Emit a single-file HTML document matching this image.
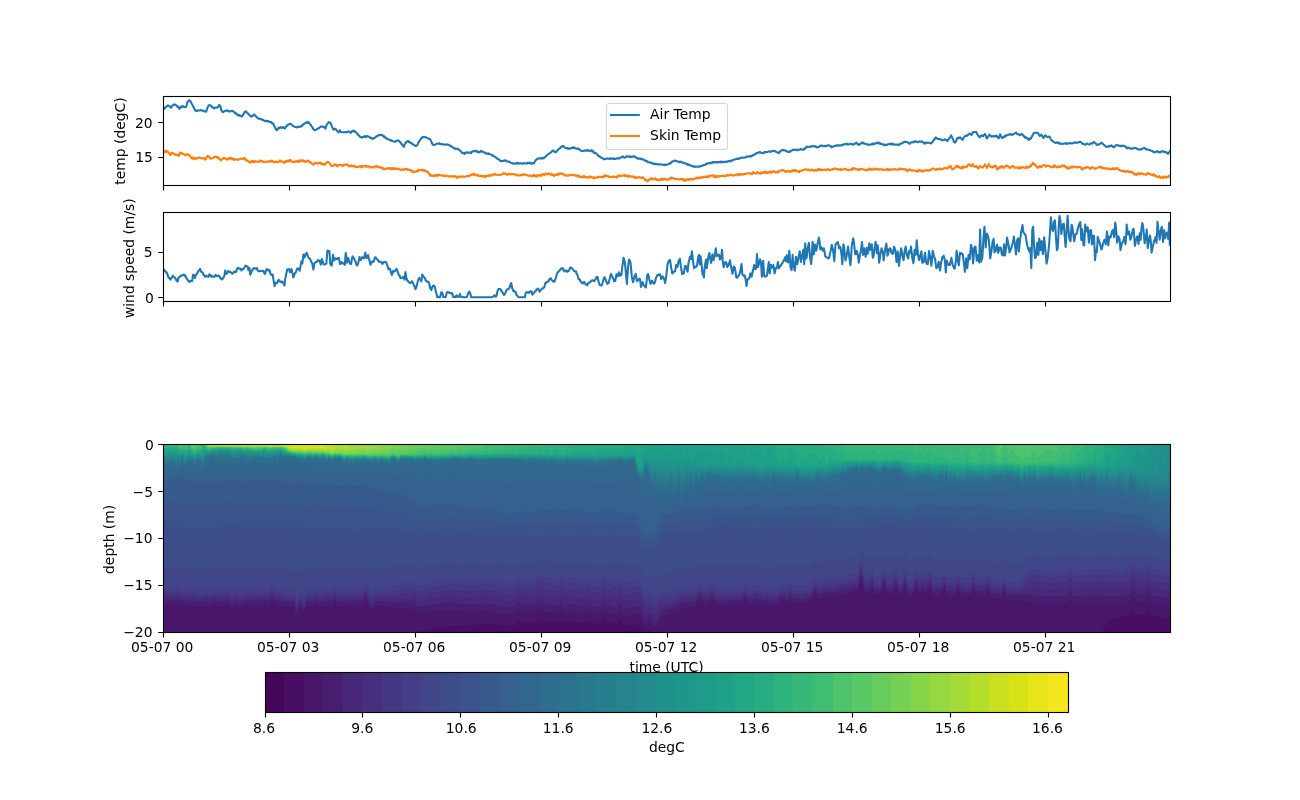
<!DOCTYPE html>
<html><head><meta charset="utf-8"><title>figure</title>
<style>html,body{margin:0;padding:0;background:#fff}svg{display:block}text{font-family:"DejaVu Sans","Liberation Sans",sans-serif;font-size:13.89px;fill:#000}</style></head><body>
<svg width="1300" height="800" viewBox="0 0 1300 800">
<rect width="1300" height="800" fill="#fff"/>
<clipPath id="c1"><rect x="163.5" y="96.5" width="1007.0" height="89.0"/></clipPath>
<g clip-path="url(#c1)" fill="none" stroke-width="2.08" stroke-linejoin="round" stroke-linecap="square">
<path d="M163.7 109.2 164.4 108.7 165.1 107.8 165.5 107 165.8 107.3 166.5 106.6 167.2 105.8 167.9 105.4 168.6 105.7 169.3 106.2 169.8 106.5 170.7 107.6 171 107.7 171.4 107.3 172.1 105.9 172.8 105.5 173.5 104.9 174.1 104.4 174.9 104.6 175.6 105 176.3 105.4 176.5 105.4 177 106.2 177.7 106.9 178.4 106.6 179.1 108 179.4 108.9 179.8 108.2 180.5 107.5 180.8 107 181.2 107.3 181.9 106.2 182.6 106 183.3 106.9 184 106.9 184.5 107.1 185.4 107 186 106.9 186.8 104.5 187.2 103.1 187.5 102.2 188.2 101.2 188.8 100.3 189.6 100.5 190.3 101.1 191 102.3 191.7 103.7 192.4 104.8 193.1 106.2 193.3 106.7 193.8 107.6 194.5 108.9 194.9 110.3 195.2 110.2 195.9 111 196.2 110.7 196.6 111.1 197.3 110.8 198 110.3 198.7 110.5 199.4 110.5 200.1 110.5 200.4 110.1 200.8 110.1 201.5 110.4 202.2 110.3 202.9 110.8 203.6 111.3 204.1 110.9 205 111.5 205.7 111.8 206.3 111.5 207.1 108.8 207.8 106.9 208.5 105.7 209 105.1 209.9 105.2 210.6 105.2 210.8 105.7 211.3 106 212 107.1 212.4 107.4 212.7 107.1 213.4 107.6 213.9 108.4 214.8 108.1 215.5 107.6 215.8 107.7 216.2 107.7 216.9 107.6 217.6 107.5 218.3 106.3 219 105.2 219.2 104.8 219.7 106 220.3 106.1 221.1 109.7 221.8 111 222.5 111.6 222.7 112.3 223.2 111.7 223.9 111.6 224.3 111 224.6 111.1 225.3 111.2 226 110.8 226.7 110.4 227.4 110.4 228.1 111.3 228.6 111 229.5 111.2 229.8 111.6 230.2 111.4 230.9 111.3 231.6 110.7 232.3 110.9 233 111.1 233.5 111.7 234.4 112 235.1 113 235.3 113.5 235.8 113.1 236.5 113.4 237.2 114.8 237.9 115.5 238.6 114.9 239.3 115.1 239.6 115.7 240 115.5 240.7 115.9 241.4 116.2 241.8 116.6 242.1 116.1 242.8 115.4 243.3 114.6 244.2 112.7 244.5 112.1 244.9 111.8 245.6 111.8 246 111.3 246.3 111.6 247 112.9 247.6 113.1 248.4 113.9 249.1 114.8 249.4 114.9 249.8 115.3 250.5 116.1 251.2 116.7 251.9 116 252.5 116.1 253.3 115 253.7 114.4 254 114.6 254.7 115 255 115.7 255.4 115.5 256.1 116.7 256.8 116.9 257.5 117.9 258.2 118.6 258.6 118.7 258.9 118.6 259.6 118.8 260.3 118.9 261 119.1 261.7 119.8 262.3 119.6 263.1 119.9 263.8 120.5 264.1 120.8 264.5 120.9 265.2 120.9 265.9 121.1 266.6 120.7 267.3 121.4 268 121.2 268.7 121.1 269.1 121.6 269.4 121.9 270.1 121.9 270.8 122.1 271.5 122.1 272.2 123.7 272.9 123.7 273.3 123.6 273.6 124.3 274.3 126.2 274.6 126.5 275 127.8 275.7 129 276.4 129.9 277 130 277.8 128.4 278.2 128.8 278.5 128.1 279.2 128.1 279.5 127.6 279.9 127.6 280.6 127.1 281.3 127.7 282 127.9 282.7 127.2 283.1 127.6 283.4 127.4 284.1 127.8 284.8 127.8 285 128.6 285.5 127.2 286.2 126.5 286.8 125.8 287.6 125 288 124.8 288.3 124.6 289 124.5 289.7 123.9 290 124 290.4 123.8 291.1 124.1 291.8 124.8 292.4 125.2 293.2 126.1 293.9 126.3 294.2 126.7 294.6 126.7 295.3 127 296 127.1 296.7 127.5 297.4 126.9 298.1 126.9 298.5 127 298.8 127 299.5 126.8 300.2 126.3 300.9 126.8 301.6 126.2 302.3 125.1 303 124.9 303.5 124.1 303.7 123.8 304.4 123.7 305.1 123.2 305.8 122.9 306.5 122.2 307.2 122.9 307.9 122.1 308.1 121.8 308.6 122.7 309.3 123.2 310 124.1 310.2 124.2 310.7 124.9 311.4 126.1 312.1 126.9 312.8 128.3 313.5 129.1 314.2 130 314.9 130.2 315.6 130 316.3 129.5 317 129 317.7 129 318.4 128.1 318.9 128.1 319.1 128.1 319.8 127.2 320.5 126.9 321.2 126.3 321.9 126.7 322.6 126.6 323.1 126.9 324 127.5 324.7 127.1 325.4 128.7 326.1 126.2 326.8 124.7 327.5 123.6 328.2 122.9 328.9 122 329.3 122.3 329.6 122.6 330.3 122.8 330.8 123.3 331.7 125.9 332.4 127.5 333.1 128.8 333.6 129.6 334.5 129.1 335.2 128.7 335.5 128.9 335.9 129.2 336.6 130.5 337.3 131.1 338 131.9 338.7 132.3 339.4 131.2 339.8 130.2 340.1 130.9 340.8 131.9 341.5 132.1 342.2 132.2 342.9 132.3 343.6 132.2 344.1 132.2 345 132.3 345.7 132.1 346.4 132.4 347.1 131.8 347.8 131.7 348.5 131.7 348.8 131.3 349.2 132 349.9 132 350.6 132.5 350.9 132.8 351.3 132.3 352 131.2 352.7 130.8 353.4 130.6 354.1 131.6 354.5 131.4 354.8 131.4 355.5 131.9 356.2 132.6 356.4 132.8 356.9 133.2 357.6 134.1 358.2 135 359 135.5 359.7 136.5 360.1 136.8 360.4 136.8 361.1 137.3 361.6 137.2 361.8 137.6 362.5 137.1 363.2 136.9 363.8 137 364.6 136.1 365.3 136.9 365.6 136.6 366 136.9 366.7 136.2 367.4 136.1 367.7 136.1 368.1 136.5 368.8 136.8 369.5 137 369.9 137.4 370.2 137.9 370.9 138 371.6 137.9 372.3 138.9 373 138.6 373.7 138.5 374.4 137.9 374.9 138 375.1 137.3 375.8 137.1 376.5 136.3 377.2 136 377.9 135.7 378.6 135.1 379.3 135 379.8 134.8 380 135.1 380.7 135.1 381.4 134.7 382.1 135.2 382.8 135.7 383.5 136.6 384.1 136.1 384.9 137.1 385.6 138.2 385.9 137.8 386.3 138 387 138.8 387.7 139.3 388.4 139.2 389.1 139.8 389.8 139.9 390.5 140.5 390.9 140.2 391.2 140.7 391.9 140.5 392.6 141.1 393.3 141.4 394 141.7 394.7 141.5 395.4 141.1 395.8 141.4 396.1 141.3 396.8 140.7 397.5 140.3 398.2 140.6 398.9 140.7 399.5 141.5 400.3 142.5 401 143.1 401.3 143.9 401.7 143.9 402.4 145.2 403.1 145.8 403.8 146.9 404.5 144.4 405 143.8 405.9 142.6 406.2 141.9 406.6 142.1 407.3 141.4 408 140.9 408.7 142 409.4 141.9 409.9 142.4 410.8 142.6 411.5 143.6 411.8 143.7 412.2 143.5 412.9 144.4 413.6 144.7 414.3 145.1 415 145.6 415.5 145.9 415.7 146 416.4 145.8 416.9 145.5 417.8 144.2 418.5 142.4 419.2 141.5 419.9 140.3 420.4 139.7 421.3 138.2 422 138 422.2 137.3 422.7 137.2 423.4 136.9 424.1 137.1 424.8 137.2 425.5 137.1 426.2 137.4 426.5 137.6 426.9 137.7 427.6 138.3 428.3 138.5 429 138.8 429.7 139.1 430.2 139.3 431.1 141.1 431.8 142.7 432.1 143.6 432.5 144 433.2 144.9 433.9 145.1 434.6 144.9 435.1 144.7 436 144.2 436.7 143.8 437 143.9 437.4 143.4 438.1 143.6 438.8 143.5 439.5 143.4 440 144.1 440.9 144.1 441.6 144 442.3 144.3 443 144.4 443.7 144.4 444.4 144.5 445.1 144.7 445.5 144.8 445.8 144.5 446.5 144.7 447.2 144.3 447.9 144.7 448.6 144.8 449.3 145.1 450 145.6 450.7 146.1 451.1 146 451.4 146.3 452.1 146.9 452.8 147.4 453.5 147.7 454.2 148.6 454.9 148.3 455.6 148.9 456 149.2 456.3 148.8 457 148.7 457.7 148.6 458.4 148.9 459.1 149.8 459.8 150.3 460.3 150.9 461.2 151.7 461.9 152.8 462.1 152.4 462.6 153 463.3 153.1 464 152.9 464.6 153.8 465.4 152.7 466.1 152.6 466.8 152.3 467.1 152.8 467.5 152.3 468.2 152.6 468.9 152.5 469.6 152.6 470.3 152.4 470.8 152.8 471 153.2 471.7 151.8 472.4 151.3 472.6 151.3 473.1 151.4 473.8 151.2 474.5 151.1 475.1 150.6 475.9 151.3 476.6 151.5 477.3 151.2 477.5 152.1 478 152.4 478.7 151.9 479.4 152.3 480.1 152.3 480.8 151.2 481.2 150.8 481.5 151.1 482.2 151.6 482.9 151.8 483.1 152.2 483.6 152.3 484.3 152.2 485 152.9 485.5 153.4 486.4 153.4 487.1 153.6 487.8 153.5 488 153.8 488.5 153.4 489.2 154 489.9 154 490.5 154.4 491.3 154.8 492 154.9 492.7 155.6 492.9 156.1 493.4 155.7 494.1 156.3 494.8 156.7 495.4 156.9 496.2 157.9 496.9 158.5 497.6 158.7 497.9 158.8 498.3 159 499 159.7 499.7 160 500.3 160.9 501.1 161.1 501.8 161.3 502.1 161 502.5 161.1 503.2 160.8 503.9 161 504.6 160.4 505.3 160.1 506 160.9 506.7 161.5 507.1 161.3 507.4 161.5 508.1 161.7 508.8 161.5 509.5 161.9 510.2 162.3 510.9 162.8 511.6 163.1 512 163.3 512.3 163.1 513 163.6 513.7 163.5 514.4 163.5 515.1 163.8 515.8 163.4 516.5 162.9 517.2 163.4 517.5 163.7 517.9 162.9 518.6 163.5 519.3 163.5 520 163.3 520.7 163.3 521.2 163.5 522.1 163.4 522.8 163.8 523.5 163.6 524.2 163 524.9 163.2 525.6 163.4 526.3 163.5 527 163 527.4 162.8 527.7 163.3 528.4 162.9 529.1 162.9 529.8 162.8 530.5 163.1 531.2 163.8 531.9 163 532.3 163.4 532.6 163 533.3 163.3 534 163.4 534.7 161.9 535.4 160.5 536.1 159.9 536.8 159.2 537.2 159.1 537.5 158.9 538.2 158.5 538.9 158.4 539.6 158.3 540.3 158.4 541 158.1 541.7 158.6 542.1 158.3 542.4 157.8 543.1 157.8 543.8 158.3 544.4 157.4 545.2 156.9 545.9 156.5 546.6 155.4 547.3 154.9 548 154.3 548.3 154.3 548.7 153.9 549.4 153.5 550.1 153 550.8 152.3 551.5 152 552.2 151 552.6 150.5 552.9 150.5 553.6 150.9 554.3 151.5 555 152.2 555.7 152.3 556.4 151.5 557.1 150.7 557.5 150.3 557.8 150.1 558.5 149.4 559.2 148.5 559.4 148.5 559.9 148.5 560.6 147.1 561.2 147.1 562 146.2 562.7 146.4 563.1 146 563.4 145.8 564.1 146.8 564.8 147.7 565.5 147.7 566.2 148.3 566.8 148.4 567.6 148 568.3 148.9 568.6 148.8 569 148.4 569.7 148.8 570.4 148.5 571.1 148.1 571.8 148.2 572.5 147.5 572.9 147.8 573.2 147.4 573.9 147.9 574.6 147.6 575.3 148.4 576 148.3 576.7 148.8 577.4 148.5 577.9 148.7 578.1 149.2 578.8 148.6 579.5 149.4 580.2 150.3 580.9 150.5 581.6 151 582.1 151 583 151.1 583.7 150.7 584.4 150.5 584.6 150.4 585.1 150.7 585.8 150.7 586.5 150.7 587.2 149.9 587.7 150.3 588.6 150.7 589.3 150.9 590 150.7 590.7 150.6 591.4 150.3 592.1 151.3 592.6 150.6 593.5 152.2 594.2 153 594.5 153 594.9 152.5 595.6 153.1 596.3 153.4 597 154.4 597.5 154.8 597.7 155.1 598.4 155.7 599.1 156.5 599.8 156.5 600.5 157.4 601.2 157.4 601.9 157.8 602.6 158.3 603.3 158.6 603.6 159.3 604 159.3 604.7 159.3 605.4 158.9 606.1 158.9 606.7 158.6 607.5 158.4 608.2 158.8 608.9 158.8 609.6 158.4 610.3 158.9 611 158.3 611.7 158.7 612.4 158.6 613.1 158.6 613.5 158.4 613.8 158.9 614.5 158.9 615.2 159 615.9 158.7 616.6 158.4 617.1 158.6 618 158.2 618.7 158.4 619.4 158.4 620.1 158 620.8 157.4 621.5 157.1 622.2 156.9 622.7 156.3 623.6 157.2 624.3 157.7 624.5 157.7 625 157.5 625.7 157.1 626.4 156.4 627 156 627.8 156.6 628.5 156.5 629.2 157 629.5 156.4 629.9 156.2 630.6 157 631.3 157.1 631.9 156.8 632.7 156.5 633.4 156.7 633.8 156.2 634.1 156.7 634.8 156.6 635.5 157.4 636.2 157.3 636.9 158 637.6 158.6 638.3 158.3 639 158.8 639.3 158.5 639.7 158.5 640.4 158.5 641.1 159.2 641.8 159 642.4 159.5 643.2 159.2 643.9 159.8 644.6 160.2 644.9 160.7 645.3 161 646 160.7 646.7 161 647.4 161.2 647.9 162.2 648.8 162.2 649.5 162.4 650.2 162.8 650.9 162.4 651.6 162.8 652.3 163.6 653 163.5 653.7 163.6 654.1 163.4 654.4 163.8 655.1 164.3 655.8 163.7 656.5 164.1 657.2 164.1 657.8 164.4 658.6 164.4 659.3 164.4 660 164.3 660.7 164.5 661.4 164.4 662.1 164.6 662.8 164.7 663.5 164.9 664.2 164.7 664.5 164.8 664.9 165.1 665.6 164.6 666.3 164.5 667 164.7 667.6 164.4 668.4 164.1 669.1 163.8 669.8 163.2 670.1 163.5 670.5 163.4 671.2 162.7 671.9 161.6 672.5 161.6 673.3 161 674 160.9 674.7 160.7 675.4 160.5 676.1 161.3 676.8 161.1 677.5 161.5 678.2 161.7 678.9 162.1 679.3 162.2 679.6 161.6 680.3 162.1 681 161.6 681.7 162.2 682.4 162.6 683.1 162.8 683.8 163.2 684.5 163 685.2 163.4 685.5 163.4 685.9 163.8 686.6 164.1 687.3 163.9 688 165.1 688.5 164.4 689.4 164.7 690.1 165.3 690.8 165.6 691.5 165.9 692.2 165.8 692.9 166.5 693.6 166.3 694.1 166.8 695 166.9 695.7 166.4 696.4 166.6 697.1 166.5 697.8 166.7 698.5 166.6 699.2 166.6 699.6 166.3 699.9 166.5 700.6 166.5 701.3 165.7 702 165.7 702.7 165.7 703.4 165.2 704.1 164.8 704.8 165 705.5 164.5 705.8 164.2 706.2 163.7 706.9 164.2 707.6 163.6 708.3 163.2 708.9 163.1 709.7 162.9 710.4 163.5 711.1 162.9 711.8 162.8 712.5 162.1 713.2 162.7 713.9 162.1 714.6 161.9 715 162.3 715.3 162 716 162.4 716.7 162.6 717.4 161.9 718.1 162.4 718.8 161.9 719.5 162.2 720.2 162.3 720.9 161.6 721.1 162.4 721.6 161.9 722.3 161.7 723 162 723.7 162.3 724.2 161.8 725.1 162 725.8 161.5 726.5 162 727.2 161.6 727.9 161.3 728.6 161.5 729.3 160.8 730 160.9 730.4 161.4 730.7 160.8 731.4 160.9 732.1 160.4 732.8 160 733.5 159.9 734.2 159.8 734.9 159.4 735.6 159.1 736.3 159 736.5 158.7 737 159 737.7 158.9 738.4 158.9 739.1 158.1 739.6 158.7 740.5 158.2 741.2 157.6 741.9 157.8 742.6 157.7 743.3 157.6 744 157.6 744.7 157.5 745.4 157.5 745.8 157.2 746.1 156.6 746.8 156.7 747.5 156.8 748.2 156.3 748.9 156.4 749.6 156.4 750 156.3 750.3 156.7 751 155.8 751.7 156.1 752.4 155.6 753.1 155.1 753.8 155 754.5 154.3 754.9 154.4 755.2 153.7 755.9 153.7 756.6 153.1 757.3 152.9 758 152.7 758.7 152.3 759.4 152.6 759.9 152 760.1 152.1 760.8 152.8 761.5 153 762.2 153.1 762.9 152.9 763.6 153.2 764.3 152.1 764.8 152.1 765 152 765.7 152.3 766.4 152.1 767.1 152.1 767.8 151.9 768.5 151.6 769.2 151.3 769.9 151.2 770.6 151.9 770.9 151.6 771.3 151.4 772 151.1 772.7 151.1 773.4 151 774 151 774.8 150.8 775.5 151.7 776.2 151.8 776.5 152.1 776.9 152.3 777.6 152.7 778.3 152.7 778.9 153.1 779.7 151.5 780.4 151.2 780.8 151.5 781.1 150.6 781.8 150.3 782.5 150.1 783.2 149.8 783.9 150.5 784.6 150.3 785.1 150.3 786 150.9 786.7 151.1 787.4 151.7 788.1 151.9 788.8 151.9 789.5 151.3 790.2 151.9 790.6 151.1 790.9 150.9 791.6 150.7 792.3 150.2 793 149.7 793.7 149.8 794.4 149.9 795.1 149.8 795.5 149.8 795.8 149.5 796.5 149.5 797.2 150.3 797.9 149.8 798.6 149.8 799.3 149.7 800 149.7 800.5 148.9 800.7 149.2 801.4 149.4 802.1 149.7 802.8 149.4 803.5 149.7 804.2 148.5 804.8 148.9 805.6 148.1 806.3 147.3 806.6 146.5 807 147.1 807.7 146.7 808.4 146.7 809.1 146.9 809.8 146.7 810.5 146.8 811.2 146.7 811.5 145.9 811.9 146.2 812.6 146.5 813.3 146.3 814 146.3 814.7 146 815.4 146.9 816.1 146.6 816.5 147.2 816.8 147.4 817.5 147.5 818.2 147 818.9 147 819.6 146.2 820.3 145.7 820.8 145.8 821 145.6 821.7 145.7 822.4 145.6 823.1 146.2 823.8 146.3 824.5 145.8 825.2 145.8 825.7 146.3 826.6 145.8 827.3 145.6 828 145.3 828.7 145.4 829.4 145.5 830 145.9 830.8 146.1 831.5 147.3 831.9 146.9 832.2 146.9 832.9 146.9 833.6 146.4 834.3 146 835 146 835.7 145.9 836.4 145.2 836.8 145.5 837.1 145.5 837.8 145.4 838.5 145.7 839.2 145.4 839.9 145.4 840.6 145.3 841.3 145.4 841.7 145.1 842 145.4 842.7 144.6 843.4 144.9 844.1 144.1 844.8 144.1 845.5 144.1 846.2 144.3 846.6 143.9 846.9 143.7 847.6 144.5 848.3 144.5 849 144.2 849.7 144.2 850.4 143.7 850.9 143.7 851.8 143.9 852.5 144.6 852.8 144.8 853.2 144.5 853.9 144.1 854.6 143.5 855.3 143.6 856 143 856.5 142.8 856.7 142.9 857.4 143.8 858.1 144.4 858.3 144.9 858.8 144.9 859.5 144.3 860.1 144.2 860.9 143.5 861.6 143.3 862.2 142.4 863 142.5 863.7 143.4 864.4 143.6 865.1 143.6 865.8 144.2 866.5 144.3 866.9 144.4 867.2 144.3 867.9 144.5 868.6 144.6 869.3 145 870 144.5 870.7 144.5 871.4 144.4 872.1 143.7 872.8 143.6 873.1 144.5 873.5 143.5 874.2 144 874.9 143.5 875.5 143.5 876.3 143 877 143 877.7 143.2 878.4 142.4 878.6 142.9 879.1 143 879.8 143.7 880.5 143.3 881.1 144 881.9 144.2 882.6 144.2 883.3 144.2 884 145.2 884.7 144.6 885.4 144.8 886.1 145.1 886.6 145.2 887.5 144.4 888.2 144.3 888.9 143.9 889.6 144 890.3 144.4 891 143.5 891.7 144.3 892.4 143.5 892.8 144.3 893.1 144.1 893.8 144.9 894.5 144.6 895.2 144.4 895.9 144.6 896.6 144.5 897.3 144.7 898 144.6 898.7 144.8 898.9 145.1 899.4 144.7 900.1 143.9 900.8 143.5 901.4 143.5 902.2 143.5 902.9 142.7 903.6 142.2 903.9 142.3 904.3 141.7 905 141.6 905.7 142.1 906.4 142 907.1 142 907.5 142.3 907.8 142.4 908.5 143 909.2 143.7 909.9 143.6 910.6 142.9 911.1 142.2 912 142.2 912.7 142.2 913.4 142.4 913.6 141.6 914.1 141.8 914.8 141.5 915.5 141.6 916.1 141.3 916.9 142 917.6 142.2 917.9 142.1 918.3 141.9 919 141.8 919.7 141.4 920.4 141.6 921.1 141.7 921.8 141.3 922.2 141.9 922.5 141.7 923.2 142.3 923.9 143.5 924.1 143.6 924.6 143 925.3 143.5 926 142.6 926.5 142.4 927.4 142.9 928.1 142.8 928.8 142.7 929 142.7 929.5 143 930.2 143.1 930.9 143.4 931.5 143.2 932.3 142 933 141.3 933.3 140.4 933.7 140.3 934.4 139.5 935.1 138.1 935.8 137.4 936.5 138.3 937.2 138.4 937.6 139 937.9 139 938.6 139 939.3 139.1 940 139.1 940.7 139.3 941.4 140 942.1 140.2 942.5 140.2 942.8 140.4 943.5 139.8 944.2 139.9 944.9 139.4 945.6 139.7 946.3 140 947 140.4 947.5 141.2 947.7 139.9 948.4 139.4 949.1 138.8 949.3 138.3 949.8 137.4 950.5 137 951.1 135.4 951.9 136.8 952.6 138.6 953.3 140 954 141.9 954.7 142.6 955.4 142.4 956.1 141 956.8 139.2 957.3 138.2 958.2 137.6 958.9 138.1 959.1 137.7 959.6 137.9 960.3 137.4 961 138.3 961.7 139.2 962.4 139.8 962.6 139.9 963.1 138.8 963.8 137.4 964.1 137.1 964.5 136.7 965.2 136.2 965.9 135.6 966.6 136 967.3 135.1 967.8 135.3 968 134.9 968.7 134.5 969.4 133.9 969.6 133.5 970.1 133.7 970.8 133.7 971.5 135 972.2 133.6 972.9 132.5 973.3 132 973.6 131.9 974.3 132.1 975 132.1 975.7 131.9 976.4 132.2 977.1 133.7 977.6 134.6 978.5 135.9 979.2 136.8 979.5 137.4 979.9 137.1 980.6 136 981.3 135.7 982 135.3 982.7 135.9 983.1 136.3 983.4 135.6 984.1 134.8 984.8 134.3 985 133.9 985.5 134.9 986.2 137.2 986.9 138.6 987.6 137.3 988.3 136.4 989 135.3 989.3 135 989.7 134.7 990.4 135.8 991.1 136 991.8 136.8 992.5 136.1 993.2 136.3 993.9 136.4 994.2 136.5 994.6 135.9 995.3 136.5 996 136 996.7 135.6 997.4 136.9 998.1 137.6 998.5 138.4 998.8 138.1 999.5 136 1000 134.3 1000.9 135.8 1001.6 137.2 1002.2 138.2 1003 137.4 1003.7 136.9 1004.4 136.7 1004.7 136.9 1005.1 135.5 1005.8 135.9 1006.5 135.4 1007.1 135.3 1007.9 135.1 1008.6 134.7 1009.3 134.3 1009.6 134.1 1010 134 1010.7 134.9 1011.4 134.6 1012.1 134.6 1012.7 134.8 1013.5 133.9 1014.2 133.7 1014.9 133.4 1015.6 132.8 1016.3 132.6 1017 134.1 1017.6 134.3 1018.4 134.2 1019.1 134.7 1019.8 135 1020.1 135.3 1020.5 134.7 1021.2 134.1 1021.9 133.8 1022.6 135.1 1023.3 135.3 1023.8 136.2 1024 136.2 1024.7 137.4 1025.4 136.7 1026.1 137.9 1026.8 137.8 1027.5 138.4 1028.2 139 1028.7 140.2 1029.6 138.7 1030.3 138.1 1031 138.6 1031.7 136.9 1032.4 135.6 1033.1 134.3 1033.6 133.3 1034.5 133 1035.2 132.9 1035.9 132.8 1036.1 132.8 1036.6 132.7 1037.3 132.8 1037.9 133 1038.7 134.4 1039.4 135.2 1039.8 135.8 1040.1 135.6 1040.8 135.3 1041.4 134.5 1042.2 136.1 1042.9 136.8 1043.5 137.9 1044.3 136.8 1045 135.5 1045.3 135.5 1045.7 135.4 1046.4 136.6 1047.1 136.8 1047.8 137 1048.5 136.8 1049.2 136.5 1049.9 137.1 1050.6 138.7 1051.3 140 1052 140.7 1052.7 141.1 1053.4 141.8 1053.9 142.2 1054.8 142.7 1055.5 142.9 1056.2 142.5 1056.9 142.3 1057.6 142.9 1058.3 143.2 1059 142.5 1059.7 143.4 1060.1 144 1060.4 143.7 1061.1 143.7 1061.8 143.8 1062.5 144.1 1063.2 143.7 1063.9 143.5 1064.6 143.6 1065.3 143.3 1066 143.6 1066.7 143.2 1067.1 143.9 1067.4 143.8 1068.1 143.5 1068.8 143.3 1069.5 143.5 1070.2 143 1070.9 143.2 1071.6 143.3 1072 143.6 1072.3 143.3 1073 143.3 1073.7 142.9 1074.4 142.4 1075.1 142.3 1075.8 143 1076.5 142.7 1076.9 142.7 1077.2 142.6 1077.9 142.4 1078.6 142.4 1079.3 142.2 1080 141.7 1080.7 142.2 1081.4 142.6 1082.1 143.1 1082.5 144 1082.8 143.6 1083.5 143.7 1084.2 144.3 1084.9 144.7 1085.6 144.6 1086.3 143.9 1087 143.8 1087.4 143.5 1087.7 143.8 1088.4 144.2 1089.1 144.5 1089.8 144.3 1090.5 143.4 1091.2 143.4 1091.9 143.3 1092.3 143.6 1092.6 143.1 1093.3 142.7 1094 141.9 1094.7 142.6 1095.4 143.4 1096.1 143.9 1096.6 144.9 1097.5 144.8 1098.2 144.4 1098.9 144.6 1099.1 144.7 1099.6 144 1100.3 143.5 1101 143 1101.5 142.6 1102.4 143.6 1103.1 144.1 1103.8 144.9 1104 145 1104.5 145.2 1105.2 145.9 1105.9 146.8 1106.5 146.8 1107.3 146.6 1108 146.9 1108.7 146.5 1108.9 146 1109.4 146.2 1110.1 145.7 1110.8 146.1 1111.4 145.4 1112.2 146.1 1112.9 146.9 1113.6 146.8 1113.8 147.5 1114.3 146.6 1115 146.3 1115.7 145.6 1116.3 145.1 1117.1 145.3 1117.8 145.4 1118.5 145.2 1118.8 145.8 1119.2 145.8 1119.9 146 1120.6 146.2 1121.2 145.6 1122 146.1 1122.7 146 1123.4 145.5 1123.7 145.8 1124.1 146.2 1124.8 146.2 1125.5 146.5 1126.2 147.3 1126.9 148.3 1127.6 147.8 1128.3 147.6 1128.6 147.9 1129 147.9 1129.7 148.3 1130.4 148.6 1131.1 148.2 1131.8 148.8 1132.5 148.8 1133.2 148.2 1133.9 148 1134.2 148.3 1134.6 147.8 1135.3 148 1136 148.1 1136.6 148.6 1137.4 149 1138.1 149.2 1138.8 149.6 1139.1 149.8 1139.5 149.7 1140.2 149.2 1140.9 149.3 1141.5 149.5 1142.3 148.6 1143 148.4 1143.7 148.1 1144 148 1144.4 147.9 1145.1 148.2 1145.8 149.5 1146.5 149.5 1147.2 149.2 1147.9 149.6 1148.6 149.9 1148.9 149.8 1149.3 150.1 1150 150.1 1150.7 150.5 1151.4 150.8 1152.1 151.1 1152.8 151.1 1153.5 152.1 1153.8 152.4 1154.2 152.3 1154.9 151.8 1155.6 152 1156.3 151.8 1157 151.3 1157.7 151.3 1158.4 152.1 1158.8 151.8 1159.1 152.3 1159.8 152.4 1160.5 151.7 1161.2 151.5 1161.9 151.6 1162.6 151.7 1163.3 151.1 1163.7 151.6 1164 151.7 1164.7 151.9 1165.4 151.9 1166.1 152.5 1166.8 152.9 1167.5 152.7 1168 153.8 1168.9 152.5 1169.2 152.4 1169.6 151.7 1170.2 150.9" stroke="#1f77b4"/>
<path d="M163.7 152.4 164.4 151.7 165.1 151.5 165.5 150.4 165.8 152.1 166.5 151.7 167.2 151 167.9 152.1 168.6 152.8 169.3 153.4 170 154.9 170.4 155 170.7 154.4 171.4 152.8 171.6 152.8 172.1 152.8 172.8 153.4 173.5 153.4 174.2 154.2 174.7 154.1 175.6 155 176.3 154.8 176.5 154.9 177 155.1 177.7 154.8 178.4 155.8 179.1 155.5 179.8 153.1 180.2 152.5 180.5 152.6 181.2 153.5 181.9 153.1 182.6 153.8 183.3 154.1 183.9 154.3 184.7 154.7 185.4 154.9 185.7 155.5 186.1 154.4 186.8 154.2 187.5 154 188.2 155.2 188.9 154.9 189.4 155.3 190.3 156.3 191 157.7 191.2 157.5 191.7 158.3 192.4 157.3 193.1 158.9 193.7 159.2 194.5 157.9 195.2 158.3 195.5 158.7 195.9 158.1 196.6 158.3 197.3 158.7 198 157.7 198.7 157.5 199.4 157.4 200.1 158.1 200.4 157.8 200.8 158 201.5 158.2 202.2 158.8 202.9 158.3 203.6 158.2 204.3 158 205 159.6 205.3 159.2 205.7 159.3 206.4 157.7 207.1 156.4 207.8 155.9 208.5 156.4 209.2 156.6 209.6 157.2 209.9 158.5 210.6 158.3 211.3 158.8 212 158.3 212.7 157.7 213.3 157.9 214.1 157.2 214.8 156.7 215.1 156.9 215.5 156.6 216.2 157.1 216.9 157.6 217.6 156.8 218.3 158.4 219 158.1 219.4 158.8 219.7 158.8 220.4 159.9 220.7 160.4 221.1 159.9 221.8 159.3 222.5 158.9 223.2 158.5 223.9 157.9 224.6 158.2 224.9 158.3 225.3 158.6 226 158.7 226.7 159.6 227.4 158.9 228.1 158.5 228.8 159.4 229.5 158 229.8 158.8 230.2 158.1 230.9 158.7 231.6 157.8 232.3 159.2 233 158.9 233.7 158.7 234.4 160 234.7 159.7 235.1 159.4 235.8 159.2 236.5 159.5 237.2 159.6 237.9 159.9 238.6 159.8 239.3 159.1 239.6 159.2 240 159.1 240.7 158.6 241.4 158.7 242.1 158.7 242.8 158.9 243.5 159 244.2 157.9 244.5 158.4 244.9 158.3 245.6 160.1 246.3 159.9 247 160.7 247.7 160.7 248.2 161.2 249.1 162.1 249.8 162.2 250.1 162.6 250.5 161.5 251.2 162 251.9 160.9 252.6 162.1 253.3 161.3 254 162 254.3 161 254.7 161.8 255.4 161.3 256.1 161.6 256.8 161.8 257.5 161.6 258.2 161.8 258.9 161.9 259.2 161.9 259.6 161.4 260.3 160.4 261 160.8 261.7 161.4 262.3 160.9 263.1 162.2 263.8 161.7 264.5 161.7 265.2 162.2 265.9 162.1 266.6 161.8 267.3 161.2 267.8 161.7 268.7 161.6 269.4 161 270.1 161.7 270.8 161.5 271.5 160.6 272.2 161.6 272.7 161.1 273.6 162.2 274.3 162.2 275 161.6 275.7 161.7 276.4 162 277.1 161.8 277.6 162.5 278.5 161.9 279.2 161.3 279.9 161.5 280.1 160.4 280.6 161.4 281.3 161.8 282 161.4 282.5 161.3 283.4 162.1 284.1 162.8 284.4 162.2 284.8 161.5 285.5 162.4 286.2 160.8 286.9 161.5 287.6 160.8 288 161.3 288.3 160.5 289 161.3 289.7 160.8 290 159.9 290.4 159.9 291.1 160.9 291.8 161.8 292.4 161.6 293.2 161.7 293.9 161.7 294.2 162.2 294.6 162 295.3 161.7 296 161 296.7 161.7 297.4 161.7 298.1 160.5 298.8 162 299.5 161.2 299.8 160.7 300.2 160.1 300.9 161.2 301.6 161.2 302.3 160.7 303 160.2 303.5 161.4 303.7 160.7 304.4 160.7 305.1 162 305.8 161.7 306.5 161.1 307.1 160.5 307.9 161.4 308.6 160.6 309.3 162 309.6 161.8 310 161.9 310.7 162.2 311.4 163.5 312.1 163.7 312.8 164.2 313.3 164.7 314.2 163.7 314.9 163.2 315.6 162.7 316.3 163.2 317 163.6 317.7 163.1 318.2 163.4 319.1 162.6 319.8 162.9 320.5 162.8 320.7 162.6 321.2 164.2 321.9 164.1 322.6 163.8 323.1 164 324 164.5 324.7 164 325 164.8 325.4 163.7 326.1 163.4 326.8 162.4 327.5 161.9 328.2 162.1 328.9 162.4 329.3 163 329.6 163.4 330.3 164.4 331 165.4 331.7 166.3 332.4 166.1 333 165.7 333.8 165.5 334.5 164.4 334.9 165 335.2 164.8 335.9 164.5 336.6 165.9 337.3 166.4 338 164.8 338.7 165.4 339.1 165.4 339.4 164.8 340.1 165 340.8 165 341.5 165.5 342.2 165.2 342.9 166 343.6 164.6 344.1 165.1 345 164.7 345.7 164.9 346.4 164.4 347.1 164.3 347.8 165 348.5 166 349 166.5 349.9 166 350.6 165.9 351.3 165.3 352 166.3 352.7 166.3 353.4 165.7 354.1 166.1 354.8 165.9 355.1 167.1 355.5 166.7 356.2 166.7 356.9 167.1 357.6 167.3 358.2 167.1 359 166.6 359.7 166.4 360.4 166 361.1 166.7 361.3 167.4 361.8 165.7 362.5 166.5 363.2 166.6 363.8 166 364.6 166.4 365.3 165.8 366 166.6 366.2 165.8 366.7 166.3 367.4 166.7 368.1 166.5 368.7 166.1 369.5 166.8 370.2 167.4 370.9 167.2 371.1 167.4 371.6 166.8 372.3 167.2 373 167.3 373.6 166.8 374.4 167.6 375.1 166.6 375.8 166.2 376.5 165.9 377.2 167 377.9 166.6 378.6 167.1 379.3 167.1 380 167.7 380.4 167.6 380.7 167.1 381.4 167.7 382.1 168.3 382.8 167.7 383.5 169.2 384.2 169.2 384.9 169.2 385.6 168.8 385.9 169 386.3 168.4 387 168.7 387.7 168.3 388.4 168.5 389 168.1 389.8 168.6 390.5 169.1 391.2 168.2 391.9 169.3 392.1 168.1 392.6 168 393.3 168.9 394 168.9 394.7 169.1 395.1 168.2 395.4 168.9 396.1 168.8 396.8 169.2 397.5 168.5 398.2 169.1 398.9 168.8 399.6 169.5 400.1 169.6 401 170.1 401.7 169.4 402.4 169.4 403.1 169.8 403.8 170.1 404.5 169.3 405 169 405.9 168.8 406.6 169.4 406.9 169.1 407.3 169.9 408 169.6 408.7 169.4 409.3 169.9 410.1 170 410.8 170.1 411.5 171.4 411.8 171.4 412.2 170.6 412.9 172.1 413.6 171.7 414.2 171.3 415 171.9 415.7 171.7 416.4 171.4 416.7 170.9 417.1 171.5 417.8 171.2 418.5 169.5 419.1 170.4 419.9 170.4 420.6 170 421.3 170.2 421.6 170 422 169.8 422.7 170.1 423.4 170.9 424.1 169.8 424.7 170.6 425.5 171.1 426.2 171.1 426.9 171.7 427.1 171.4 427.6 172 428.3 173 429 173.8 429.6 173.8 430.4 176 431.1 175 431.8 175.8 432.1 175.8 432.5 175.7 433.2 176.3 433.9 175.4 434.5 176 435.3 175.8 436 174.8 436.7 175.6 437.4 174.8 437.6 176.2 438.1 175 438.8 175 439.5 174.8 440 175.1 440.9 175.5 441.6 175.4 442.3 175.3 443 175.6 443.7 175.9 444.4 176.6 445.1 175.4 445.8 175.9 446.5 175.8 447.2 175.7 447.4 175.8 447.9 175.9 448.6 176.6 449.3 176.2 450 176.1 450.7 176.6 451.1 176.4 451.4 176.2 452.1 176.5 452.8 176 453.5 176.6 454.1 176.5 454.9 176.3 455.6 176.2 456.3 177.5 456.6 177 457 178.2 457.7 176.6 458.4 177.1 459.1 176.5 459.7 176.8 460.5 177 461.2 176.2 461.9 176.5 462.6 176.6 463.3 176.5 464 176.7 464.7 176.8 465.4 176.7 466.1 176.4 466.5 176.2 466.8 175.8 467.5 175.9 468.2 175.9 468.9 176.3 469.5 175.8 470.3 175 471 175.5 471.7 174.5 472 174.4 472.4 174.6 473.1 174.9 473.8 173.7 474.5 174.2 475.2 174.9 475.9 174.8 476.6 174.7 476.9 174.9 477.3 175.8 478 175.2 478.7 175.8 479.4 176 480.1 175.6 480.8 176.2 481.5 175.9 482.2 176 482.5 175.8 482.9 176.7 483.6 176.1 484.3 176.1 485 175.8 485.5 177.1 486.4 176.5 487.1 176 487.8 175.7 488 175.3 488.5 176 489.2 175.8 489.9 175 490.5 175.9 491.3 175.5 492 174.6 492.7 174.5 492.9 174.5 493.4 174.7 494.1 174.4 494.8 173.7 495.4 174.8 496.2 174.5 496.9 175 497.6 175.1 498.3 174.6 499 174.9 499.7 175 500.4 175 500.9 174.6 501.8 174.1 502.5 174.2 503.2 173.6 503.4 173.6 503.9 173.1 504.6 174 505.3 173.6 506 173.9 506.5 174.2 506.7 174.4 507.4 175 508.1 174.3 508.8 173.6 509.5 174.3 510.1 174 510.9 174.4 511.6 174 512.3 174.1 513 174.2 513.7 174.2 514.4 173.8 515.1 174.4 515.8 174.8 516.5 175.4 517.2 174.9 517.5 174.9 517.9 175.3 518.6 175.2 519.3 175.6 520 175.1 520.7 174.8 521.2 175.3 522.1 175.4 522.8 174.5 523.5 174.8 524.2 174 524.9 174.6 525.6 174.5 526.3 175 527 175.1 527.4 175.4 527.7 175.5 528.4 175.8 529.1 175.8 529.8 175.6 530.5 175.4 531.2 176.4 531.9 176.4 532.6 175.6 533.3 175.9 533.5 175 534 175.1 534.7 175.7 535.4 176.4 536.1 175.4 536.8 175.6 537.2 176.6 537.5 175.1 538.2 175.9 538.9 175.6 539.6 175 540.3 175.1 541 176 541.7 174.4 542.4 174.6 542.8 174.6 543.1 174.4 543.8 174 544.5 175.1 545.2 174.4 545.9 173.5 546.6 173.8 547.3 174.2 548 174.1 548.7 173.3 548.9 173.8 549.4 174.1 550.1 174.2 550.8 174.4 551.5 173.6 552 175.2 552.9 174.7 553.6 175.5 554.3 176.1 555 175 555.7 174.4 556.4 175 557.1 174.3 557.5 174 557.8 173.7 558.5 174.8 559.2 173.8 559.9 173.3 560.6 173.7 561.3 173.4 562 173.9 562.5 173.7 562.7 173.5 563.4 174.6 564.1 174.4 564.8 175.3 565.5 175.7 566.2 175.2 566.9 175.3 567.4 175.8 568.3 175.7 569 175.1 569.7 174.8 570.4 174.8 571.1 175 571.8 175.2 572.5 174.7 572.9 174.9 573.2 175.1 573.9 174.9 574.6 175.4 575.3 175.7 576 175.6 576.7 175.5 577.4 175.5 577.9 176.7 578.1 176.4 578.8 175.7 579.5 176 580.2 177.3 580.9 177.3 581.6 176.8 582.3 177.3 583 176.2 583.7 176.9 584 177.2 584.4 176.2 585.1 176.7 585.8 177.4 586.5 177.6 587.2 176.9 587.7 177.3 588.6 177.8 589.3 176.9 590 176.4 590.7 176.9 591.4 176.9 592.1 177.7 592.8 177.4 593.5 177.1 593.9 178.5 594.2 177.3 594.9 177.7 595.6 177.8 596.3 177.7 597 177.4 597.7 177.5 598.1 177.1 598.4 176.5 599.1 177 599.8 176.9 600.5 176.9 601.1 177 601.9 176.6 602.6 177.4 603.3 177.4 604 175.8 604.2 176.7 604.7 176.2 605.4 175.2 606.1 176.3 606.7 175.7 607.5 176 608.2 176 608.9 176.9 609.6 177.2 610.3 176.8 611 177 611.7 176.8 612.4 176.9 613.1 176.6 613.5 176.9 613.8 176.6 614.5 177 615.2 177.1 615.9 176.9 616.5 177.2 617.3 177.6 618 175.4 618.7 176.2 619.4 175.8 619.6 175.7 620.1 175.4 620.8 176 621.5 175.8 622.2 175.7 622.7 175.8 623.6 175.6 624.3 174.8 625 176.2 625.7 175.6 626.4 175.5 627.1 176.3 627.8 176.2 628.2 175.8 628.5 177 629.2 175.7 629.9 176.2 630.6 176.2 631.3 176.5 632 176.7 632.7 176.6 633.4 176.4 633.8 176.7 634.1 177.4 634.8 177.9 635.5 177.5 636.2 177.1 636.9 178 637.6 177.3 638.3 177.2 639 177.2 639.7 177.4 639.9 177.3 640.4 177.7 641.1 178.1 641.8 178 642.5 177 643 177.4 643.9 178.7 644.6 178.9 645.3 180.2 646 179.8 646.7 180.3 647.3 181.3 648.1 180.8 648.8 179.8 649.1 179.8 649.5 179 650.2 178.9 650.9 179.5 651.6 178.2 652.3 179.2 653 179.2 653.7 179.3 654.4 179.5 654.7 179.4 655.1 178.3 655.8 179 656.5 179.3 657.2 180.1 657.9 179.4 658.4 179.7 659.3 179.7 660 180.4 660.7 179.1 661.4 179.1 662.1 179.8 662.8 178.6 663.5 179.6 664.2 179.2 664.5 178.7 664.9 179.2 665.6 179.1 666.3 179.6 667 179.8 667.7 180 668.4 179.1 669.1 178.9 669.5 178.5 669.8 178.6 670.5 178.9 671.2 177.4 671.9 178.2 672.6 177.9 673.3 178.3 674 178.6 674.7 179 675 178.9 675.4 178.6 676.1 179 676.8 179 677.5 178.9 678.2 179.2 678.7 179.5 679.6 179.3 680.3 179.4 681 178.9 681.7 179.5 682.4 178.8 683.1 179.9 683.8 179.2 684.5 180.2 685.2 180.9 685.9 179.5 686.1 180.2 686.6 179.8 687.3 179.3 688 179.1 688.7 179.7 689.4 180 689.8 179.5 690.1 178.7 690.8 178.8 691.5 179 692.2 179.6 692.9 179 693.5 178.9 694.3 179.1 695 178.4 695.7 178.4 696.4 178.2 697.1 177.4 697.8 178.2 698.5 178.1 699.2 178.2 699.9 177.2 700.6 177.2 700.9 177.9 701.3 177.6 702 177.9 702.7 176.9 703.4 177.2 704.1 176.7 704.5 177.1 704.8 176.7 705.5 177.1 706.2 177.3 706.9 177.1 707.6 176 708.2 177.1 709 176.6 709.7 175.8 710.4 175.6 711.1 175.8 711.3 175.9 711.8 175.6 712.5 175.2 713.2 176.2 713.9 176.3 714.4 177.3 715.3 175.7 716 177.2 716.7 176.8 717.4 176.1 718.1 176.6 718.8 176.1 719.5 176.5 720.2 175.8 720.9 176.3 721.6 175.9 722.3 175.6 723 176 723.7 175.7 724.4 176.1 725.1 176.3 725.5 175.6 725.8 175.7 726.5 175.7 727.2 174.9 727.9 175.6 728.6 175.5 729.1 175.4 730 174.9 730.7 174.5 731.4 175.1 732.1 175.3 732.8 175.7 733.5 175.4 734.2 175.4 734.9 174.8 735.6 174.9 736.3 174.2 736.5 174.5 737 174.6 737.7 175.4 738.4 174.4 739.1 173.9 739.8 175 740.2 174.1 740.5 174.4 741.2 174.3 741.9 174 742.6 174.9 743.3 174.5 743.9 174 744.7 174.1 745.4 173.7 746.1 174 746.8 173.5 747.5 173.2 748.2 173.2 748.9 173.3 749.6 173.6 750 173.1 750.3 173.4 751 173.6 751.7 174.3 752.4 173.7 753.1 172 753.7 173 754.5 173 755.2 173.3 755.9 173.7 756.6 173.3 757.3 172 758 173.1 758.7 173 759.4 173.2 760.1 173.6 760.8 172.5 761.1 173.4 761.5 172.2 762.2 172.7 762.9 172.6 763.6 173.1 764.1 171.7 765 171.5 765.7 172.6 766.4 172.2 767.1 173.2 767.8 172.2 768.5 172 769.2 172.8 769.9 172.1 770.3 172.4 770.6 171.4 771.3 172.6 772 171.6 772.7 172.2 773.4 171.3 774.1 171.2 774.8 171.8 775.5 172 776.2 172.6 776.5 172.1 776.9 172.1 777.6 171.8 778.3 172.6 779 170.7 779.5 171.3 780.4 170.5 781.1 170.5 781.8 170 782 170.6 782.5 169.8 783.2 170.1 783.9 170.8 784.6 170.7 785.1 171.7 786 171.8 786.7 171.1 787.4 171.7 788.1 171.1 788.8 171.3 789.5 171.3 790.2 172 790.9 171.1 791.6 170.7 791.9 170.6 792.3 171.5 793 170.2 793.7 170.7 794.4 170.7 795.1 169.8 795.5 170.6 795.8 171.2 796.5 171 797.2 170.7 797.9 171.4 798.6 171.5 799.2 172.2 800 170.8 800.7 170.7 801.4 170.7 802.1 170.4 802.8 170.2 803.5 170 804.2 169.7 804.9 169.3 805.6 169.6 806.3 169.2 806.6 169.3 807 169.6 807.7 170.1 808.4 170.3 809.1 169.6 809.8 170.2 810.3 170.5 811.2 170.2 811.9 169.6 812.6 169.5 813.3 170.8 814 170.9 814.7 170.5 815.4 169.8 816.1 170.7 816.8 170.5 817.5 169.8 817.7 169.7 818.2 168.9 818.9 170 819.6 169 820.3 169.9 821 169.9 821.4 169.6 821.7 170.2 822.4 169.5 823.1 169.9 823.8 170 824.5 169.8 825.1 169.6 825.9 170.2 826.6 169.7 827.3 169.4 828 169.3 828.7 169.3 829.4 170.5 830.1 169.8 830.8 169.9 831.2 169.7 831.5 169.5 832.2 169 832.9 169.6 833.6 169.2 834.3 168.5 835 168.4 835.7 168.9 836.4 168.9 837.1 168.7 837.4 169.4 837.8 169.4 838.5 169.3 839.2 169.7 839.9 169.2 840.6 170.1 841.1 169.1 842 169.7 842.7 169.7 843.4 169.3 844.1 169.5 844.8 168.7 845.5 168.8 846.2 169.5 846.9 169.5 847.6 170.2 848.3 170.1 849 170.3 849.7 169.9 850.4 169.7 851.1 169.4 851.5 169.1 851.8 169 852.5 169.8 853.2 167.9 853.9 168.3 854.6 168.5 855.3 168.6 856 169.4 856.7 169.4 857.4 169.1 857.7 169.6 858.1 169.1 858.8 169.9 859.5 169.9 860.2 168.9 860.8 169.1 861.6 169.1 862.3 168.9 863 169.6 863.7 169.4 864.4 169.8 865.1 170.1 865.8 170.2 866.5 170.4 866.9 169.6 867.2 169.8 867.9 169.9 868.6 169.9 869.3 168.4 870 169.2 870.6 169.9 871.4 169 872.1 169.5 872.8 169.7 873.5 168.5 874.2 169.2 874.9 169.4 875.6 169.3 876.3 168.6 877 169.4 877.7 169 878 169.6 878.4 169.5 879.1 169.2 879.8 169.6 880.5 169.3 881.2 169.4 881.7 169.1 882.6 169.7 883.3 170.1 884 169.8 884.7 169.7 885.4 169.5 886.1 169.4 886.8 169.9 887.5 168.8 888.2 170.2 888.9 169.3 889.1 170.2 889.6 169.8 890.3 169.2 891 169.7 891.7 169.5 892.4 169.7 892.8 169.8 893.1 169.3 893.8 169.3 894.5 169.4 895.2 169.1 895.9 169.6 896.5 169.8 897.3 169.7 898 169.6 898.7 169.3 899.4 169.7 900.1 168.4 900.8 169 901.5 168.9 902.2 169.3 902.6 169.1 902.9 169.3 903.6 169.1 904.3 169.7 905 169.1 905.7 169.9 906.4 169.3 907.1 171.2 907.5 171.4 907.8 170.4 908.5 170.1 909.2 169.4 909.9 169.5 910.6 170.3 911.3 170.4 912 170 912.4 170.5 912.7 170.4 913.4 170.8 914.1 170.8 914.8 170.4 915.5 170.8 916.2 171.1 916.9 170.6 917.3 171.8 917.6 171.5 918.3 171.4 919 169.8 919.7 170.5 920.4 170.1 921.1 170.9 921.8 171.6 922.2 170.7 922.5 170.7 923.2 171.5 923.9 170.4 924.6 170.3 925.3 170.8 926 170.3 926.7 170.5 927.1 170.2 927.4 170.1 928.1 170.5 928.8 171 929.5 170 930.2 170.3 930.9 169.7 931.6 168.9 932.1 168.7 933 168.4 933.7 168.7 934.4 169.3 935.1 169.3 935.8 170 936.5 169.1 937 169.6 937.9 169.1 938.6 169.1 939.3 169.4 940 168.4 940.7 169.4 941.4 168.9 941.9 169.1 942.8 169.2 943.5 168.3 944.2 168.4 944.4 168.1 944.9 168.1 945.6 168.3 946.3 167.9 946.9 168.6 947.7 168.2 948.4 167.6 948.7 166.6 949.1 167.5 949.8 167 950.5 165.9 951.2 167.3 951.9 169.3 952.4 169.4 953.3 168.9 954 168.5 954.2 168.2 954.7 167.8 955.4 167.3 956.1 166.1 956.7 165.6 957.5 167.1 958.2 166.1 958.9 166.9 959.1 167.3 959.6 167.1 960.3 168.1 961 167.9 961.6 168.3 962.4 166.5 963.1 167.8 963.8 167.4 964.1 166.5 964.5 167.3 965.2 166.7 965.9 166.9 966.5 167.2 967.3 165.9 968 164.9 968.7 164.8 969 164 969.4 164.6 970.1 165.3 970.8 166.1 971.5 166.2 972.2 165.3 972.7 164 973.6 166.1 974.3 166 974.5 166.8 975 166.6 975.7 166.6 976.4 165.9 977.1 166.7 977.8 168 978.2 168.3 978.5 168.4 979.2 167.1 979.9 166.2 980.6 166.3 981.3 167.1 982 167.1 982.5 167.7 983.4 166.7 984.1 165.8 984.8 165.2 985 164.3 985.5 165.9 986.2 166.4 986.9 168 987.6 166.1 988.3 165.6 988.7 163.9 989 165.6 989.7 165.5 990.4 167.2 991.1 167.1 991.8 166.7 992.5 167.4 993 166.6 993.9 167.1 994.6 165.7 995.3 165.6 996 165.9 996.7 168.3 997.3 169.6 998.1 168.7 998.8 167.9 999.5 166.9 999.8 168 1000.2 167.4 1000.9 166.4 1001.6 167.1 1002.2 166.2 1003 167.8 1003.7 167.8 1004.4 167.5 1004.7 166.8 1005.1 166.4 1005.8 165.8 1006.5 166.3 1007.1 165.5 1007.9 166.2 1008.6 166.6 1009.3 167.3 1009.6 168 1010 168.2 1010.7 167.3 1011.4 167 1012.1 166.2 1012.7 165.9 1013.5 166.3 1014.2 167.4 1014.9 167.4 1015.6 168 1016.3 167.9 1017 167.6 1017.7 167.4 1018.4 167.8 1018.9 167.4 1019.1 168.8 1019.8 167.9 1020.5 167.4 1021.2 168.1 1021.9 166.9 1022.6 167.4 1023.3 167.3 1024 167.6 1024.7 167.5 1025 167.9 1025.4 168.2 1026.1 167 1026.8 166.5 1027.5 167.9 1028.1 167.4 1028.9 167.2 1029.6 166.3 1030.3 166.6 1030.5 166.6 1031 164.9 1031.7 165.1 1032.4 163.9 1033 162.9 1033.8 164 1034.5 164.8 1035.2 164.4 1035.5 164.7 1035.9 166.3 1036.6 166.6 1037.3 167.7 1037.9 167.8 1038.7 167 1039.4 166.4 1039.8 165.9 1040.1 166.1 1040.8 167.3 1041.5 167.2 1042.2 166 1042.9 165.5 1043.6 165.1 1044.1 165.1 1045 165.4 1045.7 166.3 1045.9 166.8 1046.4 166.2 1047.1 165.7 1047.8 165.5 1048.4 165.6 1049.2 166 1049.9 166.2 1050.6 167 1050.8 166.5 1051.3 167.4 1052 167.1 1052.7 166.8 1053.4 165.8 1053.9 167.3 1054.8 165.4 1055.5 166.4 1056.2 166.6 1056.9 167.5 1057.6 166.5 1058.3 167 1059 166.6 1059.7 166.4 1060.1 166.8 1060.4 167 1061.1 166.4 1061.8 166 1062.5 165 1063.2 166.4 1063.9 166 1064.6 165.6 1065.3 166.8 1066 167.7 1066.7 167.4 1067.1 167.1 1067.4 168.6 1068.1 168.1 1068.8 168 1069.5 168.4 1070.2 166.8 1070.9 167.3 1071.6 166.9 1072 167.7 1072.3 166.6 1073 166.7 1073.7 166.5 1074.4 166.9 1075.1 167.1 1075.8 167.1 1076.5 166.8 1076.9 167.6 1077.2 167 1077.9 166.9 1078.6 167.1 1079.3 166.7 1080 166.9 1080.7 167.3 1081.4 168.9 1081.8 168.9 1082.1 169.7 1082.8 168.6 1083.5 167.7 1084.2 168.3 1084.9 168.5 1085.6 167.6 1086.3 167.4 1087 167 1087.4 167.5 1087.7 167.1 1088.4 167.5 1089.1 167.7 1089.8 167.8 1090.5 168.8 1091.2 168.3 1091.9 167.1 1092.3 167.5 1092.6 167.6 1093.3 167.7 1094 168.2 1094.7 169.1 1095.4 168.2 1096.1 168.2 1096.8 168.1 1097.2 168 1097.5 167.8 1098.2 167.6 1098.9 167.4 1099.6 166.5 1100.3 167 1101 167 1101.7 168.1 1102.2 167 1102.4 167.6 1103.1 168.3 1103.8 168.1 1104.5 168.3 1105.2 168.3 1105.9 168.8 1106.6 168.2 1107.3 168.8 1107.7 168.8 1108 168.3 1108.7 169.1 1109.4 168.9 1110.1 169.3 1110.8 169.6 1111.5 169.3 1112.2 168.6 1112.9 169.1 1113.6 168.2 1113.8 168.6 1114.3 169.4 1115 168.5 1115.7 168.9 1116.3 168 1117.1 168.5 1117.8 168.4 1118.5 169.7 1118.8 169.4 1119.2 170 1119.9 170.3 1120.6 170.6 1121.2 170.9 1122 170.9 1122.7 171.1 1123.4 171 1123.7 170.5 1124.1 171.5 1124.8 172 1125.5 171.4 1126.2 171.7 1126.9 171.3 1127.6 170.9 1128.3 171.2 1128.6 172.1 1129 171.9 1129.7 171.7 1130.4 172.1 1131.1 171.4 1131.7 172 1132.5 172.3 1133.2 173.1 1133.9 174.1 1134.2 173.8 1134.6 174.5 1135.3 174.6 1136 173.8 1136.6 175.2 1137.4 173.6 1138.1 174 1138.8 174.2 1139.1 172.9 1139.5 174.2 1140.2 174.1 1140.9 173.4 1141.5 173.3 1142.3 173.6 1143 173.7 1143.7 174.5 1144.4 174.2 1144.6 174.4 1145.1 174.5 1145.8 174.6 1146.5 174.6 1147.2 173.3 1147.7 173 1148.6 174 1149.3 174.1 1150 173.8 1150.7 174.6 1151.4 174.8 1152.1 174.7 1152.8 175.3 1153.5 174.2 1153.8 174.7 1154.2 175.7 1154.9 175.7 1155.6 175.4 1156.3 176.4 1157 176.8 1157.7 177.2 1158.4 176.6 1158.8 176.8 1159.1 176 1159.8 176.9 1160.5 177.9 1161.2 177.5 1161.9 177.7 1162.6 176.7 1163.3 177.9 1163.7 177.1 1164 177.4 1164.7 176.5 1165.4 176.6 1166.1 177.9 1166.8 176.9 1167.5 176.7 1168.2 177 1168.6 176.9 1168.9 175.7 1169.6 175.8 1170.2 176" stroke="#ff7f0e"/>
</g>
<path d="M163.5 185.5v5M289.5 185.5v5M415.5 185.5v5M541.5 185.5v5M667.5 185.5v5M793.5 185.5v5M919.5 185.5v5M1045.5 185.5v5" stroke="#000" stroke-width="1.11" fill="none"/>
<path d="M163.5 122.5h-5.3M163.5 157.5h-5.3" stroke="#000" stroke-width="1.11" fill="none"/>
<rect x="163.5" y="96.5" width="1007.0" height="89.0" fill="none" stroke="#000" stroke-width="1.11"/>
<text x="152.60" y="127.55" text-anchor="end">20</text>
<text x="152.90" y="161.85" text-anchor="end">15</text>
<text transform="translate(125.3 141.0) rotate(-90)" text-anchor="middle">temp (degC)</text>
<rect x="606.5" y="103.5" width="121" height="46" rx="2.8" fill="#fff" fill-opacity="0.8" stroke="#ccc" stroke-opacity="0.8" stroke-width="1.11"/>
<path d="M611 115h27.8" stroke="#1f77b4" stroke-width="2.08" stroke-linecap="square"/>
<path d="M611 136h27.8" stroke="#ff7f0e" stroke-width="2.08" stroke-linecap="square"/>
<text x="650.1" y="118.9">Air Temp</text><text x="650.1" y="139.8">Skin Temp</text>
<clipPath id="c2"><rect x="163.5" y="212.5" width="1007.0" height="89.0"/></clipPath>
<g clip-path="url(#c2)" fill="none" stroke-width="2.08" stroke-linejoin="round" stroke-linecap="square">
<path d="M163.7 270.5 164.4 269.8 165.1 271.4 165.5 271.5 165.8 271.8 166.5 272.6 166.7 272.3 167.2 274 167.9 275.5 168.6 277.9 169.2 277.9 170 278.9 170.4 279.6 170.7 279.1 171.4 277.9 171.6 277.7 172.1 277.2 172.8 275.7 173.5 276.7 174.1 277.2 174.9 277.6 175.3 278.3 175.6 278.7 176.3 280.1 176.5 280.8 177 281.1 177.7 281.5 178.4 277.8 179.1 277.2 179.6 277.2 180.5 275.9 181.2 275.5 181.4 275.7 181.9 275.5 182.6 275.3 183.3 275.3 184 274.5 184.7 275.8 185.1 275.3 185.4 275.6 186.1 277.5 186.3 278.1 186.8 278.5 187.5 279.6 188.2 280.6 188.9 281.2 189.2 281.9 189.6 281.6 190.3 281.1 190.6 281.2 191 280.8 191.7 280.6 192.1 281.1 192.4 279.3 193.1 274.7 193.8 274.8 194.1 275.2 194.5 275.7 194.9 278 195.2 277.3 195.9 275 196.2 274.8 196.6 273.8 197.3 273.3 198 271.4 198.6 270.8 199.4 270 199.8 269.4 200.1 268.9 200.8 271 201.1 271.8 201.5 271.5 202.2 272.2 202.9 272.9 203.5 274.9 204.3 275.2 205 276.7 205.3 276.6 205.7 276.4 206.4 275.7 207.1 276.5 207.8 276.5 208.4 276.8 209.2 275 209.4 274.3 209.9 274.6 210.6 275.4 210.8 275.8 211.3 276.6 212 276.1 212.7 276.7 213.4 276.7 214.1 276.7 214.5 276.8 214.8 275.9 215.5 274.9 215.8 275.1 216.2 275.8 216.9 276.2 217.6 275.9 218.3 275.5 218.8 275.5 219.7 276.9 220 277.8 220.4 277.7 221.1 278.8 221.8 279.5 222.5 278.9 223.1 277.9 223.9 276.9 224.3 275.6 224.6 274.4 225.2 270.5 226 274 226.7 273.6 227.4 272.5 228.1 271.1 228.8 271.5 229.5 271.9 230.2 271.7 230.4 272 230.9 272.4 231.6 273.1 232.3 273.7 233 273.4 233.7 271.9 234.1 271.7 234.4 271.6 235.1 272.3 235.7 272.2 236.5 270.7 237.2 268.3 237.9 268.3 238.4 267.8 239.3 268.8 240 268.8 240.2 268.6 240.7 269.2 241.4 270.5 242.1 269.6 242.8 268.7 243.1 268.8 243.5 269 244.2 267.7 244.5 267.3 244.9 266.6 245.6 265.5 246.3 266 247 266.5 247.6 266.6 248.4 270.2 249.1 269 249.4 268.1 249.8 270.2 250.3 274.6 251.2 272.8 251.7 271.5 251.9 271.1 252.6 269.5 253.1 268.5 254 268.5 254.3 267.9 254.7 268.2 255.4 268.8 256.1 268.8 256.8 269.2 257 268 257.5 269.9 258.2 271.1 258.9 271.2 259.6 271.1 259.9 271.1 260.3 271 261 270.8 261.7 271.2 262.4 270.8 263.1 271 263.5 271.3 263.8 271.4 264.5 273.6 264.8 273.9 265.2 273.1 265.9 270.7 266.6 269.7 267.2 269.1 268 270.3 268.4 270.6 268.7 270.7 269.4 270.1 269.7 270.4 270.1 272.6 270.8 274.7 271.5 274.6 272.2 274.5 272.7 274.6 273.6 280.3 274.3 284.5 274.6 286.1 275 284.6 275.7 282.6 276.4 283 277 283.1 277.8 281.4 278.2 280.2 278.5 279.9 279.2 281 279.5 280.4 279.9 281.5 280.6 282 281.3 282.2 281.9 281.5 282.7 282 283.1 282.8 283.4 283.1 284.1 284.8 284.4 285.5 284.8 282.3 285.2 279 285.5 277.6 286 275.3 286.9 270.7 287.2 269.8 287.6 269.2 288.3 269.3 288.7 269 289 269 289.7 271.7 289.9 272.3 290.4 271 291.1 270 291.4 269.1 291.8 270.3 292.4 272.9 293.2 277.2 293.9 276.4 294.6 273.8 295.3 273.1 296 272 296.7 269.7 297.2 268.5 298.1 268.6 298.7 268.5 299.5 270.6 299.7 270.6 300.2 267.8 300.7 265.4 301.5 261.3 302.3 263.6 303 258 303.4 254.6 303.7 255.7 304.4 257.6 305.1 256.1 305.6 253.8 306.5 253.3 306.8 252.8 307.2 254.2 307.9 256.1 308.6 258 309.3 258 309.5 258.3 310 258.9 310.7 260.5 311 261.5 311.4 262.2 312.1 263.2 312.8 266.4 313.4 269.5 314.2 264.6 314.4 263.4 314.9 263 315.6 262.3 316.2 262.1 317 261.6 317.7 260.5 318.1 260 318.4 260.4 319.1 261.1 319.6 260.6 319.8 261.3 320.5 263.4 320.8 264.7 321.2 261.8 321.9 259 322.6 261.2 323.2 263.5 324 264.5 324.7 264.5 325.4 264 326.1 263.9 326.4 263.3 326.8 258 327.3 251.4 327.5 250.6 328.2 251.4 328.9 250.9 329.4 251.2 329.6 254.2 330.3 263.6 331 265.1 331.7 265.6 332.4 260.3 333 254.8 333.8 258.6 334.3 260.5 334.5 259.7 335.2 258.6 335.5 258.5 335.9 258.3 336.6 258.9 337.1 259.3 337.3 258.8 338 258.2 338.7 257.9 338.9 258.2 339.4 260.8 340.1 264.1 340.8 263.5 341.5 262 342.2 262.7 342.9 263.2 343.2 263.7 343.6 263.7 344.3 264.1 344.8 264.8 345.7 253 346.4 257.5 346.9 262.7 347.8 258.4 348.1 257.9 348.5 259 349.2 261.7 349.9 263.4 350.6 264.1 350.9 264.2 351.3 262.7 352 258.3 352.7 256.4 353.4 257.2 354.1 258.3 354.6 259.9 355.5 261.5 355.8 262.2 356.2 264.1 356.9 265.4 357.6 264.7 358.3 263 359 259.4 359.5 257 360.4 259.2 360.7 260.3 361.1 259.1 361.8 258 362.2 257.2 362.5 258 363.2 257.9 363.9 258.4 364.6 256.3 365.2 252.6 366 256.1 366.5 258.3 367.4 256.9 368.1 255 368.8 258.3 369.3 259.9 370.2 263.1 370.5 264.8 370.9 263.6 371.6 262.4 372 261.5 372.3 262.1 373 262 373.5 261.6 373.7 261.4 374.4 259.2 375.1 257.2 375.8 257.4 376.5 258.6 377.2 259.2 377.9 260.3 378.1 260.5 378.6 261.1 379.3 262.1 380 261.6 380.7 261.7 381.4 262.3 382.1 263.6 382.4 264 382.8 263.4 383.5 262.1 384.2 262.1 384.9 262.1 385.6 262 386.1 262.1 387 264.5 387.3 265.5 387.7 266.4 388.4 269.2 389.1 269 389.8 268.5 390.5 270.4 391 272.3 391.9 275 392.6 272.9 393.1 270.9 393.3 271.5 394 271.5 394.7 271.4 395.4 270.4 396.1 269.6 396.5 268.8 396.8 269.6 397.5 270.9 397.7 272.2 398.2 272.9 398.9 275.2 399.6 275.5 400.3 277.8 401 278.1 401.7 277.7 402 278 402.4 277.7 403.1 276.9 403.8 277.8 404.5 279.6 405.2 274.1 405.4 272.1 405.9 274.9 406.3 277.9 406.6 278.6 407.3 280.6 407.5 280.6 408 281 408.7 282.1 409.4 282.4 410 283.2 410.8 282.6 411.5 282 411.8 281.2 412.2 282.3 412.9 282.5 413.6 284.8 414.3 285.9 415 287.4 415.5 289.1 416.4 287 416.7 286.2 417.1 284.6 417.8 281.3 418.5 279.2 419.2 277.9 419.9 279.2 420.4 279.5 421.3 281.4 422 276 422.2 274.5 422.7 275.3 423.4 276.8 424.1 277.2 424.7 277.8 425.5 280 425.9 280.8 426.2 281.3 426.9 281.5 427.4 281.3 428.3 282.2 429 282.7 429.7 286 430.2 288.4 431.1 289.3 431.4 290.1 431.8 288.2 432.5 286.5 433.2 285.8 433.9 285.5 434.5 286 435.3 288.8 435.7 291.3 436 292.3 436.7 294.5 437.2 297.1 438.1 297.3 438.8 297 439.5 297.1 440 297.2 440.9 293.9 441.2 292.2 441.6 292.5 442.1 292.5 443 295.6 443.3 297.1 443.7 297 444.4 297 445.1 297.1 445.5 297.2 445.8 296.6 446.5 294 446.8 292.8 447.2 292 447.9 292.2 448.6 292.2 449.3 293 450 292.8 450.7 293.2 451.1 293.3 451.4 293.7 452.1 293.2 452.8 295.3 453.1 296.9 453.5 296.7 454.2 296.9 454.9 296.8 455.3 296.9 455.6 297.1 456.3 295.5 456.6 295.3 457 295.7 457.7 296.9 458.4 296.5 459.1 296.6 459.8 294.6 460 293.9 460.5 296.8 461.2 296.8 461.9 296.7 462.6 297.1 463.3 297.1 463.9 297.2 464.7 297.2 465.4 297.2 466.1 297.2 466.8 297.2 467.5 295.4 468.2 293.3 468.9 292.5 469.4 291.6 470.3 293.5 471 296.6 471.3 297.2 471.7 297.2 472.4 297.2 473.1 297.2 473.8 297.2 474.5 297.2 475.2 297.2 475.9 297.2 476.6 297.2 477.3 297.2 478 297.2 478.7 297.2 479.4 297.2 480.1 297.2 480.8 297.2 481.5 297.2 482.2 297.2 482.9 297.2 483.5 297.2 484.3 297.2 485 297.2 485.7 297.2 486.4 297.2 487.1 297.2 487.8 297.2 488.5 297.2 489.2 297.2 489.6 297.2 489.9 297.2 490.6 297.2 491.3 297.2 492 297.2 492.7 296.8 493.4 296.4 494.1 295.7 494.5 295.4 494.8 295.4 495.5 296.6 495.8 296.7 496.2 296 496.9 294.4 497.2 292.3 497.6 290.9 498.3 289.3 499 289 499.7 289.2 500.1 289.2 500.4 289.1 501.1 290.2 501.3 291.1 501.8 291.1 502.5 292.8 503.2 293.4 503.9 294.7 504.1 295 504.6 294.3 505.3 293.2 505.6 292.2 506 291.6 506.7 289.8 507.4 289.3 508.1 289.3 508.8 288.5 509.5 288 510.2 285.6 510.9 283.3 511.1 283 511.6 284.7 512.3 288.5 513 290 513.5 291.3 514.4 290.9 514.8 291.4 515.1 292 515.8 292.3 516 293.5 516.5 294.7 517.2 295.7 517.9 296.6 518.4 297.2 519.3 297.2 520 297.2 520.7 297.2 521.4 297.2 522.1 297.2 522.8 297.2 523.5 297.2 524.2 297.2 524.9 297.2 525.6 293.6 525.8 292.8 526.3 292.4 527 292.1 527.6 292.5 528.4 292.7 529.1 292.2 529.5 292.7 529.8 292.1 530.5 291.3 531.2 291.3 531.9 292.2 532.5 294.7 533.3 293.3 534 292.7 534.7 291.8 535 291.7 535.4 291.6 536.1 290.2 536.5 289.5 536.8 289.2 537.5 289.2 538.1 288.5 538.9 290.1 539.6 291.7 540.3 290.6 541 289.5 541.7 289 542.4 288.4 542.6 288.2 543.1 288.4 543.8 287.6 544.2 287.4 544.5 286.1 545.2 283.9 545.4 282.9 545.9 283 546.6 282.1 547.3 281.9 547.9 281.7 548.7 280.8 549.1 280 549.4 279.2 550.1 279.1 550.7 278.2 551.5 279.7 552.1 280.3 552.9 280.9 553.4 281.7 554.3 281.2 554.6 281.6 555 280 555.7 278.1 556.4 276 557 273.5 557.8 272.2 558.5 271.8 559.2 270.5 559.9 270.1 560.1 270.1 560.6 269.4 561.3 268.5 562 268 562.7 268.2 562.9 268.3 563.4 269.5 564.1 271.5 564.8 270.6 565.5 270.6 566.2 270.5 566.9 271.4 567.1 271.9 567.6 270.9 568.3 271.2 568.7 271.1 569 270.5 569.7 269 569.9 268.2 570.4 267.4 571.1 267.8 571.5 267.9 571.8 268.2 572.5 268.8 573 269.4 573.9 270.8 574.5 271.2 575.3 271.4 576 271.2 576.7 274.1 577.3 274.5 578.1 277.3 578.5 279.1 578.8 278.7 579.5 279.5 579.7 279.3 580.2 281 580.9 281.6 581.6 282.7 582.3 283.2 582.5 283 583 283.3 583.7 282 584 281.9 584.4 282.6 585.1 283.3 585.5 284.1 585.8 284.5 586.5 284.8 587.1 285.3 587.9 283.7 588.3 282.9 588.6 283.1 589.3 282.5 590 282.3 590.7 281.6 591.4 280.6 592 280.5 592.8 280.3 593.5 280.9 594.2 281.1 594.9 280 595.6 279.2 596.3 277.4 597 277.3 597.5 276.8 598.4 280.7 598.7 282 599.1 283.1 599.8 285.3 600.5 285.3 601.2 285.4 601.8 285.2 602.6 282.7 603 281.3 603.3 280.1 604 278.5 604.6 277.1 605.4 279.1 605.8 280.1 606.1 281.4 606.8 282.6 607.3 283.8 608.2 283.2 608.5 283.1 608.9 281.7 609.6 279.2 610.3 276.2 611 273.9 611.7 275.5 612.4 277 613.1 278.2 613.8 280.4 614 281.1 614.5 281 615.2 281.1 615.9 277.4 616.5 274.3 617.3 276 617.7 276.3 618 274.7 618.7 273.1 618.9 272.3 619.4 273.8 620.1 275.8 620.8 275.2 621.4 274.8 622.2 267.4 622.9 262.4 623.5 257.9 624.3 259.9 624.7 261.7 625 264 625.7 270.9 625.9 273.2 626.4 278.3 626.9 283.9 627.8 270.7 628.1 265.9 628.5 263.2 629.2 259.5 629.9 260.6 630.6 263.2 631.3 271.4 631.8 276.4 632.7 281.1 633 282.2 633.4 280.8 634.1 277.9 634.5 276.7 634.8 275.8 635.5 274.7 635.7 273.8 636.2 277 636.9 281.1 637.6 280.2 638.3 279.9 638.5 279.2 639 279.5 639.7 278.5 640.4 282 641 286.9 641.8 284.2 642.5 282.1 643.2 283.7 643.9 285.4 644.6 286.5 645.3 286.5 645.9 287.5 646.7 280.5 647.1 276.1 647.4 275.4 648 274 648.8 276.8 649.2 279 649.5 280.2 650.2 282.8 650.4 283.8 650.9 283.1 651.6 281.7 652 280.7 652.3 281 653 283 653.2 283.1 653.7 283.6 654.4 283.4 655.1 281.7 655.8 278.5 656.1 277.6 656.5 276.9 657.2 275.5 657.9 274.7 658.6 275 659.3 274.8 660 274.2 660.7 276.6 661.2 279.1 662.1 277.2 662.7 276.4 663.5 278.1 663.9 278.7 664.2 279.2 664.9 282 665.1 283.1 665.6 280 666.3 275.6 667 269.5 667.6 264 668.4 262.2 668.8 260.7 669.1 260.8 669.8 259.8 670 260.1 670.5 262.8 671 267.1 671.9 271.3 672.2 273.4 672.6 273 673.3 272.6 673.7 271.7 674 271.5 674.7 271.4 675 271.4 675.4 269.8 676.1 264.9 676.8 265.6 677.4 267 678.2 263.3 678.6 260.6 678.9 260.5 679.6 259.2 679.9 258.8 680.3 261.6 680.8 266.1 681.7 271.2 682 274 682.4 273.2 683.1 273.8 683.8 273.2 684.5 269.3 685.1 265.7 685.9 266.1 686.3 267 686.6 267.5 687.3 271 687.6 271.7 688 267.7 688.7 261.7 689.4 259.2 690 256.8 690.8 259.3 691.5 254.8 691.9 251.2 692.2 253.7 692.8 259.3 693.6 265.2 694.1 268.2 694.3 267.5 695 267.3 695.5 266.5 696.4 266.6 697 265.6 697.8 259.9 698.2 256.7 698.5 256.5 699 254.9 699.2 257.4 699.8 264.4 700.6 256.3 701.3 261.6 701.7 265.6 702 268.8 702.6 274.7 703.4 275.2 703.9 277.4 704.1 274.2 704.7 267.2 705.5 262.1 706 259.6 706.2 261.9 706.8 268.1 707.6 262.5 708 259.1 708.3 257.3 709 254.1 709.3 253 709.7 255.3 710.2 258.2 711.1 262.9 711.8 259.5 712.4 254.3 713.2 257.1 713.7 260 713.9 258.5 714.6 255.9 714.9 254.4 715.3 251.9 715.8 248.4 716 249.9 716.6 256 717.4 255.2 717.8 255.7 718.1 255.3 718.8 254.5 719.1 255 719.5 256.8 720 259.6 720.9 257.9 721.3 256.8 721.6 253.7 722 249.9 722.3 253.9 722.7 260.4 723 263 723.7 267.2 724.4 264.6 724.9 262.3 725.8 262.3 726.2 262.2 726.5 263.4 727.2 266.8 727.4 267 727.9 266.1 728.6 264.3 728.9 263.8 729.3 262.9 730 260.3 730.7 265.4 731.1 266.6 731.4 268.4 732.1 271.7 732.5 273.8 732.8 272.3 733.5 267.5 733.8 266.5 734.2 267.5 734.9 267.7 735.6 272.5 736.2 277.1 737 277.8 737.4 277.4 737.7 276.7 738.4 276.1 739 275.4 739.8 272.8 740.2 271.6 740.5 270.3 741.2 265.9 741.5 264.1 741.9 268.6 742.3 274 742.6 274.7 743.3 275.4 743.6 275.6 744 276.1 744.7 275.3 745.4 278.4 745.8 280.5 746.1 282.3 746.5 286 746.8 284.1 747.5 279.3 748.2 278.8 748.9 278.7 749.2 278.4 749.6 277.1 750.3 273.4 751 274.9 751.6 276.7 752.4 272.8 752.9 270.5 753.1 270 753.8 266.8 754.1 265.1 754.5 266.6 755.2 269.2 755.9 268.7 756.2 268.2 756.6 261.5 757 254 757.3 257.1 758 267 758.7 264.6 759 263.6 759.4 262.5 760.1 259.3 760.8 261.9 761.1 263.9 761.5 270.3 761.9 276.8 762.2 273.1 762.9 264.8 763.2 260.7 763.6 267.2 764.1 275.5 765 276.5 765.4 276.7 765.7 276.2 766.4 276.1 766.8 275.8 767.1 274.6 767.8 269.2 768.5 263.9 768.8 262.1 769.2 267.1 769.7 273.4 769.9 271.8 770.6 266.5 770.9 264.8 771.3 265.8 772 267.7 772.7 266 773.3 265 774.1 270.3 774.6 273.3 774.8 272.6 775.5 269.8 775.8 268.1 776.2 268.2 776.9 267.8 777.6 263.9 777.9 262 778.3 264.4 778.9 268.4 779.7 266.8 780.4 265.8 780.7 265.8 781.1 264.7 781.8 263.9 782.5 262.9 783.2 261.5 783.9 260.3 784.6 258.6 785 257.2 785.3 258 786 261.5 786.7 255.3 787.4 257.8 788.1 262.5 788.8 255.6 789.3 250.9 790.2 262.2 790.5 267 790.9 267.9 791.6 270.2 792.3 260.1 792.6 254.8 793 259.4 793.6 265.4 794.4 269.2 794.8 270.8 795.1 267.6 795.8 259.7 796 256.7 796.5 259.5 797.2 264.2 797.9 260.9 798.5 257.4 799.3 253.3 799.7 251.2 800 253.3 800.7 259.3 800.9 262 801.4 259.8 802.1 256.2 802.8 252.2 803.4 249.5 804.2 264.2 804.9 253.3 805.2 243.2 805.6 248.6 806.3 258.5 807 255.4 807.7 248.8 808.4 245.3 808.9 242.9 809.8 253.6 810.1 257.4 810.5 259.8 811.2 264 811.9 254.9 812.6 241.7 813.3 248.8 813.8 254.4 814.7 247.6 815 244.6 815.4 247.5 816.1 250.7 816.8 248.2 817.5 243.9 818.2 240.5 818.9 237.6 819.6 242 820.3 249.3 821 248.7 821.5 247.3 822.4 250 822.7 250.7 823.1 250.3 823.8 248.3 824.5 251.2 825.2 256.2 825.9 256.8 826.6 257.3 827.3 257.6 827.9 258.4 828.7 258.2 829.4 256.8 830.1 253 830.6 251.2 831.5 246.5 831.8 244.7 832.2 246.4 832.9 249 833.6 255 834.3 261.2 835 251.8 835.5 244.4 836.4 243.6 836.7 243.6 837.1 242.8 837.8 242.1 838.5 244.7 839.2 248.3 839.9 247.8 840.4 247.1 841.3 253 841.6 255.5 842 259.9 842.3 264.2 842.7 257.8 843.4 244.4 844.1 246.5 844.8 255 845.5 260.4 846.2 257.8 846.9 253.8 847.6 249.8 848.1 246.5 849 254.2 849.3 257.4 849.7 259.7 850.4 265.2 851.1 257.1 851.8 245 852.5 241.4 853.2 238.4 853.9 241.9 854.6 248.6 855.3 254.3 856 253.9 856.7 250.7 857.4 253.6 857.9 255.8 858.8 262.6 859.5 258.3 860 254.3 860.9 251.1 861.6 245.1 862 242 862.3 245.6 863 254.9 863.7 253 864.4 248.3 865.1 252.9 865.6 256.8 866.5 250.7 866.9 247.8 867.2 250.2 867.9 253.6 868.6 249.7 869.3 243.4 870 246.8 870.5 249.7 871.4 246.4 871.8 244.3 872.1 249.6 872.8 257.7 873.5 256.2 874.2 251.2 874.9 246.1 875.6 241.8 876.3 247.2 876.9 253.2 877.7 245.3 878.4 251.5 879.1 262.7 879.8 258.6 880.3 254.4 881.2 250.8 881.5 248.4 881.9 249.4 882.6 251.8 882.8 251.5 883.3 256.5 883.6 260.3 884 257.5 884.7 252.2 885.4 248.4 886.1 244.6 886.3 243.5 886.8 248.1 887.5 255.7 888.2 254 888.9 249.5 889.6 248.6 890.3 248.4 891 250.9 891.6 253.2 892.4 253.6 892.8 253.9 893.1 252.1 893.8 248.4 894 246.7 894.5 247.7 895.2 249.7 895.9 255.7 896.5 261.9 897.3 255.9 897.7 251.6 898 255.4 898.7 262.8 899 265.8 899.4 262.3 900.1 255.2 900.8 250.3 901.1 248.2 901.5 249.8 902.2 254.2 902.4 255.9 902.9 257.9 903.6 260.1 904.3 254.2 904.8 250.1 905.7 246.6 906.4 251.7 906.9 254.8 907.8 257.4 908.1 258.6 908.5 255.8 909.2 251.1 909.9 252.8 910.6 249.1 911 246.6 911.3 249.3 912 254.8 912.2 257.3 912.7 259.6 913.4 263.2 914.1 255.8 914.7 249.7 915.5 253.4 915.9 254.8 916.2 249.3 916.7 240.2 917.6 250.5 918 254.5 918.3 256.1 919 259.9 919.2 260.1 919.7 258.3 920.4 255.6 921.1 252.2 921.4 251.3 921.8 256.4 922.2 262.8 922.5 262.7 923.2 262.4 923.7 262.1 924.6 255.3 925 252.9 925.3 255.4 926 261.6 926.7 263.7 927.4 264.3 927.8 264.2 928.1 261 928.8 253.9 929 251.1 929.5 253.8 930.2 257 930.9 262 931.4 265.6 932.3 255.5 932.7 250.9 933 251.9 933.7 254.9 933.9 255.9 934.4 257.3 935.1 259 935.8 264.3 936.3 268 937.2 267.6 937.6 266.7 937.9 265.6 938.6 262.4 938.8 261.9 939.3 265.5 940 270.5 940.7 265.4 941.2 262.2 942.1 258.5 942.5 256.8 942.8 256.8 943.5 255.9 943.7 255.7 944.2 257.5 944.9 260.6 945.6 269.6 945.8 272.3 946.3 266.1 946.8 260.5 947 261.4 947.7 263.4 948.2 264.3 949.1 265.1 949.8 264.9 950.5 261.8 951.2 259.4 951.4 257.9 951.9 260.7 952.6 264.4 952.9 265.5 953.3 266.2 954 268.2 954.7 268.6 955.4 264.1 956 260.3 956.6 250.8 956.8 252.4 957.5 257.4 957.8 258.7 958.2 262.3 958.8 265.3 959.6 256.7 960 252.9 960.3 253 961 253.2 961.5 254 961.7 253.7 962.4 254.2 962.7 254.1 963.1 257 963.8 262.3 964.5 268.2 964.9 271.8 965.2 268.9 965.9 261.3 966.1 258.6 966.6 262.2 967.3 268.1 968 261 968.6 254.7 969.4 257.8 969.8 259.5 970.1 256.1 970.8 247.6 971 244.7 971.5 246.4 972.2 249.2 972.9 259.8 973.1 263.4 973.6 257.2 974.3 247.9 975 246.6 975.5 246.8 976.4 256.7 976.8 260.8 977.1 259.9 977.8 255.9 978 255.1 978.5 257.6 979.2 262.4 979.9 238.1 980.1 229.5 980.6 245.9 981.1 261.6 981.3 261 982 258.6 982.3 258.2 982.7 251.5 983.4 238.8 984.1 231.1 984.5 226.9 984.8 232.1 985.5 243.4 985.7 247.5 986.2 239.5 986.6 233.8 986.9 233.8 987.6 235.3 987.8 235.6 988.3 237.6 989 241.5 989.7 250.9 990.2 258.4 991.1 253.4 991.5 250.6 991.8 248.3 992.5 242.5 992.7 241.1 993.2 240.1 993.6 238.8 993.9 243.2 994.5 252.4 995.3 251.4 995.8 250.2 996 248.8 996.7 245.6 997 244.7 997.4 247.2 998.1 252.8 998.8 250.8 999.4 247.5 1000.2 247.3 1000.7 247.7 1000.9 248.2 1001.6 252.9 1001.9 254.7 1002.3 255.2 1003 255.3 1003.7 248.8 1004.1 244.3 1004.4 247.8 1005 255.5 1005.8 249.8 1006.2 247.8 1006.5 243.8 1007 237.5 1007.9 241.4 1008.3 243.6 1008.6 245.7 1009.3 250.7 1009.5 252.4 1010 251 1010.7 249.5 1011.4 247.7 1012.1 244.9 1012.3 244 1012.8 242.5 1013.5 239.4 1013.9 236.6 1014.2 239.3 1014.9 244.5 1015.1 246.2 1015.6 250.1 1016 254.4 1016.3 250.3 1017 242.4 1017.2 239.9 1017.7 238.9 1018.1 238.3 1018.4 244.1 1018.8 251.5 1019.1 249.3 1019.8 242 1020 239.8 1020.5 237.2 1021.2 231.8 1021.9 228.5 1022.5 225 1023.3 231.9 1024 233.1 1024.6 233.8 1025.4 235.3 1025.8 236.2 1026.1 238.3 1026.8 243 1027 244.2 1027.5 246.2 1028.2 249.1 1028.9 250.3 1029.5 251.7 1030.3 247.9 1031 261.6 1031.3 268.1 1031.7 253.4 1032.3 229.8 1033.1 226.8 1033.8 240.3 1034 244.3 1034.5 251.6 1035 258 1035.9 257.2 1036.6 250.4 1037.2 242.9 1038 250 1038.4 254.9 1038.7 249.6 1039.3 238.5 1040.1 245.9 1040.5 250.1 1040.8 247.6 1041.5 243.1 1041.7 241.1 1042.2 245.8 1042.9 254.2 1043.6 246.7 1044.2 237.4 1045 246.3 1045.4 251.1 1045.7 253.4 1046.4 260.9 1046.6 263.6 1047.1 261 1047.8 256.7 1048.5 250.1 1049.1 244.6 1049.9 233.3 1050.6 222.6 1050.9 217.3 1051.3 221.4 1052 228.8 1052.7 230.2 1053.1 230.9 1053.4 228 1054 222.6 1054.8 220.2 1055.5 229.2 1055.8 235 1056.2 240.1 1056.9 250.1 1057.6 248.3 1058 244.5 1058.3 238.3 1058.9 222.5 1059.5 216 1060.4 220.5 1061.1 230.1 1061.3 233.9 1061.8 230.6 1062.5 225 1063.2 224 1063.8 223.7 1064.6 234.6 1065.3 242.9 1065.6 247 1066 242.1 1066.6 231.8 1067.4 219.3 1067.6 215.9 1068.1 223.4 1068.3 227.7 1068.8 232.7 1069.3 238.5 1070.2 240.8 1070.5 241.2 1070.9 235.8 1071.6 224.7 1072.3 226.8 1073 232 1073.7 237.3 1074.2 241.3 1075.1 236.3 1075.4 234.6 1075.8 234 1076.5 234 1077.2 231.4 1077.9 228.3 1078.6 225.7 1079.1 224.4 1080 222.6 1080.3 222.1 1080.7 228.9 1081.3 240 1082.1 229.3 1082.8 236 1083.4 244.8 1084.2 245.4 1084.9 231.3 1085.2 224.5 1085.6 226.5 1086.3 231.4 1087 230.1 1087.7 227.3 1088.4 235.7 1088.9 242.7 1089.8 231.3 1090.5 230.1 1091.1 230.3 1091.9 244.5 1092.6 241.2 1093.2 236 1094 235.7 1094.7 251.4 1095 260.1 1095.4 256.6 1096 250.1 1096.8 252.3 1097.5 241.9 1097.7 236.7 1098.2 238.7 1098.9 240.3 1099.6 242.4 1100.2 244.9 1101 247.6 1101.4 249.5 1101.7 249.2 1102.4 246.2 1103 243.8 1103.8 241.7 1104.5 239.7 1105.2 241.4 1105.8 244.2 1106.6 235.9 1107 231.5 1107.3 234 1108 242.4 1108.3 245.3 1108.7 241.7 1109.4 236.5 1110.1 236.6 1110.7 237.3 1111.5 233.6 1112 231.5 1112.2 230.8 1112.9 230.9 1113.2 229.7 1113.6 233.6 1114 237.2 1114.3 235.2 1115 225.6 1115.2 222.6 1115.7 225.2 1116.1 228.9 1116.4 232.7 1117.1 242.8 1117.8 239.4 1118.3 236.3 1119.2 238.1 1119.5 238.5 1119.9 242.7 1120.5 250.1 1121.3 246 1121.8 243.7 1122 243.3 1122.7 241.9 1123 241.8 1123.4 240.8 1124.1 237.7 1124.4 236.8 1124.8 239.6 1125.5 244.2 1126.2 235.1 1126.7 224.6 1126.9 226.7 1127.6 231.7 1127.9 234.1 1128.3 233.2 1129 231.5 1129.7 235.6 1130.3 239.7 1131.1 237.8 1131.8 234.3 1132.5 231.3 1133 229.3 1133.6 228.9 1133.9 232 1134.6 242 1134.9 245.8 1135.3 244 1136 240.1 1136.7 238.2 1137.3 236.3 1138.1 240.8 1138.5 243.9 1138.8 241.4 1139.5 235.1 1139.8 233.2 1140.2 236.4 1140.6 239.8 1140.9 236.4 1141.6 227.4 1142.3 223.1 1143 226.1 1143.4 229.4 1143.7 232.6 1144.4 240.3 1144.7 243.3 1145.1 240.7 1145.8 237 1146.5 232.1 1146.7 229.6 1147.2 237.8 1147.7 248 1148.6 242.6 1149 239.5 1149.3 238.2 1150 235.4 1150.7 240.6 1151.4 249.3 1151.6 252.6 1152.1 249.9 1152.8 246.5 1153.5 243.7 1154.2 240.5 1154.5 239.9 1154.9 239.1 1155.6 237.1 1156.3 241.3 1156.5 242.8 1157 234.2 1157.5 221.9 1158.4 229.9 1158.8 232.4 1159.1 234.8 1159.7 239.6 1160.5 231.7 1161.2 228.7 1161.8 226.8 1162.6 236.1 1163 241.9 1163.3 239.7 1164 232.6 1164.3 230.4 1164.7 233.9 1165.1 238.3 1165.4 237 1166.1 234 1166.8 232.9 1167.3 232.7 1168.2 238.8 1168.9 228.4 1169.2 222.5 1169.6 236.9 1169.8 244.8" stroke="#1f77b4"/>
</g>
<path d="M163.5 301.5v5M289.5 301.5v5M415.5 301.5v5M541.5 301.5v5M667.5 301.5v5M793.5 301.5v5M919.5 301.5v5M1045.5 301.5v5" stroke="#000" stroke-width="1.11" fill="none"/>
<path d="M163.5 252.5h-5.3M163.5 297.5h-5.3" stroke="#000" stroke-width="1.11" fill="none"/>
<rect x="163.5" y="212.5" width="1007.0" height="89.0" fill="none" stroke="#000" stroke-width="1.11"/>
<text x="152.50" y="256.65" text-anchor="end">5</text>
<text x="153.80" y="302.55" text-anchor="end">0</text>
<text transform="translate(134.0 258.2) rotate(-90)" text-anchor="middle">wind speed (m/s)</text>
<rect x="163.5" y="444.5" width="1007.0" height="188.0" fill="#470e61"/>
<path d="M163.5 444.5V632.5H535.5V632.3H537.5V631.9H539.5V631.6H541.5V631.1H543.5V631.2H545.5V630.9H547.5V630.6H549.5V630.4H551.5V630.3H553.5V630.1H555.5V629.9H557.5V629.7H559.5V628.6H561.5V629.3H563.5V629.5H565.5V629.6H567.5V629.5H569.5V629.4H575.5V629.5H577.5V629.6H579.5V629.7H583.5V629.8H587.5V629.1H589.5V629.5H591.5V630H593.5V629.9H597.5V629.8H601.5V629.7H603.5V628.8H605.5V629.6H609.5V629.7H611.5V629.9H613.5V630H617.5V629.1H621.5V630.2H625.5V630.3H631.5V630.7H633.5V631.3H635.5V631.9H637.5V632.5H1117.5V632.3H1119.5V631.1H1121.5V631H1127.5V630.9H1129.5V630.8H1131.5V630.5H1133.5V630.6H1135.5V630.9H1145.5V630.7H1147.5V630.6H1149.5V630.9H1151.5V631H1159.5V631.4H1161.5V632.5H1170.5V444.5Z" fill="#470e61"/>
<path d="M163.5 444.5V632.5H413.5V632.4H415.5V631.9H417.5V631.5H419.5V631.1H421.5V630.8H423.5V630.3H425.5V630H427.5V629.6H429.5V629.2H431.5V628.8H433.5V628.4H435.5V628.3H437.5V627.9H439.5V627.7H441.5V627.3H443.5V627H445.5V626.6H447.5V626.4H449.5V626.3H451.5V626.1H453.5V625.9H455.5V625.8H459.5V625.7H463.5V625.6H465.5V625.5H467.5V625.4H469.5V625.1H475.5V624.6H477.5V624.7H479.5V624.4H481.5V624.3H483.5V624.2H485.5V624H487.5V624.3H489.5V624H491.5V624.1H493.5V624.2H495.5V624.4H497.5V624.5H499.5V624.9H501.5V625H503.5V625.3H507.5V625.7H509.5V625.3H511.5V625.2H513.5V624.4H515.5V622.1H517.5V621.2H519.5V623.9H521.5V622.4H523.5V623.4H525.5V622.9H527.5V622.8H529.5V623.1H531.5V623.2H533.5V623.3H535.5V620.7H537.5V619.3H539.5V621.1H541.5V619H543.5V622.3H545.5V622H547.5V621.9H549.5V622H551.5V622.3H553.5V622.4H555.5V622.3H559.5V618.7H561.5V621.4H563.5V622.1H565.5V622.2H567.5V622.1H569.5V621.7H571.5V621.5H573.5V621.7H575.5V621.9H577.5V622.2H579.5V622.9H581.5V622.8H583.5V622.9H585.5V623.2H587.5V620.7H589.5V621.9H591.5V623.7H593.5V623.4H597.5V623.1H601.5V622.7H603.5V619.6H605.5V622.5H607.5V622.3H609.5V622.6H611.5V623.3H613.5V623.6H615.5V623.7H617.5V620.8H619.5V620.6H621.5V624.3H623.5V624.4H625.5V624.7H629.5V624.5H631.5V624H633.5V624.2H635.5V624.5H637.5V624.6H639.5V625.5H641.5V628.3H643.5V631.1H645.5V632.5H647.5V630.2H649.5V630.5H651.5V632.5H1101.5V629.9H1103.5V625.8H1105.5V623H1107.5V621.2H1109.5V619.6H1111.5V618.3H1113.5V617.3H1115.5V617.1H1117.5V616.7H1119.5V616.6H1121.5V616.1H1123.5V615.7H1125.5V615.6H1127.5V615.2H1129.5V614.1H1131.5V610.5H1133.5V611.9H1135.5V614.5H1137.5V614.6H1139.5V615H1141.5V615.2H1145.5V613.2H1147.5V611.6H1149.5V614.7H1151.5V615.7H1153.5V615.9H1155.5V616.3H1159.5V616.6H1161.5V617.2H1163.5V617.8H1165.5V618.6H1167.5V619.3H1170.5V444.5Z" fill="#481769"/>
<path d="M163.5 444.5V604.9H165.5V602.5H167.5V603.8H169.5V604.4H171.5V603.9H173.5V604.2H175.5V603.4H177.5V603.8H179.5V604.9H181.5V604.4H183.5V604.3H187.5V605.4H189.5V605.5H191.5V604.8H193.5V605.6H195.5V606H197.5V605.8H199.5V606H201.5V605.7H203.5V605.4H205.5V605.1H207.5V605.8H209.5V606.6H211.5V603.7H213.5V603.2H215.5V605.4H217.5V605.1H219.5V605.4H221.5V605.8H223.5V605.1H225.5V604.7H227.5V604.5H229.5V607.3H231.5V609.5H233.5V606.1H235.5V605.5H237.5V607.4H239.5V608.8H241.5V606.1H243.5V605.3H247.5V604.7H249.5V604.8H253.5V604.9H255.5V604.8H257.5V604.7H259.5V604.9H261.5V604.8H267.5V605.2H269.5V601.5H271.5V601.2H273.5V604.7H275.5V604.9H277.5V605H279.5V605.2H281.5V605.6H283.5V606.2H285.5V606.5H287.5V606.6H289.5V606.8H291.5V606.5H293.5V607.7H295.5V615.4H297.5V611.4H299.5V606.7H301.5V612.9H303.5V612.3H305.5V606H307.5V605.9H309.5V606.2H311.5V606.4H313.5V603.2H315.5V604.3H317.5V606.1H319.5V605.9H321.5V605.7H323.5V605.5H325.5V604.9H327.5V604.5H329.5V604.9H331.5V605.2H333.5V600.5H335.5V605H337.5V605.4H339.5V605.3H341.5V605.4H347.5V605.3H349.5V605.1H351.5V604.6H353.5V604.7H355.5V604.8H357.5V604.9H359.5V604.5H361.5V604.6H363.5V600.4H365.5V600.5H367.5V605.8H369.5V609H371.5V610.3H373.5V607.8H375.5V605.6H377.5V605.3H379.5V605H381.5V605.5H383.5V605.9H385.5V606.6H387.5V607.2H391.5V607.4H393.5V607.5H395.5V608.2H397.5V608.9H399.5V608H401.5V608.2H403.5V608.5H405.5V609.1H407.5V609.9H409.5V610.9H411.5V608.6H413.5V607.5H415.5V611.7H417.5V612.2H419.5V612.6H421.5V612.7H423.5V612.3H427.5V611.8H429.5V611.3H431.5V611H433.5V610.7H435.5V611.2H437.5V610.9H439.5V611H441.5V610.7H443.5V610.5H445.5V610H449.5V610.2H451.5V610.4H453.5V610.3H455.5V610.5H457.5V610.9H459.5V611.1H461.5V611.5H463.5V611.6H465.5V611.7H467.5V611.6H469.5V611.4H471.5V611.6H473.5V611.8H475.5V611.1H477.5V611.5H479.5V611.2H481.5V611.1H483.5V611.2H485.5V611H487.5V611.7H489.5V611.4H491.5V611.8H493.5V612H495.5V612.6H497.5V612.9H499.5V613.6H501.5V613.9H503.5V614.4H505.5V614.5H507.5V615.2H509.5V614.7H511.5V614.6H513.5V613.4H515.5V609.9H517.5V608.7H519.5V613H521.5V610.9H523.5V612.7H525.5V612.1H529.5V612.6H531.5V612.9H533.5V613.2H535.5V609.8H537.5V608H539.5V610.5H541.5V607.8H543.5V612.3H545.5V612.1H547.5V612H549.5V612.2H551.5V612.7H553.5V613H555.5V612.9H557.5V613H559.5V608.4H561.5V611.9H563.5V612.7H565.5V612.9H567.5V612.8H569.5V612.2H571.5V612H573.5V612.2H575.5V612.5H577.5V613H579.5V613.8H581.5V613.7H583.5V613.9H585.5V614.2H587.5V610.9H589.5V612.6H591.5V614.8H593.5V614.4H595.5V614.5H597.5V614.1H601.5V613.6H603.5V609.6H605.5V613.3H607.5V613.1H609.5V613.4H611.5V614.3H613.5V614.7H615.5V614.9H617.5V611.1H619.5V610.9H621.5V615.7H625.5V616.1H629.5V615.8H631.5V615H633.5V615.1H637.5V615H639.5V615.9H641.5V619.7H643.5V623.9H645.5V626.4H647.5V621.8H649.5V622H651.5V626.8H653.5V627.3H657.5V624.1H659.5V616H661.5V617.3H663.5V614.6H665.5V614.7H667.5V614H669.5V613.4H671.5V612.2H673.5V611.8H675.5V611.4H677.5V610.5H679.5V609.2H681.5V608.5H683.5V608H685.5V607.8H687.5V607.1H691.5V606.9H693.5V606.6H695.5V604.5H697.5V601.1H699.5V599.5H701.5V602H703.5V603.9H705.5V604.6H707.5V604H709.5V601.8H711.5V599.6H713.5V603.4H715.5V604.3H717.5V604.9H721.5V605.2H723.5V605H725.5V605.2H727.5V604.6H729.5V604.9H731.5V604.5H733.5V604.6H735.5V604.5H737.5V604.6H741.5V603.7H743.5V600.1H745.5V601.6H747.5V603.7H749.5V604.1H751.5V603.6H753.5V603H755.5V602.9H757.5V603.6H759.5V604.1H761.5V604.7H763.5V604.8H765.5V604H767.5V604.4H769.5V604.9H771.5V605.1H773.5V605.3H775.5V605H777.5V604.7H779.5V600.8H781.5V601.4H783.5V600.6H785.5V603.7H787.5V600.8H789.5V598.8H791.5V602.2H793.5V603.4H795.5V603.2H797.5V602.9H799.5V603.6H801.5V603.3H803.5V602.8H805.5V602.5H807.5V601.7H809.5V601.2H811.5V599.2H813.5V594.1H815.5V596.5H817.5V598.6H819.5V598.1H821.5V597.6H823.5V597.3H825.5V596.5H827.5V596.4H829.5V596.2H831.5V596.6H833.5V596.3H835.5V596.1H837.5V595H839.5V594.7H841.5V594.6H843.5V595H845.5V594.1H847.5V593.5H849.5V593.1H851.5V592.3H853.5V592.4H855.5V592.9H857.5V588.6H859.5V576H861.5V581.9H863.5V592H865.5V593H867.5V593.5H869.5V589.9H871.5V586.9H873.5V593.9H875.5V594.5H877.5V594.4H879.5V594.1H881.5V589.4H883.5V585.3H885.5V592.3H887.5V594H889.5V594.1H891.5V593.4H893.5V589.5H895.5V586.5H897.5V593.7H899.5V595.3H901.5V593.6H903.5V584.7H905.5V589.7H907.5V595.8H909.5V596.5H911.5V595.9H913.5V591.3H915.5V587.3H917.5V593.2H919.5V593.8H921.5V590.9H923.5V592.1H925.5V593.5H927.5V590.4H929.5V588.5H931.5V593.7H933.5V595.2H935.5V595.4H937.5V595.5H939.5V595.7H941.5V592.2H943.5V588.7H945.5V594.9H947.5V595.9H949.5V595.5H951.5V595.6H955.5V592.8H957.5V589.5H959.5V595.2H961.5V596H963.5V596.4H965.5V596.6H967.5V596.3H969.5V595.6H971.5V589.3H973.5V592.2H975.5V595.9H977.5V595.8H979.5V595.7H981.5V595.5H983.5V595.6H985.5V593.3H987.5V590.8H989.5V595.4H991.5V597.4H993.5V597.9H995.5V597.6H997.5V598.2H999.5V598.4H1001.5V595.6H1003.5V592.6H1005.5V598.5H1007.5V599.6H1009.5V599.1H1011.5V599.3H1013.5V599.7H1015.5V600H1017.5V600.1H1019.5V598.9H1021.5V599.9H1023.5V600.5H1025.5V601.2H1027.5V602.4H1029.5V603.2H1031.5V603.4H1033.5V603H1035.5V602.6H1037.5V603.8H1039.5V603.5H1041.5V603.8H1043.5V603.7H1047.5V604.2H1049.5V604.1H1053.5V604.5H1055.5V603.8H1057.5V603.4H1059.5V603.5H1061.5V603.4H1063.5V603.9H1065.5V603.5H1067.5V600.2H1069.5V598.8H1071.5V603.3H1073.5V603.8H1075.5V604.3H1077.5V603.9H1079.5V604.1H1081.5V603.5H1083.5V603.6H1085.5V603.4H1087.5V603.5H1089.5V603.1H1093.5V603.5H1095.5V604.1H1097.5V603.5H1099.5V603.4H1101.5V603H1103.5V603.6H1105.5V603.5H1107.5V603.8H1109.5V603.6H1111.5V603.3H1113.5V603.1H1115.5V603.9H1117.5V604.1H1119.5V604.4H1121.5V603.7H1123.5V603.3H1125.5V603.1H1127.5V602.6H1129.5V601.1H1131.5V596.1H1133.5V598.1H1135.5V601.6H1137.5V601.8H1139.5V602.3H1141.5V602.5H1145.5V599.8H1147.5V597.6H1149.5V601.9H1151.5V603.2H1153.5V603.5H1155.5V604.1H1157.5V604H1159.5V604.4H1161.5V604.5H1163.5V604.6H1165.5V604.7H1170.5V444.5Z" fill="#481f70"/>
<path d="M163.5 444.5V600.5H165.5V598.3H167.5V599.5H169.5V599.9H171.5V599.4H173.5V599.7H175.5V598.9H177.5V599.3H179.5V600.5H181.5V599.9H187.5V601.1H189.5V601.2H191.5V600.4H193.5V601.3H195.5V601.8H197.5V601.5H199.5V601.8H201.5V601.4H203.5V601.1H205.5V600.8H207.5V601.5H209.5V602.4H211.5V599.5H213.5V599H215.5V601.1H217.5V600.7H219.5V601.1H221.5V601.6H223.5V600.7H225.5V600.3H227.5V600.1H229.5V602.8H231.5V604.9H233.5V601.7H235.5V601.1H237.5V603H239.5V604.3H241.5V601.7H243.5V601H245.5V600.9H247.5V600.3H249.5V600.4H253.5V600.5H255.5V600.4H257.5V600.3H259.5V600.6H261.5V600.4H267.5V600.8H269.5V597.2H271.5V596.9H273.5V600.3H275.5V600.5H277.5V600.6H279.5V600.8H281.5V601.3H283.5V601.9H285.5V602.2H287.5V602.4H289.5V602.6H291.5V602.3H293.5V603.4H295.5V610.9H297.5V607H299.5V602.4H301.5V608.3H303.5V607.7H305.5V601.7H307.5V601.6H309.5V602H311.5V602.2H313.5V599.1H315.5V600.1H317.5V601.8H319.5V601.6H321.5V601.4H323.5V601.2H325.5V600.6H327.5V600.1H329.5V600.6H331.5V600.9H333.5V596.4H335.5V600.7H337.5V601H341.5V601.1H343.5V601H345.5V601.1H347.5V600.9H349.5V600.8H351.5V600.2H353.5V600.3H355.5V600.4H357.5V600.5H359.5V600.1H363.5V596.1H365.5V596.3H367.5V601.3H369.5V604.4H371.5V605.7H373.5V603.3H375.5V601.2H377.5V600.9H379.5V600.6H381.5V601H383.5V601.3H385.5V601.8H387.5V602.3H389.5V602.2H391.5V602.1H395.5V602.7H397.5V603.3H399.5V602.1H403.5V602.3H405.5V602.8H407.5V603.5H409.5V604.5H411.5V602.3H413.5V601.1H415.5V605.2H417.5V605.7H419.5V606.1H421.5V606.2H423.5V605.6H427.5V605H429.5V604.5H431.5V604H433.5V603.7H435.5V604.2H437.5V603.8H441.5V603.4H443.5V603.2H445.5V602.5H449.5V602.8H451.5V602.9H453.5V602.8H455.5V603H457.5V603.4H459.5V603.7H461.5V604H463.5V604.1H465.5V604.2H467.5V604.1H469.5V603.9H471.5V604.1H473.5V604.3H475.5V603.5H477.5V603.9H479.5V603.5H483.5V603.6H485.5V603.4H487.5V604H489.5V603.8H491.5V604.1H493.5V604.3H495.5V605H497.5V605.3H499.5V606.1H501.5V606.4H503.5V606.9H505.5V607H507.5V607.8H509.5V607.3H511.5V607.1H513.5V605.8H515.5V602.4H517.5V601.2H519.5V605.3H521.5V603.3H523.5V604.9H525.5V604.2H527.5V604.3H529.5V604.8H531.5V605.1H533.5V605.4H535.5V602.1H537.5V600.3H539.5V602.7H541.5V600.1H543.5V604.4H545.5V604.2H547.5V604H549.5V604.3H551.5V604.8H553.5V605.1H555.5V605H557.5V605.1H559.5V600.7H561.5V604H563.5V604.8H565.5V605H567.5V604.9H569.5V604.2H571.5V604H573.5V604.2H575.5V604.5H577.5V605H579.5V605.9H581.5V605.8H583.5V606H585.5V606.3H587.5V603.2H589.5V604.8H591.5V607H593.5V606.5H595.5V606.6H597.5V606.1H601.5V605.6H603.5V601.8H605.5V605.3H607.5V605H609.5V605.3H611.5V606.4H613.5V606.7H615.5V606.9H617.5V603.3H619.5V603.2H621.5V607.8H623.5V607.9H625.5V608.2H627.5V608.3H629.5V607.9H631.5V607H633.5V607.1H635.5V607.2H637.5V607H639.5V607.9H641.5V612H643.5V616.4H645.5V619H647.5V614.6H649.5V614.9H651.5V619.5H653.5V620.1H655.5V620H657.5V617.2H659.5V609.9H661.5V611.5H663.5V609.1H665.5V609.4H667.5V608.6H669.5V608.1H671.5V606.9H673.5V606.6H675.5V606.2H677.5V605.3H679.5V603.9H681.5V603.3H683.5V602.8H685.5V602.7H687.5V602.1H691.5V602H693.5V601.8H695.5V599.8H697.5V596.8H699.5V595.3H701.5V597.7H703.5V599.5H705.5V600.1H707.5V599.6H709.5V597.4H711.5V595.4H713.5V599H715.5V599.9H717.5V600.5H721.5V600.9H723.5V600.7H725.5V600.9H727.5V600.2H729.5V600.5H731.5V600.2H733.5V600.3H735.5V600.2H737.5V600.3H739.5V600.2H741.5V599.4H743.5V595.8H745.5V597.2H747.5V599.2H749.5V599.6H751.5V599.1H753.5V598.5H757.5V599.2H759.5V599.7H761.5V600.3H763.5V600.5H765.5V599.6H767.5V600H769.5V600.6H771.5V600.8H773.5V601.1H775.5V600.7H777.5V600.4H779.5V596.6H781.5V597.1H783.5V596.4H785.5V599.3H787.5V596.4H789.5V594.5H791.5V597.7H793.5V598.9H795.5V598.7H797.5V598.5H799.5V599.2H801.5V598.9H803.5V598.4H805.5V598.1H807.5V597.3H809.5V596.8H811.5V594.8H813.5V589.8H815.5V592.2H817.5V594.1H819.5V593.6H821.5V593.1H823.5V592.8H825.5V592H827.5V591.9H829.5V591.8H831.5V592.2H833.5V591.9H835.5V591.7H837.5V590.5H839.5V590.2H841.5V590.1H843.5V590.5H845.5V589.6H847.5V588.9H849.5V588.5H851.5V587.6H853.5V587.7H855.5V588.3H857.5V584.2H859.5V571.9H861.5V577.7H863.5V587.5H865.5V588.4H867.5V588.9H869.5V585.5H871.5V582.6H873.5V589.4H875.5V590H877.5V589.9H879.5V589.6H881.5V585H883.5V581.1H885.5V587.7H887.5V589.3H889.5V589.5H891.5V588.8H893.5V585.1H895.5V582.2H897.5V589.2H899.5V590.8H901.5V589.2H903.5V580.7H905.5V585.5H907.5V591.4H909.5V592.1H911.5V591.5H913.5V586.9H915.5V582.9H917.5V588.6H919.5V589H921.5V586.4H923.5V587.4H925.5V588.8H927.5V585.7H929.5V583.9H931.5V589.1H933.5V590.6H935.5V590.8H937.5V590.9H939.5V591.2H941.5V587.7H943.5V584.4H945.5V590.4H947.5V591.3H949.5V590.9H953.5V591H955.5V588.4H957.5V585.1H959.5V590.6H961.5V591.4H963.5V591.8H965.5V592H967.5V591.7H969.5V591.1H971.5V584.9H973.5V587.7H975.5V591.2H977.5V591.1H979.5V591H981.5V590.8H983.5V590.9H985.5V588.8H987.5V586.3H989.5V590.9H991.5V592.8H993.5V593.3H995.5V593.1H997.5V593.7H999.5V593.9H1001.5V591.2H1003.5V588.4H1005.5V594.1H1007.5V595.2H1009.5V594.6H1011.5V594.9H1013.5V595.4H1015.5V595.7H1019.5V594.3H1021.5V594.6H1023.5V594.5H1025.5V594.6H1027.5V595.1H1029.5V595.4H1031.5V595.6H1033.5V595.2H1035.5V594.7H1037.5V596H1039.5V595.8H1041.5V596H1047.5V596.5H1049.5V596.3H1051.5V596.4H1053.5V596.8H1055.5V596.1H1057.5V595.6H1059.5V595.7H1061.5V595.6H1063.5V596.1H1065.5V595.7H1067.5V592.4H1069.5V591.1H1071.5V595.5H1073.5V596.1H1075.5V596.5H1077.5V596.1H1079.5V596.3H1081.5V595.7H1085.5V595.6H1087.5V595.7H1089.5V595.2H1093.5V595.6H1095.5V596.3H1097.5V595.6H1101.5V595.1H1103.5V595.8H1105.5V595.7H1107.5V595.9H1109.5V595.7H1111.5V595.4H1113.5V595.2H1115.5V596H1117.5V596.3H1119.5V596.6H1121.5V595.9H1123.5V595.4H1125.5V595.1H1127.5V594.6H1129.5V593.1H1131.5V588.3H1133.5V590.2H1135.5V593.6H1137.5V593.7H1139.5V594.3H1141.5V594.5H1145.5V591.9H1147.5V589.8H1149.5V594H1151.5V595.3H1153.5V595.5H1155.5V596.2H1157.5V596.1H1159.5V596.5H1161.5V596.6H1163.5V596.8H1165.5V596.9H1170.5V444.5Z" fill="#482878"/>
<path d="M163.5 444.5V598.2H165.5V596.1H167.5V597.3H169.5V597.5H171.5V597H173.5V597.3H175.5V596.3H177.5V596.8H179.5V598.2H181.5V597.5H187.5V598.8H189.5V598.9H191.5V598H193.5V599H195.5V599.6H197.5V599.3H199.5V599.6H201.5V599.2H203.5V598.8H205.5V598.5H207.5V599.4H209.5V600.3H211.5V597.6H213.5V597H215.5V598.9H217.5V598.4H219.5V598.8H221.5V599.4H223.5V598.4H225.5V598H227.5V597.7H229.5V600.3H231.5V602.4H233.5V599.3H235.5V598.8H237.5V600.6H239.5V601.8H241.5V599.4H243.5V598.7H245.5V598.6H247.5V597.9H249.5V598.1H251.5V598H253.5V598.2H255.5V598.1H257.5V598H259.5V598.3H261.5V598.1H263.5V598H265.5V598.1H267.5V598.6H269.5V595.1H271.5V594.7H273.5V598H275.5V598.1H277.5V598.3H279.5V598.5H281.5V599.1H283.5V599.8H285.5V600.1H287.5V600.3H289.5V600.5H291.5V600.2H293.5V601.2H295.5V608.3H297.5V604.6H299.5V600.1H301.5V605.8H303.5V605.1H305.5V599.4H309.5V599.8H311.5V600.1H313.5V597.1H315.5V598H317.5V599.7H319.5V599.4H321.5V599.2H323.5V599H325.5V598.2H327.5V597.7H329.5V598.2H331.5V598.6H333.5V594.4H335.5V598.5H337.5V598.8H339.5V598.7H341.5V598.8H345.5V598.9H347.5V598.6H349.5V598.5H351.5V597.9H355.5V598H357.5V598.2H359.5V597.7H361.5V597.8H363.5V594.1H367.5V598.8H369.5V601.8H371.5V603.1H373.5V600.8H375.5V598.8H377.5V598.7H379.5V598.2H381.5V598.5H383.5V598.6H385.5V599H387.5V599.3H389.5V598.9H391.5V598.7H393.5V598.5H395.5V598.9H397.5V599.3H399.5V597.8H401.5V597.6H405.5V597.9H407.5V598.5H409.5V599.4H411.5V597.4H413.5V596.3H415.5V600.1H417.5V600.6H419.5V600.9H421.5V601H423.5V600.3H425.5V600.2H427.5V599.5H429.5V598.8H431.5V598.3H433.5V597.8H435.5V598.3H437.5V597.8H441.5V597.3H443.5V596.9H445.5V596.2H447.5V596.1H449.5V596.3H451.5V596.4H453.5V596.3H455.5V596.5H457.5V596.9H459.5V597.2H461.5V597.6H463.5V597.7H465.5V597.8H467.5V597.7H469.5V597.4H471.5V597.6H473.5V597.8H475.5V596.9H477.5V597.3H479.5V596.9H481.5V596.8H483.5V596.9H485.5V596.6H487.5V597.4H489.5V597.1H491.5V597.4H493.5V597.7H495.5V598.4H497.5V598.7H499.5V599.6H501.5V599.9H503.5V600.5H505.5V600.6H507.5V601.5H509.5V600.8H511.5V600.6H513.5V599.1H515.5V595.9H517.5V594.8H519.5V598.6H521.5V596.6H523.5V598.1H525.5V597.3H529.5V597.9H531.5V598.2H533.5V598.6H535.5V595.3H537.5V593.6H539.5V595.8H541.5V593.4H543.5V597.4H545.5V597.2H547.5V597H549.5V597.2H551.5V597.8H553.5V598.2H555.5V598H557.5V598.1H559.5V593.9H561.5V596.9H563.5V597.7H565.5V597.9H567.5V597.8H569.5V597H571.5V596.8H573.5V597H575.5V597.3H577.5V597.9H579.5V598.9H581.5V598.7H583.5V598.9H585.5V599.3H587.5V596.4H589.5V598.1H591.5V600H593.5V599.5H595.5V599.6H597.5V599.1H599.5V599H601.5V598.4H603.5V594.9H605.5V598.2H607.5V597.7H609.5V598.1H611.5V599.3H613.5V599.7H615.5V599.9H617.5V596.5H621.5V600.8H623.5V600.9H625.5V601.3H629.5V600.9H631.5V599.9H635.5V600H637.5V599.9H639.5V600.8H641.5V605.2H643.5V609.9H645.5V612.8H647.5V608.5H649.5V608.8H651.5V613.4H653.5V613.9H657.5V611.6H659.5V605.2H661.5V607.2H663.5V605.3H665.5V605.8H667.5V605.1H669.5V604.5H671.5V603.4H673.5V603.1H675.5V602.8H677.5V601.9H679.5V600.5H681.5V599.8H683.5V599.5H685.5V599.4H687.5V598.9H689.5V599H691.5V599.1H693.5V598.9H695.5V597.2H697.5V594.6H699.5V593.3H701.5V595.5H703.5V597.2H705.5V597.8H707.5V597.2H709.5V595.2H711.5V593.2H713.5V596.7H715.5V597.5H717.5V598.3H719.5V598.2H721.5V598.6H723.5V598.4H725.5V598.6H727.5V597.9H729.5V598.3H731.5V597.8H733.5V597.9H735.5V597.8H737.5V598H739.5V597.9H741.5V597.1H743.5V593.5H745.5V594.9H747.5V596.8H749.5V597.3H751.5V596.7H753.5V596H757.5V596.7H759.5V597.3H761.5V598.1H763.5V598.2H765.5V597.2H767.5V597.7H769.5V598.4H771.5V598.6H773.5V598.9H775.5V598.5H777.5V598.1H779.5V594.5H781.5V594.8H783.5V594.3H785.5V597H787.5V594.2H789.5V592.3H791.5V595.3H793.5V596.5H795.5V596.3H797.5V596H799.5V596.8H801.5V596.6H803.5V596H805.5V595.8H807.5V595H809.5V594.4H811.5V592.5H813.5V587.6H815.5V590H817.5V591.7H819.5V591.2H821.5V590.6H823.5V590.4H825.5V589.5H829.5V589.4H831.5V589.9H833.5V589.6H835.5V589.4H837.5V588H839.5V587.7H841.5V587.6H843.5V588.1H845.5V587.1H847.5V586.4H849.5V585.9H851.5V584.9H853.5V585H855.5V585.7H857.5V581.8H859.5V570H861.5V575.6H863.5V584.9H865.5V585.8H867.5V586.3H869.5V583.1H871.5V580.5H873.5V587.1H875.5V587.5H877.5V587.4H879.5V587H881.5V582.7H883.5V579H885.5V585.2H887.5V586.7H889.5V586.9H891.5V586.1H893.5V582.6H895.5V580.1H897.5V586.7H899.5V588.4H901.5V587H903.5V578.8H905.5V583.5H907.5V589.1H909.5V589.7H911.5V589.1H913.5V584.5H915.5V580.6H917.5V586H919.5V586.3H921.5V583.8H923.5V584.7H925.5V586H927.5V583.1H929.5V581.4H931.5V586.5H933.5V587.9H935.5V588.2H937.5V588.3H939.5V588.6H941.5V585.4H943.5V582.1H945.5V587.9H947.5V588.7H949.5V588.3H955.5V586H957.5V582.8H959.5V588H961.5V588.8H963.5V589.2H965.5V589.4H967.5V589.1H969.5V588.6H971.5V582.7H973.5V585.2H975.5V588.5H977.5V588.4H979.5V588.2H981.5V588H983.5V588.1H985.5V586.3H987.5V583.8H989.5V588.3H991.5V590.2H993.5V590.8H995.5V590.5H997.5V591.2H999.5V591.5H1001.5V589H1003.5V586.3H1005.5V591.8H1007.5V592.9H1009.5V592.2H1011.5V592.5H1013.5V593H1015.5V593.4H1019.5V591.6H1021.5V591H1023.5V590H1025.5V589.2H1027.5V588.9H1029.5V588.5H1031.5V588.8H1033.5V588.3H1035.5V587.8H1037.5V589.3H1039.5V588.9H1041.5V589.2H1047.5V589.7H1049.5V589.6H1053.5V590H1055.5V589.3H1057.5V588.7H1059.5V588.8H1061.5V588.7H1063.5V589.3H1065.5V588.8H1067.5V585.7H1069.5V584.4H1071.5V588.6H1073.5V589.2H1075.5V589.7H1077.5V589.2H1079.5V589.5H1081.5V588.8H1085.5V588.7H1089.5V588.2H1093.5V588.7H1095.5V589.5H1097.5V588.7H1099.5V588.6H1101.5V588.1H1103.5V588.9H1105.5V588.7H1107.5V589H1109.5V588.7H1111.5V588.3H1113.5V588.2H1115.5V589.1H1117.5V589.4H1119.5V589.7H1121.5V588.9H1123.5V588.3H1125.5V588H1127.5V587.5H1129.5V586H1131.5V581.4H1133.5V583.1H1135.5V586.4H1139.5V587.1H1141.5V587.3H1143.5V587.4H1145.5V585H1147.5V583H1149.5V586.9H1151.5V588.2H1153.5V588.4H1155.5V589.2H1157.5V589.1H1159.5V589.6H1161.5V589.7H1163.5V589.8H1165.5V590H1170.5V444.5Z" fill="#472f7d"/>
<path d="M163.5 444.5V595.9H165.5V593.9H167.5V595H169.5V595.1H171.5V594.5H173.5V594.9H175.5V593.8H177.5V594.4H179.5V595.9H181.5V595.1H185.5V595H187.5V596.6H189.5V596.7H191.5V595.7H193.5V596.8H195.5V597.5H197.5V597.1H199.5V597.4H201.5V597H203.5V596.6H205.5V596.2H207.5V597.2H209.5V598.3H211.5V595.7H213.5V594.9H215.5V596.6H217.5V596.1H219.5V596.6H221.5V597.2H223.5V596.1H225.5V595.6H227.5V595.3H229.5V597.8H231.5V599.8H233.5V597H235.5V596.5H237.5V598.2H239.5V599.4H241.5V597.1H243.5V596.4H247.5V595.5H249.5V595.7H253.5V595.8H255.5V595.7H257.5V595.6H259.5V595.9H261.5V595.8H263.5V595.7H265.5V595.8H267.5V596.3H269.5V592.9H271.5V592.6H273.5V595.6H275.5V595.8H277.5V595.9H279.5V596.2H281.5V596.9H283.5V597.6H285.5V598H287.5V598.3H289.5V598.5H291.5V598.1H293.5V599H295.5V605.8H297.5V602.3H299.5V597.9H301.5V603.3H303.5V602.5H305.5V597.1H307.5V597.2H309.5V597.7H311.5V598H313.5V595.2H315.5V596H317.5V597.5H319.5V597.3H321.5V597H323.5V596.7H325.5V595.9H327.5V595.4H329.5V595.9H331.5V596.3H333.5V592.5H335.5V596.2H337.5V596.5H339.5V596.4H341.5V596.6H343.5V596.5H345.5V596.6H347.5V596.4H349.5V596.2H351.5V595.5H353.5V595.6H355.5V595.7H357.5V595.9H359.5V595.3H361.5V595.4H363.5V592H367.5V596.3H369.5V599.2H371.5V600.4H373.5V598.3H375.5V596.5H377.5V596.4H379.5V595.9H385.5V596.2H387.5V596.3H389.5V595.7H391.5V595.2H393.5V594.8H395.5V595H397.5V595.4H399.5V593.5H401.5V593.1H403.5V592.9H405.5V593.1H407.5V593.5H409.5V594.4H411.5V592.5H413.5V591.4H415.5V594.9H417.5V595.5H419.5V595.8H423.5V595H425.5V594.8H427.5V594H429.5V593.1H431.5V592.5H433.5V591.9H435.5V592.4H437.5V591.9H439.5V591.7H441.5V591.1H443.5V590.7H445.5V589.8H447.5V589.7H449.5V589.8H451.5V590H453.5V589.9H455.5V590.1H457.5V590.5H459.5V590.8H461.5V591.2H463.5V591.3H467.5V591.2H469.5V590.9H471.5V591.1H473.5V591.3H475.5V590.3H477.5V590.7H479.5V590.3H481.5V590.1H483.5V590.3H485.5V589.9H487.5V590.8H489.5V590.4H491.5V590.8H493.5V591H495.5V591.8H497.5V592.2H499.5V593.1H501.5V593.5H503.5V594.1H507.5V595.1H509.5V594.4H511.5V594.2H513.5V592.5H515.5V589.4H517.5V588.3H519.5V591.9H521.5V590H523.5V591.2H525.5V590.4H529.5V591H531.5V591.4H533.5V591.8H535.5V588.6H537.5V587H539.5V589H541.5V586.7H543.5V590.4H545.5V590.1H547.5V589.9H549.5V590.2H551.5V590.8H553.5V591.2H555.5V591H557.5V591.1H559.5V587.1H561.5V589.9H563.5V590.7H565.5V590.9H567.5V590.7H569.5V589.9H571.5V589.6H573.5V589.8H575.5V590.2H577.5V590.8H579.5V591.9H581.5V591.7H583.5V591.9H585.5V592.3H587.5V589.6H589.5V591.3H591.5V593.1H593.5V592.5H595.5V592.6H597.5V592H601.5V591.2H603.5V588H605.5V591.1H607.5V590.5H609.5V590.9H611.5V592.1H613.5V592.6H615.5V592.8H617.5V589.7H619.5V589.8H621.5V593.8H623.5V593.9H625.5V594.4H629.5V593.9H631.5V592.7H633.5V592.8H635.5V592.9H637.5V592.7H639.5V593.7H641.5V598.4H643.5V603.5H645.5V606.5H647.5V602.4H649.5V602.8H651.5V607.2H653.5V607.8H657.5V606H659.5V600.4H661.5V602.9H663.5V601.6H665.5V602.2H667.5V601.5H669.5V601H671.5V599.8H673.5V599.6H675.5V599.4H677.5V598.5H679.5V597H681.5V596.4H683.5V596.1H685.5V596.2H687.5V595.7H689.5V595.9H691.5V596.1H695.5V594.6H697.5V592.3H699.5V591.3H701.5V593.3H703.5V594.8H705.5V595.4H707.5V594.8H709.5V593H711.5V591H713.5V594.4H715.5V595.1H717.5V596H719.5V595.9H721.5V596.4H723.5V596.1H725.5V596.4H727.5V595.5H729.5V596H731.5V595.5H733.5V595.6H735.5V595.5H737.5V595.7H739.5V595.6H741.5V594.8H743.5V591.3H745.5V592.6H747.5V594.4H749.5V594.9H751.5V594.2H753.5V593.6H757.5V594.3H759.5V595H761.5V595.8H763.5V596H765.5V594.9H767.5V595.4H769.5V596.2H771.5V596.4H773.5V596.8H775.5V596.3H777.5V595.9H779.5V592.5H781.5V592.6H783.5V592.3H785.5V594.7H787.5V591.9H789.5V590.1H791.5V593H793.5V594.1H795.5V593.9H797.5V593.5H799.5V594.5H801.5V594.3H803.5V593.7H805.5V593.5H807.5V592.7H809.5V592.1H811.5V590.2H813.5V585.4H815.5V587.8H817.5V589.3H819.5V588.7H821.5V588.2H823.5V587.9H825.5V587H831.5V587.5H833.5V587.2H835.5V587H837.5V585.5H839.5V585.3H841.5V585.2H843.5V585.7H845.5V584.6H847.5V583.9H849.5V583.3H851.5V582.2H853.5V582.4H855.5V583.1H857.5V579.5H859.5V568.1H861.5V573.4H863.5V582.4H865.5V583.1H867.5V583.8H869.5V580.8H871.5V578.3H873.5V584.7H875.5V585H877.5V584.9H879.5V584.5H881.5V580.4H883.5V576.9H885.5V582.6H887.5V584.1H889.5V584.3H891.5V583.5H893.5V580.2H895.5V577.9H897.5V584.3H899.5V585.9H901.5V584.7H903.5V576.9H905.5V581.4H907.5V586.8H909.5V587.4H911.5V586.7H913.5V582.1H915.5V578.3H917.5V583.3H919.5V583.5H921.5V581.2H923.5V582H925.5V583.2H927.5V580.4H929.5V578.9H931.5V583.9H933.5V585.3H935.5V585.6H937.5V585.7H939.5V586.1H941.5V583H943.5V579.9H945.5V585.4H947.5V586.1H949.5V585.6H953.5V585.7H955.5V583.6H957.5V580.4H959.5V585.5H961.5V586.2H963.5V586.6H965.5V586.9H967.5V586.5H969.5V586.1H971.5V580.4H973.5V582.7H975.5V585.9H977.5V585.6H979.5V585.4H981.5V585.2H983.5V585.4H985.5V583.8H987.5V581.4H989.5V585.7H991.5V587.7H993.5V588.3H995.5V588H997.5V588.8H999.5V589.1H1001.5V586.8H1003.5V584.2H1005.5V589.5H1007.5V590.6H1009.5V589.8H1011.5V590.1H1013.5V590.7H1015.5V591.1H1017.5V591.2H1019.5V588.9H1021.5V587.5H1023.5V585.5H1025.5V583.8H1027.5V582.7H1029.5V581.7H1031.5V582H1033.5V581.4H1035.5V580.8H1037.5V582.5H1039.5V582.1H1041.5V582.4H1047.5V583H1049.5V582.8H1051.5V582.9H1053.5V583.3H1055.5V582.5H1057.5V581.9H1061.5V581.8H1063.5V582.5H1065.5V582H1067.5V578.9H1069.5V577.8H1071.5V581.7H1073.5V582.4H1075.5V582.9H1077.5V582.4H1079.5V582.7H1081.5V581.9H1085.5V581.7H1087.5V581.8H1089.5V581.2H1093.5V581.7H1095.5V582.6H1097.5V581.7H1099.5V581.6H1101.5V581.1H1103.5V581.9H1105.5V581.7H1107.5V582.1H1109.5V581.8H1111.5V581.3H1113.5V581.1H1115.5V582.2H1117.5V582.5H1119.5V582.9H1121.5V581.9H1123.5V581.3H1125.5V581H1127.5V580.4H1129.5V579H1131.5V574.6H1133.5V576.1H1135.5V579.1H1139.5V579.9H1141.5V580.1H1143.5V580.3H1145.5V578.1H1147.5V576.1H1149.5V579.9H1151.5V581.1H1153.5V581.4H1155.5V582.2H1157.5V582.1H1159.5V582.6H1161.5V582.7H1163.5V582.9H1165.5V583.1H1170.5V444.5Z" fill="#453781"/>
<path d="M163.5 444.5V592.9H165.5V591H167.5V592H171.5V591.3H173.5V591.7H175.5V590.6H177.5V591.2H179.5V592.9H181.5V592H185.5V591.9H187.5V593.6H189.5V593.7H191.5V592.6H193.5V593.8H195.5V594.5H197.5V594.2H199.5V594.5H201.5V594H203.5V593.6H205.5V593.2H207.5V594.2H209.5V595.4H211.5V592.9H213.5V592H215.5V593.6H217.5V593.1H219.5V593.5H221.5V594.2H223.5V593.1H225.5V592.5H227.5V592.1H229.5V594.6H231.5V596.6H233.5V593.9H235.5V593.5H237.5V595.1H239.5V596.2H241.5V594H243.5V593.4H245.5V593.3H247.5V592.5H249.5V592.7H251.5V592.6H253.5V592.8H255.5V592.7H257.5V592.5H259.5V592.9H261.5V592.7H263.5V592.6H265.5V592.7H267.5V593.3H269.5V590H271.5V589.6H273.5V592.6H275.5V592.8H277.5V592.9H279.5V593.2H281.5V593.9H283.5V594.7H285.5V595.2H287.5V595.4H289.5V595.6H291.5V595.2H293.5V596.1H295.5V602.6H297.5V599.2H299.5V594.9H301.5V600H303.5V599.2H305.5V594.1H307.5V594.2H309.5V594.8H311.5V595.1H313.5V592.4H315.5V593.1H317.5V594.6H319.5V594.3H321.5V594H323.5V593.7H325.5V592.9H327.5V592.3H329.5V592.9H331.5V593.3H333.5V589.7H335.5V593.2H337.5V593.5H339.5V593.4H341.5V593.6H343.5V593.5H345.5V593.6H347.5V593.3H349.5V593.2H351.5V592.4H353.5V592.5H355.5V592.6H357.5V592.8H359.5V592.3H363.5V589.1H367.5V593.1H369.5V595.9H371.5V597.1H373.5V595.2H375.5V593.4H379.5V592.8H381.5V592.7H383.5V592.5H385.5V592.7H389.5V591.9H391.5V591.3H393.5V590.7H395.5V590.9H397.5V591.1H399.5V588.9H401.5V588.4H403.5V588H405.5V588.1H407.5V588.4H409.5V589.3H411.5V587.5H413.5V586.4H415.5V589.8H417.5V590.3H419.5V590.6H423.5V589.7H425.5V589.5H427.5V588.5H429.5V587.6H431.5V586.9H433.5V586.2H435.5V586.7H437.5V586.1H439.5V585.9H441.5V585.2H443.5V584.7H445.5V583.7H447.5V583.5H449.5V583.7H451.5V583.8H453.5V583.7H455.5V583.9H457.5V584.3H459.5V584.6H461.5V585.1H463.5V585.2H467.5V585.1H469.5V584.7H471.5V584.9H473.5V585.2H475.5V584.1H477.5V584.5H479.5V584H481.5V583.8H483.5V584H485.5V583.6H487.5V584.5H489.5V584H491.5V584.4H493.5V584.7H495.5V585.5H497.5V585.9H499.5V586.9H501.5V587.3H503.5V588H507.5V589.1H509.5V588.3H511.5V588H513.5V586.2H515.5V583.2H517.5V582.2H519.5V585.5H521.5V583.7H523.5V584.8H525.5V583.8H527.5V583.9H529.5V584.5H531.5V584.9H533.5V585.4H535.5V582.2H537.5V580.6H539.5V582.5H541.5V580.3H543.5V583.8H545.5V583.5H547.5V583.3H549.5V583.5H551.5V584.2H553.5V584.7H555.5V584.5H559.5V580.7H561.5V583.3H563.5V584.1H565.5V584.3H567.5V584.1H569.5V583.2H571.5V582.9H573.5V583.1H575.5V583.5H577.5V584.1H579.5V585.3H581.5V585.1H583.5V585.4H585.5V585.8H587.5V583.2H589.5V584.9H591.5V586.6H593.5V586H597.5V585.4H599.5V585.3H601.5V584.6H603.5V581.6H605.5V584.4H607.5V583.7H609.5V584.2H611.5V585.5H613.5V586H615.5V586.2H617.5V583.3H619.5V583.5H621.5V587.3H623.5V587.4H625.5V587.9H629.5V587.3H631.5V586.1H633.5V586.2H637.5V586H639.5V587.1H641.5V592H643.5V597.4H645.5V600.5H647.5V596.5H649.5V597H651.5V601.2H653.5V601.9H657.5V600.4H659.5V595.6H661.5V598.4H663.5V597.4H665.5V598.1H667.5V597.5H669.5V597H671.5V595.8H673.5V595.7H675.5V595.5H677.5V594.6H679.5V593.1H681.5V592.5H683.5V592.3H685.5V592.4H687.5V591.9H689.5V592.3H691.5V592.5H693.5V592.6H695.5V591.3H697.5V589.3H699.5V588.5H701.5V590.4H703.5V591.8H705.5V592.4H707.5V591.7H709.5V590H711.5V588H713.5V591.4H715.5V592H717.5V592.9H721.5V593.4H723.5V593.1H725.5V593.4H727.5V592.5H729.5V592.9H731.5V592.5H733.5V592.6H735.5V592.5H737.5V592.6H741.5V591.8H743.5V588.3H745.5V589.5H747.5V591.3H749.5V591.8H751.5V591.1H753.5V590.4H757.5V591.2H759.5V591.9H761.5V592.8H763.5V593H765.5V591.8H767.5V592.4H769.5V593.2H771.5V593.5H773.5V593.9H775.5V593.3H777.5V592.9H779.5V589.6H783.5V589.4H785.5V591.6H787.5V588.9H789.5V587.2H791.5V589.9H793.5V591H795.5V590.8H797.5V590.4H799.5V591.4H801.5V591.2H803.5V590.6H805.5V590.4H807.5V589.6H809.5V589H811.5V587.1H813.5V582.4H815.5V584.9H817.5V586.1H819.5V585.5H821.5V585H823.5V584.8H825.5V583.8H827.5V583.9H831.5V584.5H833.5V584.2H835.5V583.9H837.5V582.3H839.5V582.1H841.5V582H843.5V582.6H845.5V581.4H847.5V580.6H849.5V580.1H851.5V578.9H853.5V579H855.5V579.8H857.5V576.4H859.5V565.4H861.5V570.5H863.5V579.2H865.5V579.8H867.5V580.5H869.5V577.7H871.5V575.3H873.5V581.6H875.5V581.8H877.5V581.7H879.5V581.3H881.5V577.4H883.5V574H885.5V579.3H887.5V580.9H889.5V581.1H891.5V580.2H893.5V577H895.5V575H897.5V581.1H899.5V582.7H901.5V581.7H903.5V574.1H905.5V578.6H907.5V583.7H909.5V584.3H911.5V583.5H913.5V579.1H915.5V575.3H917.5V580.1H921.5V578H923.5V578.6H925.5V579.8H927.5V577.1H929.5V575.7H931.5V580.6H933.5V582H935.5V582.4H937.5V582.5H939.5V582.8H941.5V580H943.5V576.9H945.5V582.2H947.5V582.9H949.5V582.3H953.5V582.4H955.5V580.4H957.5V577.3H959.5V582.2H961.5V582.9H963.5V583.3H965.5V583.6H967.5V583.2H969.5V582.9H971.5V577.4H973.5V579.5H975.5V582.5H977.5V582.3H979.5V582.1H981.5V581.8H983.5V582H985.5V580.6H987.5V578.2H989.5V582.4H991.5V584.4H993.5V585.1H995.5V584.7H997.5V585.6H999.5V585.9H1001.5V583.8H1003.5V581.3H1005.5V586.5H1007.5V587.5H1009.5V586.7H1011.5V587H1013.5V587.7H1015.5V588.1H1019.5V585.5H1021.5V583.5H1023.5V580.8H1025.5V578.4H1027.5V576.7H1029.5V575.2H1031.5V575.5H1033.5V574.9H1035.5V574.3H1037.5V576.1H1039.5V575.7H1041.5V576H1045.5V575.9H1047.5V576.6H1049.5V576.4H1051.5V576.5H1053.5V577H1055.5V576H1057.5V575.4H1059.5V575.5H1061.5V575.3H1063.5V576.1H1065.5V575.5H1067.5V572.5H1069.5V571.4H1071.5V575.2H1073.5V575.9H1075.5V576.5H1077.5V575.9H1079.5V576.2H1081.5V575.4H1085.5V575.2H1087.5V575.3H1089.5V574.6H1091.5V574.7H1093.5V575.2H1095.5V576.2H1097.5V575.2H1099.5V575.1H1101.5V574.5H1103.5V575.4H1105.5V575.2H1107.5V575.6H1109.5V575.2H1111.5V574.8H1113.5V574.5H1115.5V575.7H1117.5V576H1119.5V576.4H1121.5V575.4H1123.5V574.7H1125.5V574.4H1127.5V573.7H1129.5V572.3H1131.5V568.1H1133.5V569.5H1135.5V572.4H1139.5V573.1H1141.5V573.4H1143.5V573.6H1145.5V571.5H1147.5V569.7H1149.5V573.3H1151.5V574.5H1153.5V574.8H1155.5V575.7H1157.5V575.6H1159.5V576.1H1161.5V576.2H1163.5V576.4H1165.5V576.6H1170.5V444.5Z" fill="#433e85"/>
<path d="M163.5 444.5V587.6H165.5V585.7H167.5V586.7H171.5V586.1H173.5V586.5H175.5V585.3H177.5V585.9H179.5V587.6H181.5V586.7H187.5V588.3H189.5V588.4H191.5V587.3H193.5V588.6H195.5V589.3H197.5V588.9H199.5V589.3H201.5V588.7H203.5V588.3H205.5V587.9H207.5V589H209.5V590.1H211.5V587.6H213.5V586.8H215.5V588.3H217.5V587.8H219.5V588.3H221.5V589H223.5V587.8H225.5V587.3H227.5V586.9H229.5V589.3H231.5V591.3H233.5V588.6H235.5V588.2H237.5V589.8H239.5V591H241.5V588.8H243.5V588.2H245.5V588.1H247.5V587.2H249.5V587.4H253.5V587.5H255.5V587.4H257.5V587.3H259.5V587.6H261.5V587.5H263.5V587.3H265.5V587.5H267.5V588H269.5V584.8H271.5V584.3H273.5V587.3H275.5V587.5H277.5V587.6H279.5V587.9H281.5V588.6H283.5V589.5H285.5V589.9H287.5V590.1H289.5V590.3H291.5V590H293.5V590.8H295.5V597.3H297.5V594H299.5V589.7H301.5V594.8H303.5V593.9H305.5V588.8H307.5V589H309.5V589.5H311.5V589.8H313.5V587.1H315.5V587.8H317.5V589.3H319.5V589.1H321.5V588.8H323.5V588.5H325.5V587.6H327.5V587H329.5V587.6H331.5V588H333.5V584.4H335.5V587.9H337.5V588.3H339.5V588.2H341.5V588.3H345.5V588.4H347.5V588.1H349.5V587.9H351.5V587.2H355.5V587.4H357.5V587.6H359.5V587H361.5V587.1H363.5V583.8H367.5V587.9H369.5V590.7H371.5V591.9H373.5V589.9H375.5V588.2H377.5V588.1H379.5V587.5H383.5V587.2H385.5V587.4H387.5V587.5H389.5V586.7H391.5V586H393.5V585.5H395.5V585.6H397.5V585.8H399.5V583.7H401.5V583.1H403.5V582.8H407.5V583.2H409.5V584H411.5V582.2H413.5V581.1H415.5V584.5H417.5V585.1H419.5V585.3H423.5V584.4H425.5V584.2H427.5V583.2H429.5V582.3H431.5V581.6H433.5V581H435.5V581.5H437.5V580.8H439.5V580.6H441.5V579.9H443.5V579.4H445.5V578.4H447.5V578.3H449.5V578.4H451.5V578.5H453.5V578.4H455.5V578.6H457.5V579H459.5V579.4H461.5V579.9H465.5V580H467.5V579.8H469.5V579.5H471.5V579.6H473.5V579.9H475.5V578.8H477.5V579.2H479.5V578.7H481.5V578.6H483.5V578.7H485.5V578.3H487.5V579.2H489.5V578.8H491.5V579.2H493.5V579.5H495.5V580.3H497.5V580.6H499.5V581.6H501.5V582H503.5V582.7H505.5V582.8H507.5V583.8H509.5V583H511.5V582.7H513.5V580.9H515.5V577.9H517.5V576.9H519.5V580.3H521.5V578.4H523.5V579.5H525.5V578.6H529.5V579.3H531.5V579.6H533.5V580.1H535.5V576.9H537.5V575.4H539.5V577.2H541.5V575H543.5V578.6H545.5V578.2H547.5V578H549.5V578.3H551.5V579H553.5V579.4H555.5V579.2H557.5V579.3H559.5V575.5H561.5V578H563.5V578.8H565.5V579H567.5V578.9H569.5V577.9H571.5V577.6H573.5V577.8H575.5V578.2H577.5V578.9H579.5V580H581.5V579.8H583.5V580.1H585.5V580.5H587.5V578H589.5V579.6H591.5V581.3H593.5V580.7H595.5V580.8H597.5V580.1H601.5V579.3H603.5V576.3H605.5V579.2H607.5V578.5H609.5V578.9H611.5V580.2H613.5V580.7H615.5V581H617.5V578.1H619.5V578.2H621.5V582H623.5V582.1H625.5V582.6H629.5V582H631.5V580.8H633.5V580.9H635.5V581H637.5V580.8H639.5V581.8H641.5V586.8H643.5V592.1H645.5V595.3H647.5V591.3H649.5V591.8H651.5V596H653.5V596.6H657.5V595.1H659.5V590.3H661.5V593.1H663.5V592.2H665.5V592.9H667.5V592.2H669.5V591.8H671.5V590.6H673.5V590.4H675.5V590.2H677.5V589.4H679.5V587.8H681.5V587.3H683.5V587H685.5V587.2H687.5V586.7H689.5V587.1H691.5V587.3H693.5V587.4H695.5V586H697.5V584.1H699.5V583.2H701.5V585.1H703.5V586.5H705.5V587.1H707.5V586.4H709.5V584.8H711.5V582.8H713.5V586.1H715.5V586.8H717.5V587.7H719.5V587.6H721.5V588.1H723.5V587.8H725.5V588.1H727.5V587.2H729.5V587.7H731.5V587.2H733.5V587.3H735.5V587.2H737.5V587.3H741.5V586.5H743.5V583H745.5V584.3H747.5V586H749.5V586.6H751.5V585.8H753.5V585.1H755.5V585.2H757.5V585.9H759.5V586.6H761.5V587.5H763.5V587.7H765.5V586.5H767.5V587.1H769.5V587.9H771.5V588.2H773.5V588.6H775.5V588.1H777.5V587.6H779.5V584.4H783.5V584.1H785.5V586.3H787.5V583.6H789.5V581.9H791.5V584.6H793.5V585.7H795.5V585.5H797.5V585.1H799.5V586.1H801.5V586H803.5V585.4H805.5V585.2H807.5V584.3H809.5V583.7H811.5V581.8H813.5V577.1H815.5V579.6H817.5V580.9H819.5V580.3H821.5V579.7H823.5V579.5H825.5V578.5H827.5V578.6H831.5V579.2H833.5V578.9H835.5V578.7H837.5V577.1H839.5V576.8H841.5V576.7H843.5V577.4H845.5V576.2H847.5V575.4H849.5V574.8H851.5V573.6H853.5V573.8H855.5V574.6H857.5V571.2H859.5V560.1H861.5V565.3H863.5V573.9H865.5V574.5H867.5V575.3H869.5V572.4H871.5V570.1H873.5V576.4H875.5V576.6H877.5V576.4H879.5V576.1H881.5V572.1H883.5V568.7H885.5V574.1H887.5V575.6H889.5V575.8H891.5V574.9H893.5V571.8H895.5V569.7H897.5V575.8H899.5V577.5H901.5V576.5H903.5V568.9H905.5V573.3H907.5V578.5H909.5V579.1H911.5V578.3H913.5V573.8H915.5V570H917.5V574.8H919.5V574.9H921.5V572.7H923.5V573.4H925.5V574.5H927.5V571.9H929.5V570.4H931.5V575.4H933.5V576.8H935.5V577.1H937.5V577.2H939.5V577.6H941.5V574.7H943.5V571.7H945.5V577H947.5V577.6H949.5V577.1H953.5V577.2H955.5V575.2H957.5V572.1H959.5V577H961.5V577.6H963.5V578.1H965.5V578.4H967.5V577.9H969.5V577.6H971.5V572.1H973.5V574.2H975.5V577.3H977.5V577H979.5V576.8H981.5V576.5H983.5V576.8H985.5V575.4H987.5V573H989.5V577.1H991.5V579.2H993.5V579.9H995.5V579.5H997.5V580.3H999.5V580.7H1001.5V578.6H1003.5V576.1H1005.5V581.2H1007.5V582.3H1009.5V581.5H1011.5V581.8H1013.5V582.4H1015.5V582.8H1017.5V582.9H1019.5V580.2H1021.5V578.2H1023.5V575.5H1025.5V573.2H1027.5V571.4H1029.5V569.9H1031.5V570.3H1033.5V569.7H1035.5V569H1037.5V570.8H1039.5V570.4H1041.5V570.8H1043.5V570.7H1047.5V571.3H1049.5V571.1H1051.5V571.2H1053.5V571.7H1055.5V570.8H1057.5V570.1H1059.5V570.2H1061.5V570.1H1063.5V570.8H1065.5V570.2H1067.5V567.3H1069.5V566.2H1071.5V569.9H1073.5V570.7H1075.5V571.2H1077.5V570.7H1079.5V571H1081.5V570.1H1083.5V570.2H1085.5V569.9H1087.5V570H1089.5V569.4H1093.5V569.9H1095.5V570.9H1097.5V569.9H1099.5V569.8H1101.5V569.3H1103.5V570.1H1105.5V569.9H1107.5V570.3H1109.5V570H1111.5V569.5H1113.5V569.3H1115.5V570.4H1117.5V570.7H1119.5V571.2H1121.5V570.1H1123.5V569.5H1125.5V569.1H1127.5V568.4H1129.5V567.1H1131.5V562.9H1133.5V564.2H1135.5V567.1H1139.5V567.9H1141.5V568.2H1143.5V568.4H1145.5V566.3H1147.5V564.4H1149.5V568H1151.5V569.2H1153.5V569.5H1155.5V570.4H1157.5V570.3H1159.5V570.8H1161.5V571H1163.5V571.1H1165.5V571.3H1170.5V444.5Z" fill="#404688"/>
<path d="M163.5 444.5V566.9H165.5V565.7H167.5V566.8H169.5V567.1H171.5V566.6H173.5V567.1H175.5V566.5H177.5V566.6H179.5V567.9H181.5V567.2H183.5V567.3H185.5V567.5H187.5V568.6H189.5V569H191.5V568.2H193.5V568.9H195.5V569.7H197.5V569.4H199.5V569.6H201.5V569.2H203.5V568.6H205.5V568.4H207.5V569H209.5V569.8H211.5V568.3H213.5V567.6H215.5V568.5H217.5V567.9H219.5V568.2H221.5V568.6H223.5V567.4H225.5V566.9H227.5V566.6H229.5V568.1H231.5V569.5H233.5V567.6H235.5V567.5H237.5V568.7H239.5V569.5H241.5V567.9H243.5V567.6H245.5V567.7H247.5V567.2H251.5V567.5H253.5V567.6H255.5V567.5H259.5V567.8H261.5V567.7H263.5V567.6H267.5V568.2H269.5V565.7H271.5V565.4H273.5V567.4H275.5V567.6H277.5V567.8H279.5V568H281.5V568.5H283.5V569H285.5V569.2H287.5V569.5H289.5V569.8H291.5V569.5H293.5V569.9H295.5V574.3H297.5V572H299.5V569H301.5V572.6H303.5V572.4H305.5V569H307.5V569.3H309.5V569.6H311.5V569.8H313.5V567.9H315.5V568.5H317.5V569.6H319.5V569.3H321.5V568.9H323.5V568.7H325.5V567.7H327.5V567.3H329.5V567.8H331.5V568.3H333.5V565.9H335.5V568.3H337.5V568.5H339.5V568.6H341.5V568.9H343.5V569H347.5V568.7H351.5V568.2H353.5V568.6H355.5V568.7H357.5V568.6H359.5V568H361.5V568.1H363.5V566H365.5V565.9H367.5V568.8H369.5V570.6H371.5V571.3H373.5V569.9H375.5V568.7H377.5V568.8H379.5V568.2H381.5V568H383.5V568.1H387.5V567.9H389.5V567.1H391.5V566.5H393.5V566.1H395.5V566.3H397.5V566.6H399.5V565.6H401.5V565.1H403.5V564.8H405.5V565.3H407.5V565.8H409.5V566.7H411.5V565.8H413.5V565.1H415.5V567.7H417.5V567.5H419.5V567.7H421.5V567.8H423.5V567.1H425.5V566.9H427.5V566.1H429.5V565.4H431.5V565H433.5V564.5H435.5V565.2H437.5V565H441.5V564.6H443.5V564.1H445.5V563.5H447.5V563.3H449.5V562.9H451.5V563H453.5V562.8H455.5V563H457.5V563.1H459.5V563.4H461.5V563.9H463.5V563.8H465.5V563.9H467.5V564.2H469.5V564H473.5V564.1H475.5V563.4H477.5V563.5H481.5V563.4H483.5V563.3H485.5V563.1H487.5V563.6H489.5V563.1H491.5V563.5H493.5V563.6H495.5V564.2H497.5V563.9H499.5V564.6H501.5V565H503.5V565.4H507.5V566.3H509.5V565.7H513.5V564.5H515.5V562.6H517.5V562.1H519.5V564.4H521.5V563.2H523.5V563.9H525.5V563.4H527.5V563.5H529.5V564H531.5V564.3H533.5V564.9H535.5V562.6H537.5V561.7H539.5V562.7H541.5V561.4H543.5V563.4H545.5V562.9H547.5V562.7H549.5V562.8H551.5V563.4H553.5V563.7H555.5V563.8H557.5V563.9H559.5V561.4H561.5V563.6H563.5V564.5H565.5V564.8H567.5V564.7H569.5V563.7H571.5V563.3H573.5V563.1H575.5V563.5H577.5V563.8H579.5V564.3H581.5V564.2H585.5V564.7H587.5V563.3H589.5V564.7H591.5V565.9H593.5V565.2H595.5V565.6H597.5V565.3H599.5V565.1H601.5V564.8H603.5V562.4H605.5V564H607.5V563.4H609.5V563.7H611.5V564.7H613.5V565.1H617.5V563.4H619.5V563.3H621.5V566H625.5V566.4H627.5V566.6H629.5V566.3H631.5V565.2H635.5V565.6H637.5V566.3H639.5V568.5H641.5V573.1H643.5V576.9H645.5V578.5H647.5V575.7H649.5V576.1H651.5V579.3H653.5V579.6H655.5V579.5H657.5V577H659.5V572.4H661.5V572.9H663.5V571.5H665.5V572.1H667.5V571.5H669.5V571H671.5V570.4H673.5V570.5H675.5V570.4H677.5V569.7H679.5V568.8H681.5V568.2H683.5V568.4H687.5V568.1H689.5V567.9H691.5V568H695.5V566.9H697.5V565.4H699.5V564.7H701.5V565.9H703.5V566.9H705.5V567.1H707.5V566.7H709.5V565.3H711.5V563.6H713.5V565.5H715.5V566H717.5V566.6H719.5V566.1H721.5V566.4H723.5V566.3H725.5V566.5H727.5V565.7H729.5V566.2H733.5V566.1H735.5V565.8H737.5V566.3H741.5V565.6H743.5V563.4H745.5V564.7H747.5V566H749.5V566.4H751.5V566.1H753.5V566.2H755.5V566H757.5V566.3H759.5V567H763.5V566.9H765.5V566H767.5V566.4H769.5V566.8H773.5V567.1H775.5V566.8H777.5V566.4H779.5V564.6H781.5V564.5H783.5V564.6H785.5V565.8H787.5V564.1H789.5V562.9H791.5V564.5H793.5V565.2H795.5V565.3H797.5V564.9H799.5V565.6H801.5V564.9H803.5V564.8H805.5V564.6H807.5V564.1H811.5V562.9H813.5V559.5H815.5V561.1H817.5V562.1H821.5V561.8H825.5V560.9H827.5V560.6H829.5V560.8H831.5V561H835.5V561.1H837.5V560.1H839.5V559.9H843.5V560.5H845.5V559.7H847.5V559H849.5V558.9H851.5V558.1H853.5V558.2H855.5V558.6H857.5V556.2H859.5V548.4H861.5V551.9H863.5V557.7H865.5V558.3H867.5V558.6H869.5V556.5H871.5V554.2H873.5V558.3H875.5V558.7H879.5V558.4H881.5V555.7H883.5V553.3H885.5V556.7H887.5V557.6H889.5V557.9H891.5V557.5H893.5V555.3H895.5V554H897.5V558.1H899.5V559.1H901.5V558.5H903.5V553.5H905.5V556.9H907.5V560.6H909.5V560.9H911.5V560.2H913.5V557H915.5V554.2H917.5V557.7H919.5V557.6H921.5V556.4H923.5V556.6H925.5V557.6H927.5V555.8H929.5V554.9H931.5V558.3H933.5V559.4H937.5V559.6H939.5V559.7H941.5V558.1H943.5V556H945.5V559.6H947.5V560.1H949.5V559.8H951.5V560.1H953.5V560.4H955.5V559H957.5V557H959.5V560.3H961.5V560.9H963.5V561.2H965.5V561.6H969.5V561.1H971.5V557.5H973.5V558.9H975.5V561.1H977.5V560.7H979.5V560.4H981.5V560.2H985.5V559.2H987.5V557.8H989.5V560.2H991.5V561.4H993.5V561.6H997.5V562.1H999.5V562.3H1001.5V561.1H1003.5V559.2H1005.5V562.8H1007.5V563.8H1009.5V563.6H1011.5V564H1015.5V564.2H1017.5V564.4H1019.5V562.4H1021.5V561.1H1023.5V559.2H1025.5V557.6H1027.5V556.5H1029.5V555.5H1031.5V556H1033.5V555.8H1035.5V555.3H1037.5V556.6H1039.5V556.4H1041.5V556.6H1043.5V556.9H1045.5V556.5H1047.5V557H1049.5V556.8H1053.5V557.1H1055.5V556.4H1057.5V555.8H1059.5V555.9H1061.5V555.5H1063.5V555.9H1065.5V555.4H1067.5V553.6H1069.5V553H1071.5V555.7H1073.5V556.2H1075.5V556.9H1077.5V556.6H1079.5V557.3H1081.5V556.9H1083.5V557.2H1085.5V557H1087.5V557.2H1089.5V556.6H1091.5V556.7H1093.5V556.8H1095.5V557.1H1097.5V556H1099.5V556.1H1101.5V555.6H1103.5V556.5H1105.5V556.3H1107.5V556.4H1109.5V556.2H1111.5V555.9H1113.5V556H1115.5V556.9H1117.5V557H1119.5V557.1H1121.5V556.4H1123.5V556.1H1125.5V556.2H1127.5V555.7H1129.5V555H1131.5V552.4H1133.5V553.4H1135.5V555.4H1137.5V555.5H1139.5V555.7H1143.5V556.1H1145.5V554.7H1147.5V553.3H1149.5V555.6H1151.5V556.6H1153.5V557.3H1155.5V558.1H1157.5V558.4H1159.5V558.9H1161.5V558.7H1163.5V558.8H1170.5V444.5Z" fill="#3d4d8a"/>
<path d="M163.5 444.5V524.3H165.5V524.7H167.5V525.6H169.5V526.4H171.5V526.3H173.5V526.9H175.5V527.2H177.5V526.5H179.5V527.2H181.5V526.9H183.5V527.1H185.5V527.6H187.5V527.9H189.5V528.8H191.5V528.4H193.5V528.2H195.5V529.4H197.5V529H199.5V529.1H201.5V528.7H203.5V527.7H205.5V528.1H207.5V527.7H209.5V527.9H211.5V528.5H213.5V528H215.5V527.6H217.5V526.8H223.5V525.4H225.5V525H227.5V524.7H229.5V524.5H231.5V524.4H233.5V524.3H235.5V524.8H237.5V525.2H241.5V525H243.5V525.3H245.5V525.7H247.5V526H249.5V525.5H251.5V526.4H253.5V526.5H255.5V526.4H257.5V526.7H259.5V527H261.5V526.8H263.5V526.7H265.5V526.8H267.5V527.3H269.5V526.4H271.5V526.2H273.5V526.4H275.5V526.6H277.5V526.8H279.5V527H281.5V527.1H283.5V526.9H285.5V526.8H287.5V527.2H289.5V527.6H291.5V527.5H293.5V527H295.5V526.8H299.5V526.5H301.5V526.9H303.5V527.8H305.5V528.2H307.5V528.9H309.5V528.8H313.5V528.7H315.5V529H317.5V529.1H319.5V528.7H321.5V528.4H323.5V528.1H325.5V527H329.5V527.2H331.5V527.9H333.5V528.1H335.5V528.2H337.5V528.1H339.5V528.6H341.5V529.2H343.5V529.7H345.5V529.4H347.5V529.2H349.5V529.4H353.5V530.5H357.5V530H359.5V529.4H361.5V529.5H363.5V529.8H365.5V529.5H367.5V529.8H369.5V529.6H371.5V529.2H375.5V529.3H377.5V529.8H379.5V529H381.5V528.8H383.5V529.6H385.5V529.4H387.5V528.8H389.5V528H391.5V527.9H393.5V527.6H395.5V528.1H397.5V528.8H399.5V530H401.5V529.6H403.5V529.4H405.5V530.9H407.5V531.7H409.5V532.9H411.5V534.1H415.5V535H417.5V533.8H421.5V534.3H423.5V533.8H427.5V533.1H429.5V532.8H431.5V533.2H433.5V533H435.5V534.2H437.5V534.7H439.5V535H441.5V535.1H443.5V534.7H445.5V534.9H447.5V534.6H449.5V533.4H453.5V533.1H455.5V533.2H457.5V532.7H459.5V533H461.5V533.6H463.5V533.4H465.5V533.6H467.5V534.5H469.5V534.8H471.5V534.5H473.5V534.2H475.5V534.4H477.5V533.9H479.5V534.7H483.5V534.4H487.5V534.1H489.5V533.6H491.5V534.1H493.5V533.8H495.5V534.2H497.5V532.8H499.5V532.9H501.5V533.3H503.5V533.2H505.5V533.1H507.5V533.9H509.5V533.6H511.5V534.1H515.5V534.3H517.5V535H519.5V534.8H521.5V534.9H525.5V535.2H527.5V535.4H529.5V535.5H531.5V535.8H533.5V536.5H535.5V536.2H537.5V536.5H539.5V535.8H541.5V536.1H543.5V535.1H545.5V534.2H547.5V534.1H549.5V533.8H551.5V534.3H553.5V534.6H555.5V534.9H557.5V535.3H559.5V535.4H561.5V536.7H563.5V537.8H565.5V538.1H567.5V538.2H569.5V537.1H571.5V536.5H573.5V535.5H575.5V535.9H577.5V535.7H579.5V535.1H581.5V535H583.5V534.7H585.5V535.1H587.5V536.3H589.5V536.9H591.5V537.2H593.5V536.3H595.5V537.2H597.5V537.6H599.5V537H601.5V537.5H603.5V536.5H605.5V535.6H607.5V535.2H609.5V535.3H611.5V535.7H613.5V535.9H615.5V535.6H617.5V536.2H619.5V535.9H621.5V536H623.5V535.9H625.5V536.2H627.5V536.7H629.5V536.9H631.5V536H633.5V536.2H635.5V537.2H637.5V539.7H639.5V544.7H641.5V548.8H643.5V549.6H645.5V548.1H647.5V547.7H649.5V547.9H651.5V549H653.5V548.6H655.5V548.1H657.5V543.4H659.5V539.1H661.5V534.5H663.5V532.4H665.5V532.6H667.5V532.3H669.5V531.5H671.5V532.2H673.5V532.6H675.5V532.5H677.5V532.2H679.5V532.4H681.5V531.8H683.5V532.6H685.5V532.4H689.5V531.3H691.5V531.2H693.5V531H695.5V530.6H697.5V530H699.5V529.9H701.5V529.5H703.5V529.6H705.5V528.9H707.5V529.1H709.5V528.3H711.5V527.2H713.5V526.4H715.5V526.2H717.5V526.5H719.5V525.2H721.5V525.1H723.5V525.2H727.5V524.7H729.5V525.4H731.5V526H733.5V525.8H735.5V525H737.5V526.2H739.5V526.1H741.5V525.8H743.5V526.2H745.5V527.3H747.5V527.6H749.5V527.7H751.5V528.4H753.5V529.8H755.5V529.1H757.5V528.8H759.5V529.3H761.5V527.7H763.5V527.3H765.5V526.8H769.5V526.5H771.5V526.1H773.5V526.2H775.5V526.3H777.5V525.9H779.5V527.2H781.5V526.8H783.5V527.4H785.5V526.7H787.5V526.8H791.5V526.2H793.5V526.1H795.5V526.6H797.5V526.3H801.5V524.8H803.5V525.6H809.5V526.9H811.5V527H813.5V526.5H815.5V526.4H817.5V526.6H819.5V527.7H821.5V527.9H823.5V528.1H825.5V527.5H827.5V526.5H829.5V527.1H831.5V526.9H833.5V527.5H835.5V528.2H837.5V528.3H839.5V528.1H841.5V528.5H843.5V529.1H845.5V529.2H847.5V528.5H849.5V529.3H851.5V529.1H855.5V528.8H857.5V528.7H859.5V527.9H861.5V527.8H863.5V527.6H865.5V528H867.5V527.8H869.5V527.1H871.5V525.4H873.5V525H875.5V525.5H877.5V525.7H879.5V525.6H881.5V525.7H883.5V525.5H885.5V524.4H887.5V524H889.5V524.6H891.5V525.2H893.5V525H895.5V525.4H897.5V525.3H899.5V525H901.5V525.3H903.5V525.9H905.5V526.8H907.5V527.4H909.5V527.2H911.5V526.5H913.5V525.9H915.5V525.3H917.5V525.8H919.5V525.3H921.5V526H923.5V525.2H925.5V525.8H927.5V526H929.5V526.3H931.5V526.5H933.5V526.8H935.5V526.2H937.5V526.7H939.5V526.3H941.5V527.4H943.5V527.3H945.5V527.2H949.5V527.4H951.5V528.2H953.5V528.9H955.5V528.8H957.5V529.1H959.5V528.9H961.5V529.4H965.5V530.1H967.5V530.8H969.5V530.1H971.5V530.4H975.5V530.5H977.5V530H979.5V529.3H983.5V528.8H985.5V529.1H987.5V529.5H989.5V528.4H991.5V527.9H993.5V527.2H995.5V528.1H997.5V527.9H999.5V527.8H1001.5V528.5H1003.5V528.1H1005.5V528.4H1007.5V529H1009.5V530.1H1011.5V530.6H1013.5V529.5H1015.5V529.4H1017.5V529.7H1019.5V529H1021.5V529.2H1023.5V528.7H1025.5V528.8H1027.5V529.2H1029.5V529.3H1031.5V530H1033.5V530.4H1035.5V530.2H1037.5V530.8H1041.5V531H1043.5V531.6H1045.5V530.7H1047.5V530.9H1051.5V530.6H1055.5V530.4H1057.5V529.8H1059.5V530H1061.5V529.2H1063.5V529H1065.5V528.6H1067.5V529.1H1069.5V529.5H1071.5V529.9H1073.5V530.1H1075.5V531H1077.5V531.1H1079.5V532.5H1081.5V533H1083.5V533.9H1085.5V533.5H1087.5V533.9H1089.5V533.6H1091.5V533.7H1093.5V533H1095.5V532.3H1097.5V530.9H1099.5V531.2H1101.5V531H1103.5V532H1105.5V531.8H1107.5V531.4H1109.5V531.5H1111.5V531.6H1113.5V532.3H1115.5V533H1117.5V532.5H1119.5V532.2H1123.5V532.4H1125.5V533.4H1127.5V533.3H1129.5V534H1131.5V534.6H1133.5V534.9H1137.5V535.3H1139.5V534.6H1141.5V534H1143.5V534.9H1145.5V535.2H1147.5V534.9H1149.5V534.6H1151.5V535.1H1153.5V536.7H1155.5V537.5H1157.5V538.5H1159.5V539.1H1161.5V538.5H1163.5V538.4H1165.5V538.3H1167.5V538.4H1170.5V444.5Z" fill="#3a538b"/>
<path d="M163.5 444.5V502.2H165.5V502.5H167.5V502.9H169.5V502.7H171.5V502.3H173.5V502.8H175.5V502.3H179.5V503.7H181.5V503H183.5V503.1H185.5V503.4H187.5V504.5H189.5V505.1H191.5V504.2H193.5V504.9H195.5V505.9H197.5V505.5H199.5V505.8H201.5V505.3H203.5V504.5H207.5V504.9H209.5V505.8H211.5V505.9H213.5V505H215.5V504.5H217.5V503.8H219.5V504.1H221.5V504.5H223.5V503.1H225.5V502.6H227.5V502.1H231.5V502.3H233.5V502.5H235.5V503H237.5V503.1H239.5V503H241.5V503.1H243.5V503.3H245.5V503.5H247.5V503.1H249.5V503H251.5V503.4H253.5V503.6H255.5V503.5H259.5V503.9H261.5V503.7H263.5V503.6H265.5V503.7H267.5V504.3H269.5V503.6H271.5V503.2H273.5V503.5H275.5V503.7H277.5V503.9H279.5V504.2H281.5V504.7H283.5V505.1H285.5V505.3H287.5V505.7H289.5V506H291.5V505.7H293.5V505.3H295.5V505.1H297.5V505.3H299.5V504.6H301.5V504.7H305.5V505.4H307.5V506.3H309.5V506.7H311.5V507H313.5V506.9H315.5V506.8H317.5V507.1H319.5V506.9H321.5V506.6H323.5V506.4H325.5V505.4H327.5V505.1H329.5V505.7H331.5V506.4H333.5V506.8H337.5V507H339.5V507.2H341.5V507.7H343.5V508H347.5V507.9H349.5V508H351.5V507.6H353.5V508.3H355.5V508.5H357.5V508.4H359.5V507.9H361.5V508.1H363.5V508.6H365.5V508.3H367.5V508.2H369.5V508.3H373.5V508.7H375.5V509.1H377.5V509.7H379.5V509.1H381.5V509.5H383.5V510.3H385.5V510.9H387.5V511.1H389.5V510.8H393.5V510.9H395.5V511.8H397.5V512.8H399.5V512.5H401.5V512.6H403.5V512.7H405.5V514.1H407.5V515.2H409.5V516.9H411.5V518.1H413.5V518.5H415.5V519.5H417.5V519.6H419.5V520.2H421.5V520.6H423.5V520H425.5V520.1H427.5V519.3H429.5V518.8H431.5V518.7H433.5V518.4H435.5V519.5H437.5V519.6H439.5V519.8H441.5V519.6H443.5V519.2H445.5V518.9H449.5V518.5H451.5V518.7H453.5V518.6H455.5V518.8H457.5V519H459.5V519.4H461.5V520.1H465.5V520.3H467.5V520.8H471.5V520.9H473.5V521H475.5V520.5H477.5V520.6H479.5V520.8H485.5V520.6H487.5V521.2H489.5V520.7H491.5V521.3H493.5V521.4H495.5V522.3H497.5V521.8H499.5V522.6H501.5V523.2H503.5V523.7H507.5V524.9H509.5V524.3H511.5V524.5H513.5V523.4H517.5V523.9H519.5V523.8H521.5V523.6H523.5V523.2H525.5V522.7H527.5V522.9H529.5V523.3H531.5V523.6H533.5V524.3H535.5V523.5H537.5V523.6H539.5V523H541.5V523.2H543.5V522.5H545.5V521.9H547.5V521.6H549.5V521.7H551.5V522.3H553.5V522.7H557.5V522.9H559.5V522.8H561.5V523.1H563.5V523.9H565.5V524.1H569.5V522.9H571.5V522.4H573.5V522.1H575.5V522.4H577.5V522.7H579.5V523.2H581.5V523H585.5V523.4H587.5V524.1H589.5V524.9H593.5V524.1H595.5V524.6H597.5V524.3H599.5V524H601.5V523.7H603.5V523.6H605.5V523H607.5V522H609.5V522.3H611.5V523.3H613.5V523.7H617.5V524.3H619.5V524.5H625.5V524.9H627.5V525.2H629.5V525H631.5V524.2H633.5V524.7H635.5V525.6H637.5V527.9H639.5V533.9H641.5V539.8H643.5V541.5H645.5V540.5H647.5V539.8H649.5V540.4H651.5V541.4H653.5V541.6H655.5V540.6H657.5V535.1H659.5V530.1H661.5V525.1H663.5V523.3H665.5V523.9H667.5V523.3H669.5V522.6H671.5V522.2H673.5V522.3H675.5V522.2H677.5V521.4H679.5V520.6H681.5V520H683.5V520.2H687.5V519.9H689.5V519.5H691.5V519.6H693.5V519.7H695.5V519.4H697.5V519.5H701.5V518.9H703.5V518.6H705.5V518.2H707.5V517.9H709.5V517.8H711.5V517H713.5V516.7H715.5V516.4H717.5V517H719.5V516.3H721.5V516.6H723.5V516.4H725.5V516.6H727.5V515.8H729.5V516.5H733.5V516.4H735.5V516H737.5V516.7H739.5V516.6H741.5V516.4H743.5V516H745.5V516.5H747.5V516.7H749.5V517H751.5V516.9H753.5V517.2H755.5V517H757.5V517.2H759.5V517.9H761.5V517.6H765.5V516.6H767.5V516.9H769.5V517.3H773.5V517.6H775.5V517.3H777.5V516.8H779.5V517.3H781.5V516.5H783.5V517.2H785.5V516.6H787.5V516.4H789.5V516.3H791.5V515.7H793.5V515.8H795.5V515.9H797.5V515.6H799.5V516.3H801.5V515.7H803.5V516H805.5V516.2H807.5V515.9H809.5V516.5H811.5V516.3H813.5V515.7H815.5V516.3H817.5V515.8H819.5V516.2H823.5V516.5H825.5V515.8H827.5V515.7H829.5V516.3H831.5V516.8H833.5V517.2H835.5V517.7H837.5V517.1H839.5V517.2H841.5V517.6H843.5V518.6H845.5V518.2H847.5V517.7H849.5V518H851.5V517.1H855.5V517.6H857.5V517.8H859.5V516.9H861.5V517H865.5V516.8H867.5V517.2H869.5V517.1H871.5V516.5H873.5V516.9H875.5V516.6H879.5V516.4H883.5V516.5H885.5V515.1H887.5V515H889.5V515.4H891.5V515.2H893.5V515.4H895.5V516.3H899.5V516.5H901.5V517.3H903.5V517.4H905.5V518.3H907.5V518.4H909.5V518.3H911.5V517.6H913.5V516.5H915.5V515.6H917.5V515.5H919.5V514.6H921.5V515.1H923.5V514.3H925.5V514.7H929.5V515.1H931.5V515.9H933.5V516.3H935.5V516.2H937.5V516.4H939.5V516.5H941.5V517.3H943.5V517.1H945.5V517H947.5V516.8H949.5V516.5H951.5V516.8H953.5V517.3H955.5V517.7H957.5V517.5H961.5V517.6H963.5V517.8H965.5V518.3H967.5V518.4H973.5V517.9H975.5V517.7H977.5V517.2H979.5V516.7H981.5V516.5H985.5V517.4H987.5V517.2H989.5V516.9H991.5V517.3H995.5V517.5H997.5V517.9H999.5V518.1H1001.5V518.9H1003.5V518.7H1005.5V519.2H1007.5V519.6H1011.5V520H1013.5V519.9H1015.5V520.1H1017.5V520.3H1019.5V518.6H1021.5V518.7H1023.5V518.1H1025.5V517.9H1027.5V518.3H1029.5V518.4H1031.5V519H1033.5V518.8H1035.5V518.4H1037.5V519.8H1039.5V519.6H1041.5V519.9H1043.5V520.3H1045.5V519.8H1047.5V520.4H1049.5V520.3H1051.5V520.2H1053.5V520.6H1055.5V519.9H1057.5V519.3H1059.5V519.5H1061.5V519H1063.5V519.4H1065.5V518.9H1067.5V518.8H1069.5V519.1H1071.5V519.5H1073.5V520.1H1075.5V521H1077.5V520.7H1079.5V521.6H1081.5V521.4H1083.5V521.8H1085.5V521.6H1087.5V521.8H1089.5V521.4H1093.5V521.5H1095.5V521.8H1097.5V520.5H1099.5V520.7H1101.5V520.4H1103.5V521.6H1107.5V521.8H1111.5V521.7H1113.5V522.1H1115.5V523.4H1117.5V523.5H1119.5V523.8H1121.5V523.4H1123.5V523.2H1125.5V523.7H1127.5V523.4H1129.5V523.9H1131.5V524.4H1133.5V524.2H1135.5V524.3H1137.5V524.5H1139.5V524.9H1141.5V525.1H1143.5V526.3H1145.5V527.2H1147.5V527.4H1149.5V527.6H1151.5V528.4H1153.5V529.7H1155.5V531H1157.5V531.9H1159.5V532.9H1161.5V533.1H1163.5V533.5H1165.5V534H1167.5V534.5H1170.5V444.5Z" fill="#375a8c"/>
<path d="M163.5 444.5V480.1H165.5V480.3H167.5V480.1H169.5V479.1H171.5V478.3H173.5V478.7H175.5V477.3H177.5V478.1H179.5V480.2H181.5V479.2H183.5V479.1H187.5V481.2H189.5V481.3H191.5V480H193.5V481.5H195.5V482.4H197.5V482H199.5V482.4H201.5V481.8H203.5V481.3H205.5V480.8H207.5V482.1H209.5V483.6H211.5V483.2H213.5V482H215.5V481.4H217.5V480.8H219.5V481.4H221.5V482.2H223.5V480.8H225.5V480.2H227.5V479.4H229.5V479.7H231.5V480.3H233.5V480.8H235.5V481.2H237.5V481H239.5V480.9H241.5V481.2H243.5V481.4H245.5V481.3H247.5V480.2H249.5V480.5H253.5V480.7H255.5V480.5H257.5V480.4H259.5V480.8H261.5V480.7H263.5V480.5H265.5V480.7H267.5V481.4H269.5V480.7H271.5V480.1H273.5V480.5H275.5V480.8H277.5V481H279.5V481.4H281.5V482.3H283.5V483.3H285.5V483.9H287.5V484.2H289.5V484.5H291.5V484H293.5V483.5H295.5V483.4H297.5V483.7H299.5V482.8H301.5V482.5H303.5V481.6H305.5V482.6H307.5V483.7H309.5V484.6H311.5V485.2H313.5V485H315.5V484.6H317.5V485.1H319.5V485H321.5V484.8H323.5V484.6H325.5V483.8H327.5V483.2H329.5V484.2H331.5V484.9H333.5V485.4H337.5V485.8H341.5V486.2H343.5V486.4H345.5V486.7H347.5V486.5H351.5V485.8H353.5V486.1H355.5V486.5H357.5V486.9H359.5V486.4H361.5V486.7H363.5V487.3H365.5V487H367.5V486.6H369.5V487H371.5V487.5H373.5V488.3H375.5V488.8H377.5V489.5H379.5V489.2H381.5V490.3H383.5V491H385.5V492.4H387.5V493.5H391.5V493.8H393.5V494.1H395.5V495.4H397.5V496.7H399.5V495.1H401.5V495.5H403.5V496.1H405.5V497.3H407.5V498.8H409.5V500.8H411.5V502.1H413.5V502.9H415.5V504H417.5V505.5H419.5V506.6H421.5V506.9H423.5V506.2H425.5V506.3H427.5V505.5H429.5V504.7H431.5V504.2H433.5V503.8H435.5V504.8H437.5V504.4H439.5V504.5H441.5V504H443.5V503.8H445.5V503H447.5V503.1H449.5V503.7H451.5V504H455.5V504.5H457.5V505.2H459.5V505.8H461.5V506.6H463.5V506.9H465.5V507.1H469.5V506.9H471.5V507.2H473.5V507.8H475.5V506.6H477.5V507.3H479.5V506.9H481.5V506.8H483.5V507.2H485.5V506.9H487.5V508.2H489.5V507.9H491.5V508.5H493.5V509.1H495.5V510.3H497.5V510.9H499.5V512.3H501.5V513H503.5V514.1H505.5V514.3H507.5V515.8H509.5V515H511.5V514.8H513.5V512.7H515.5V512.5H517.5V512.8H521.5V512.3H523.5V511.4H525.5V510.2H527.5V510.3H529.5V511.1H531.5V511.5H533.5V512H535.5V510.9H537.5V510.6H539.5V510.2H543.5V510H545.5V509.5H547.5V509.2H549.5V509.5H551.5V510.4H553.5V510.9H555.5V510.6H559.5V510.2H561.5V509.5H563.5V509.9H565.5V510.2H567.5V510H569.5V508.7H571.5V508.3H573.5V508.6H575.5V509H577.5V509.8H579.5V511.2H581.5V511H583.5V511.2H585.5V511.7H587.5V511.9H589.5V512.8H591.5V512.7H593.5V511.8H595.5V511.9H597.5V511.1H599.5V511H601.5V510H603.5V510.6H605.5V510.3H607.5V508.8H609.5V509.3H611.5V511H613.5V511.6H615.5V511.8H617.5V512.3H619.5V513.1H623.5V513.2H625.5V513.7H629.5V513.2H631.5V512.3H633.5V513.2H635.5V514H637.5V516.1H639.5V523.2H641.5V530.7H643.5V533.4H645.5V532.9H647.5V531.9H649.5V532.9H651.5V533.8H653.5V534.6H655.5V533.1H657.5V526.8H659.5V521.2H661.5V515.6H663.5V514.2H665.5V515.1H667.5V514.3H669.5V513.8H671.5V512.2H673.5V512H675.5V511.8H677.5V510.7H679.5V508.8H681.5V508.1H683.5V507.8H685.5V508H687.5V507.3H689.5V507.8H691.5V508.1H693.5V508.4H695.5V508.1H697.5V509.1H699.5V509.2H701.5V508.4H703.5V507.6H707.5V506.8H709.5V507.4H711.5V506.7H713.5V506.9H715.5V506.5H717.5V507.5H719.5V507.4H721.5V508H723.5V507.7H725.5V508H727.5V506.9H729.5V507.5H731.5V506.9H733.5V507.1H735.5V507H737.5V507.2H739.5V507.1H743.5V505.8H749.5V506.3H751.5V505.3H753.5V504.6H755.5V504.9H757.5V505.5H759.5V506.4H761.5V507.6H763.5V507.8H765.5V506.3H767.5V507.1H769.5V508.1H771.5V508.5H773.5V509H775.5V508.3H777.5V507.8H779.5V507.5H781.5V506.2H783.5V507H785.5V506.5H787.5V505.9H789.5V505.7H791.5V505.2H793.5V505.6H795.5V505.2H797.5V504.8H799.5V506.2H801.5V506.6H803.5V506.4H805.5V506.7H807.5V506.2H809.5V506.1H811.5V505.6H813.5V505H815.5V506.2H817.5V505.1H819.5V504.6H821.5V504.5H823.5V504.8H825.5V504.2H827.5V504.8H829.5V505.4H831.5V506.8H833.5V507H835.5V507.3H837.5V505.9H839.5V506.2H841.5V506.8H843.5V508.1H845.5V507.3H847.5V506.9H849.5V506.6H851.5V505.1H855.5V506.4H857.5V507H859.5V506H861.5V506.2H863.5V506.5H865.5V505.7H867.5V506.6H869.5V507H871.5V507.7H873.5V508.8H875.5V507.8H877.5V507.5H879.5V507.2H883.5V507.4H885.5V505.8H887.5V506H889.5V506.2H891.5V505.2H893.5V505.8H895.5V507.2H897.5V507.3H899.5V508H901.5V509.2H903.5V509H905.5V509.8H907.5V509.5H911.5V508.7H913.5V507H915.5V505.9H917.5V505.1H919.5V503.9H921.5V504.3H923.5V503.4H925.5V503.6H927.5V503.5H929.5V503.9H931.5V505.4H933.5V505.8H935.5V506.1H937.5V506.2H939.5V506.7H941.5V507.1H943.5V506.9H945.5V506.8H947.5V506.3H949.5V505.5H953.5V505.7H955.5V506.7H957.5V505.9H959.5V506.1H961.5V505.8H963.5V506.3H965.5V506.5H967.5V506H969.5V506.7H971.5V506.4H973.5V505.3H975.5V505H977.5V504.4H979.5V504.1H981.5V503.7H983.5V504.2H985.5V505.7H987.5V505H989.5V505.5H991.5V506.7H993.5V507.4H995.5V506.8H997.5V507.8H999.5V508.3H1001.5V509.3H1005.5V509.9H1007.5V510.1H1009.5V509.1H1011.5V509.5H1013.5V510.2H1015.5V510.7H1017.5V510.8H1019.5V508.1H1021.5V508.2H1023.5V507.4H1025.5V507H1027.5V507.3H1029.5V507.4H1031.5V508H1033.5V507.2H1035.5V506.5H1037.5V508.8H1039.5V508.4H1041.5V508.9H1043.5V509H1047.5V509.9H1049.5V509.7H1051.5V509.9H1053.5V510.6H1055.5V509.5H1057.5V508.8H1059.5V509H1061.5V508.8H1063.5V509.8H1065.5V509.2H1067.5V508.6H1069.5V508.7H1071.5V509H1073.5V510H1075.5V510.9H1077.5V510.2H1079.5V510.7H1081.5V509.7H1083.5V509.8H1085.5V509.6H1087.5V509.8H1089.5V509.1H1091.5V509.2H1093.5V509.9H1095.5V511.2H1097.5V510.1H1101.5V509.7H1103.5V511.2H1105.5V511.3H1107.5V512.2H1109.5V512.1H1111.5V511.9H1113.5V512H1115.5V513.8H1117.5V514.5H1119.5V515.4H1121.5V514.5H1123.5V514H1127.5V513.6H1129.5V513.7H1131.5V514.3H1133.5V513.6H1135.5V513.7H1139.5V515.1H1141.5V516.3H1143.5V517.6H1145.5V519.1H1147.5V520H1149.5V520.6H1151.5V521.6H1153.5V522.7H1155.5V524.6H1157.5V525.3H1159.5V526.7H1161.5V527.7H1163.5V528.7H1165.5V529.7H1167.5V530.5H1170.5V444.5Z" fill="#34618d"/>
<path d="M163.5 444.5V472.1H165.5V475.1H167.5V474.9H169.5V472H171.5V472.4H173.5V472.8H175.5V474.2H177.5V472.7H179.5V474.4H181.5V469.5H183.5V475.1H185.5V473.1H187.5V473.7H189.5V473.5H191.5V471.5H193.5V474.1H195.5V472.9H197.5V472.1H199.5V473.3H201.5V476.1H203.5V473.6H205.5V470.3H207.5V471.3H209.5V470.2H211.5V469.2H213.5V470.5H215.5V470.8H217.5V470.4H219.5V470H221.5V471.2H223.5V471.1H225.5V469.4H227.5V469.2H229.5V470.8H231.5V471.8H233.5V471.3H235.5V471.5H237.5V471.4H239.5V469.9H241.5V469.5H243.5V470.6H245.5V470.8H247.5V472.1H249.5V470.8H251.5V470.9H253.5V470.3H255.5V469.5H257.5V470.9H259.5V471.6H261.5V470.5H263.5V472.2H265.5V471.5H267.5V471H271.5V471.6H273.5V469.9H275.5V471.6H277.5V470.8H279.5V468.6H281.5V470.5H283.5V470.6H285.5V471.3H287.5V470.2H289.5V470.6H291.5V470.9H293.5V470.2H295.5V471.3H297.5V471.5H299.5V471.7H301.5V471.4H303.5V471.6H305.5V471.5H307.5V471H309.5V471.5H311.5V472.5H313.5V472.6H315.5V471.2H317.5V472.7H319.5V472.2H321.5V471.8H323.5V471.6H325.5V473.1H327.5V471.6H329.5V472.3H331.5V473.4H333.5V471.2H335.5V472.7H337.5V471.6H339.5V472.3H341.5V473.2H343.5V474.7H345.5V473.1H347.5V473.9H349.5V474H351.5V474.4H353.5V473.7H355.5V473.6H357.5V474.1H359.5V473.7H361.5V473.3H363.5V473.2H365.5V474.1H367.5V474.3H371.5V474.5H373.5V473.5H375.5V474.4H377.5V475.6H379.5V474.7H381.5V474.4H383.5V476.4H385.5V476.6H387.5V478.1H389.5V476.1H391.5V475.1H393.5V474.7H395.5V476.9H397.5V478.5H399.5V475.4H401.5V475.8H403.5V476.4H405.5V476.7H407.5V477.3H409.5V478.2H411.5V478.5H413.5V479.8H415.5V479.2H417.5V480.3H419.5V479.6H421.5V480.5H423.5V479.1H425.5V479.5H427.5V480.3H429.5V479.1H431.5V479.8H433.5V479.5H435.5V480.2H437.5V479.7H439.5V479.9H443.5V479.4H445.5V479.1H449.5V478.7H451.5V478.6H453.5V478.3H455.5V479H457.5V479.8H459.5V479.6H461.5V480.9H463.5V480.6H465.5V480.5H467.5V479.7H469.5V479.4H471.5V479.9H473.5V481.4H475.5V480.5H477.5V480.9H479.5V481.3H481.5V480.2H483.5V481H485.5V480.5H487.5V480.9H489.5V480.7H491.5V481.2H493.5V481H495.5V481.1H497.5V481.7H499.5V482.1H501.5V482.4H503.5V482.5H505.5V482.8H507.5V483.5H509.5V482.9H511.5V483.4H513.5V482.4H515.5V482.5H517.5V482.6H519.5V482.4H521.5V482.6H527.5V481.5H529.5V482.4H531.5V481.8H533.5V482.1H535.5V482.3H539.5V482.6H541.5V482H543.5V481.7H545.5V481.8H547.5V482.7H549.5V482.3H551.5V482H553.5V482.9H555.5V482.4H557.5V483.8H559.5V482.2H561.5V482.8H565.5V481.8H567.5V482.3H569.5V482.4H571.5V482H573.5V482.2H575.5V482.6H577.5V482.4H579.5V482.8H581.5V483H583.5V483.4H585.5V482.9H587.5V483.9H589.5V483.7H591.5V483.9H593.5V484.1H595.5V484.9H597.5V483.7H599.5V482.8H601.5V483.1H603.5V483.2H605.5V483.1H607.5V482.8H609.5V481.9H611.5V483.2H613.5V482.9H615.5V482.8H617.5V482.6H619.5V482.4H621.5V482.9H623.5V483.9H625.5V484.1H627.5V483H631.5V482.4H633.5V482.8H635.5V488H637.5V493.8H639.5V497.8H641.5V500.9H643.5V497.8H645.5V496.1H647.5V497.7H649.5V504H651.5V506.3H653.5V504.3H655.5V506.2H657.5V507.8H659.5V501.9H661.5V503.6H663.5V502.4H665.5V501.7H667.5V502.3H669.5V496.9H671.5V501.3H673.5V503.4H675.5V501.7H677.5V497.5H679.5V501.2H681.5V503.3H683.5V498.8H685.5V494.4H687.5V498.7H689.5V494.3H691.5V498H693.5V497.5H695.5V493.3H697.5V496.9H699.5V494.8H701.5V493H703.5V494.8H705.5V493.1H707.5V491H709.5V491.2H711.5V491.7H713.5V492.1H715.5V491.7H717.5V492.6H719.5V493.1H721.5V492.5H723.5V494.6H725.5V493.7H727.5V493.8H729.5V493.7H731.5V492.8H733.5V493.2H735.5V494.2H737.5V492.1H739.5V492.5H741.5V493.6H743.5V492.5H745.5V492.7H747.5V492.5H749.5V493.3H751.5V491H753.5V492.5H755.5V492.3H757.5V492.5H759.5V495.1H761.5V494.3H763.5V494.4H765.5V491.3H767.5V493.2H769.5V495.8H771.5V491.6H773.5V492.8H775.5V492.4H777.5V493.6H779.5V492.1H781.5V492.6H783.5V493.8H785.5V493.1H787.5V494.4H789.5V493H793.5V494.6H795.5V490.2H797.5V491.3H799.5V494H801.5V494.2H803.5V494.5H805.5V493.9H807.5V493.2H809.5V493.4H811.5V495.4H813.5V493.8H815.5V490.2H817.5V491.9H819.5V490.9H821.5V492.5H823.5V492.2H825.5V493.5H827.5V492.2H829.5V492.6H831.5V491.9H833.5V491.5H835.5V491.3H837.5V491.1H839.5V489.8H841.5V488.6H843.5V490.4H845.5V488.9H847.5V488H849.5V486.9H851.5V486H853.5V486.2H855.5V484.9H857.5V487.6H859.5V486.6H861.5V485.6H863.5V486.8H865.5V486.1H867.5V486.6H869.5V485.4H871.5V486.7H873.5V487.9H875.5V488.1H877.5V489.1H879.5V488.9H881.5V487H883.5V485.9H885.5V486.9H889.5V487.3H891.5V486.4H895.5V486H897.5V487.1H899.5V487.7H901.5V489.8H903.5V491.3H905.5V491.8H907.5V493.6H909.5V493.4H911.5V494H913.5V493.4H915.5V491.2H917.5V490.8H919.5V491.7H921.5V490.9H923.5V491.1H925.5V490.8H927.5V489.8H929.5V490.9H931.5V492.9H933.5V493.3H935.5V493.8H937.5V491.4H939.5V491.3H941.5V491.1H943.5V493H945.5V490.7H947.5V494.3H949.5V492.7H951.5V494.1H953.5V493.1H955.5V495.2H959.5V494.6H961.5V494.3H963.5V494.1H965.5V492.1H967.5V492.6H969.5V492.5H971.5V491.8H973.5V493H975.5V492.7H977.5V493H979.5V492.6H981.5V491.4H983.5V494.3H985.5V493.1H987.5V493.8H989.5V492.5H991.5V493H993.5V492.5H995.5V491.8H997.5V492.8H999.5V492.5H1003.5V493.7H1005.5V491.7H1007.5V492.6H1009.5V491.5H1011.5V492.2H1013.5V493.8H1015.5V494.3H1017.5V493.5H1019.5V495.6H1021.5V496.2H1023.5V492H1025.5V494.6H1027.5V492.1H1029.5V492.7H1031.5V493.3H1033.5V492.3H1035.5V494.9H1037.5V495.2H1039.5V494.4H1041.5V495H1043.5V493.8H1045.5V494H1047.5V494.8H1049.5V492.3H1051.5V493.8H1053.5V494.8H1055.5V495H1057.5V496.1H1059.5V495H1063.5V495.8H1065.5V494.8H1067.5V494.6H1069.5V496.1H1071.5V497.1H1073.5V496.1H1075.5V495.8H1077.5V496.4H1079.5V493.8H1081.5V496.1H1083.5V493.9H1085.5V497.5H1087.5V495.3H1089.5V494.8H1091.5V493.7H1093.5V493.1H1095.5V497.4H1097.5V499.1H1099.5V496.3H1101.5V498.1H1103.5V499.2H1105.5V495.6H1107.5V499.4H1109.5V499.8H1111.5V499.7H1115.5V501.2H1117.5V496.7H1119.5V498.9H1121.5V502H1123.5V500.1H1125.5V505.3H1127.5V500.9H1129.5V495.6H1131.5V499H1133.5V499.1H1135.5V503.5H1137.5V502.1H1139.5V507H1141.5V504.3H1143.5V506H1145.5V505.7H1147.5V507.7H1149.5V511.2H1151.5V511.8H1153.5V511.2H1155.5V510.9H1157.5V512.9H1161.5V512H1163.5V514.7H1165.5V513.3H1170.5V444.5Z" fill="#31678e"/>
<path d="M163.5 444.5V464.6H165.5V469H167.5V468.7H169.5V464.9H171.5V465.9H173.5V466.3H175.5V469.2H177.5V466.5H179.5V468H181.5V461.2H183.5V469.5H185.5V466.5H189.5V466.1H191.5V463.8H193.5V466.8H195.5V464.7H197.5V463.7H199.5V465.3H201.5V469.7H203.5V466.3H205.5V461.5H207.5V462.4H209.5V460H211.5V458.7H213.5V461.2H215.5V462.1H217.5V461.6H219.5V460.9H221.5V462.2H223.5V462.7H225.5V460.5H227.5V460.6H229.5V462.8H231.5V464.1H233.5V463.1H235.5V463.2H237.5V463.1H239.5V461H241.5V460.2H243.5V461.7H245.5V462H247.5V464.5H249.5V462.4H251.5V462.6H253.5V461.6H255.5V460.5H257.5V462.6H259.5V463.4H261.5V461.9H263.5V464.6H265.5V463.3H267.5V462.3H269.5V462.6H271.5V463.9H273.5V461.1H275.5V463.5H277.5V462.3H279.5V458.7H281.5V461.1H283.5V460.7H285.5V461.6H287.5V459.8H289.5V460.2H291.5V460.9H293.5V460H295.5V461.7H297.5V461.9H299.5V462.7H301.5V462.3H303.5V463.1H305.5V462.4H307.5V461.2H309.5V461.4H311.5V462.7H313.5V462.9H315.5V460.9H317.5V463H319.5V462.3H321.5V461.7H323.5V461.5H325.5V464.2H327.5V462.3H329.5V462.8H331.5V464.2H333.5V460.6H335.5V462.8H337.5V461H339.5V462.1H341.5V463.2H343.5V465.4H345.5V462.7H347.5V464H349.5V464.3H351.5V465.2H353.5V464.1H355.5V463.6H357.5V464.2H359.5V463.9H361.5V463.2H363.5V462.6H365.5V464.1H367.5V464.7H369.5V464.5H371.5V464.4H373.5V462.7H375.5V463.7H377.5V465.2H379.5V464H381.5V463H383.5V465.6H385.5V465.3H387.5V466.9H389.5V463.9H391.5V462.2H393.5V461.5H395.5V464.1H397.5V465.9H399.5V462.1H401.5V462.5H403.5V463H405.5V462.9H407.5V463H409.5V463.4H411.5V463.2H413.5V464.7H415.5V463.4H417.5V464.2H419.5V462.5H421.5V463.9H423.5V462.1H425.5V462.6H427.5V464.2H429.5V462.8H431.5V464.1H433.5V463.9H435.5V464.4H437.5V463.8H439.5V464.1H441.5V464.3H443.5V463.7H445.5V463.6H449.5V462.6H451.5V462.4H453.5V462H455.5V462.8H457.5V463.6H459.5V463.1H461.5V464.6H463.5V464H465.5V463.7H467.5V462.5H469.5V462.1H471.5V462.8H473.5V464.7H475.5V464H477.5V464.2H479.5V465H481.5V463.4H483.5V464.4H485.5V463.8H487.5V463.7H491.5V464H493.5V463.5H495.5V463H497.5V463.6H499.5V463.5H501.5V463.6H503.5V463.3H505.5V463.5H507.5V463.9H509.5V463.4H511.5V464.1H513.5V463.7H515.5V464H517.5V463.9H519.5V463.8H521.5V464.3H523.5V464.6H525.5V465.3H527.5V463.6H529.5V464.5H531.5V463.4H533.5V463.6H535.5V464.4H537.5V464.6H539.5V465.3H541.5V464.5H543.5V464.1H545.5V464.5H547.5V466H549.5V465.2H551.5V464.3H553.5V465.5H555.5V464.8H557.5V466.9H559.5V464.7H561.5V465.9H563.5V465.7H565.5V464.1H567.5V465H569.5V465.7H571.5V465.3H573.5V465.4H575.5V465.9H577.5V465.1H579.5V465.2H581.5V465.5H583.5V466H585.5V465H587.5V466.5H589.5V465.7H591.5V466H593.5V466.8H595.5V467.9H597.5V466.5H599.5V465.3H601.5V466.2H603.5V466.1H605.5V466H607.5V466.2H609.5V464.7H611.5V465.8H613.5V465H615.5V464.7H617.5V464.3H619.5V463.6H621.5V464.4H623.5V465.8H627.5V464.1H629.5V464.4H631.5V463.9H633.5V464H635.5V471.5H637.5V479.2H639.5V481.6H641.5V482.5H643.5V476.5H645.5V474.3H647.5V477.1H649.5V486.1H651.5V489H653.5V485.7H655.5V489.3H657.5V494.8H659.5V488.8H661.5V494.2H663.5V492.9H665.5V491.5H667.5V492.8H669.5V484.9H671.5V492.4H673.5V495.5H675.5V493.2H677.5V487.4H679.5V493.8H681.5V497.4H683.5V490.8H685.5V484H687.5V491H689.5V484H691.5V489.4H693.5V488.6H695.5V482.5H697.5V487.4H699.5V484.1H701.5V481.7H703.5V484.9H705.5V482.3H707.5V479.5H709.5V479.6H711.5V480.7H713.5V481.2H715.5V480.8H717.5V481.6H719.5V482.5H721.5V481.2H723.5V484.6H725.5V483H727.5V483.7H729.5V483.2H731.5V482.2H733.5V482.8H735.5V484.3H737.5V481.1H739.5V481.7H741.5V483.4H743.5V482.3H745.5V482.7H747.5V482.3H749.5V483.3H751.5V480.3H753.5V482.9H755.5V482.5H757.5V482.4H759.5V485.9H761.5V484.2H765.5V480.3H767.5V482.8H769.5V486.2H771.5V479.6H773.5V481.3H775.5V481H777.5V483H779.5V481H781.5V482.3H783.5V483.7H785.5V482.9H787.5V485.1H789.5V483.1H791.5V483.3H793.5V485.6H795.5V479.2H797.5V481H799.5V484.4H801.5V484.5H803.5V485H805.5V484H807.5V483.1H809.5V483.6H811.5V486.8H813.5V484.7H815.5V478.7H817.5V481.8H819.5V480.5H821.5V483H823.5V482.4H825.5V484.7H827.5V482.4H829.5V482.8H831.5V481H833.5V480.3H835.5V479.8H837.5V480.1H839.5V478.1H841.5V476H843.5V478H845.5V476.2H847.5V475.1H849.5V473.5H851.5V472.9H853.5V473.2H855.5V470.7H857.5V474.5H859.5V473.3H861.5V471.8H863.5V473.4H865.5V472.8H867.5V473.1H869.5V471H871.5V472.7H873.5V474H875.5V474.8H877.5V476.4H879.5V476.3H881.5V473.4H883.5V471.6H885.5V474H887.5V473.8H889.5V474.4H891.5V473.5H893.5V473.2H895.5V471.8H897.5V473.5H899.5V474.1H901.5V476.5H903.5V479H905.5V479.3H907.5V482.2H909.5V481.9H911.5V483.1H913.5V483H915.5V480.4H917.5V480.2H919.5V482.1H921.5V480.7H923.5V481.5H925.5V480.9H927.5V479.4H929.5V480.8H931.5V483.1H933.5V483.5H935.5V484.1H937.5V480.6H939.5V480.1H941.5V479.7H943.5V482.5H945.5V479.1H947.5V484.7H949.5V482.8H951.5V485H953.5V483.4H955.5V486H957.5V486.4H959.5V485.3H961.5V485H963.5V484.4H965.5V481.4H967.5V482.4H969.5V482H971.5V481H973.5V483.3H975.5V483H977.5V483.8H979.5V483.4H981.5V481.8H983.5V485.9H985.5V483.3H987.5V484.6H989.5V482.6H993.5V481.5H995.5V480.8H997.5V481.8H999.5V481.1H1001.5V480.6H1003.5V482.5H1005.5V479H1007.5V480.3H1009.5V479.2H1011.5V480.1H1013.5V482.1H1015.5V482.5H1017.5V481.3H1019.5V485.8H1021.5V486.7H1023.5V480.8H1025.5V485H1027.5V481H1029.5V481.8H1031.5V482.5H1033.5V481.3H1035.5V485.6H1037.5V484.9H1039.5V483.9H1041.5V484.5H1043.5V482.7H1045.5V483H1047.5V483.8H1049.5V480.1H1051.5V482.3H1053.5V483.4H1055.5V484.3H1057.5V486.2H1059.5V484.5H1063.5V485.4H1065.5V484.1H1067.5V484H1069.5V486.3H1071.5V487.6H1073.5V485.7H1075.5V484.7H1077.5V486H1079.5V481.9H1081.5V485.8H1083.5V482.4H1085.5V488H1087.5V484.5H1089.5V484.2H1091.5V482.5H1093.5V481.2H1095.5V486.9H1097.5V490H1099.5V485.9H1101.5V488.7H1103.5V489.6H1105.5V484.2H1107.5V489.5H1109.5V490.1H1113.5V490H1115.5V491.5H1117.5V484.3H1119.5V487.2H1121.5V492.2H1123.5V489.6H1125.5V497.5H1127.5V491.1H1129.5V483.1H1131.5V487.9H1133.5V488.3H1135.5V495H1137.5V492.8H1139.5V499.4H1141.5V494.8H1143.5V496.7H1145.5V495.4H1147.5V498.1H1149.5V503.1H1151.5V503.4H1153.5V502H1155.5V500.6H1157.5V503.2H1159.5V502.4H1161.5V500.7H1163.5V504.2H1165.5V501.6H1167.5V501.3H1170.5V444.5Z" fill="#2e6d8e"/>
<path d="M163.5 444.5V460.6H165.5V464.8H167.5V464.4H169.5V460.8H171.5V461.8H173.5V462.2H175.5V464.9H177.5V462.5H179.5V463.9H181.5V457.4H183.5V465.4H185.5V462.5H187.5V462.4H189.5V462H191.5V459.9H193.5V462.9H195.5V460.8H197.5V459.8H199.5V461.3H201.5V465.4H203.5V462.1H205.5V457.6H207.5V458.5H209.5V456.1H211.5V454.9H213.5V457.3H215.5V458.1H217.5V457.6H219.5V456.8H221.5V458.1H223.5V458.6H225.5V456.4H227.5V456.7H229.5V458.7H231.5V460H233.5V459.1H239.5V457H241.5V456.3H243.5V457.8H245.5V458.1H247.5V460.5H249.5V458.5H251.5V458.7H253.5V457.8H255.5V456.7H257.5V458.6H259.5V459.5H261.5V458H263.5V460.4H265.5V459.3H267.5V458.4H269.5V458.6H271.5V459.9H273.5V457.2H275.5V459.4H277.5V458.3H279.5V454.9H281.5V457.2H283.5V457H285.5V457.8H287.5V456.1H289.5V456.5H291.5V457.3H293.5V456.4H295.5V458H297.5V458.2H299.5V459H301.5V458.6H303.5V459.4H305.5V458.7H307.5V457.6H309.5V457.8H311.5V459H313.5V459.1H315.5V457.3H317.5V459.3H319.5V458.6H321.5V458.1H323.5V457.9H325.5V460.5H327.5V458.7H329.5V459.2H331.5V460.5H333.5V457H335.5V459.2H337.5V457.4H339.5V458.4H341.5V459.5H343.5V461.7H345.5V459.1H347.5V460.3H349.5V460.6H351.5V461.5H353.5V460.4H355.5V460H357.5V460.5H359.5V460.2H361.5V459.5H363.5V459H365.5V460.4H367.5V461H369.5V460.8H373.5V459H375.5V460.1H377.5V461.5H379.5V460.3H381.5V459.4H383.5V461.9H385.5V461.6H387.5V463.2H389.5V460.2H391.5V458.6H393.5V457.9H395.5V460.4H397.5V462.2H399.5V458.4H401.5V458.9H403.5V459.4H405.5V459.2H407.5V459.4H409.5V459.7H411.5V459.5H413.5V461H415.5V459.7H417.5V460.5H419.5V458.9H421.5V460.2H423.5V458.4H425.5V458.9H427.5V460.5H429.5V459.2H431.5V460.3H433.5V460.2H435.5V460.7H437.5V460.1H439.5V460.4H441.5V460.5H443.5V460H445.5V459.9H449.5V459H451.5V458.8H453.5V458.3H455.5V459.1H457.5V459.9H459.5V459.4H461.5V460.8H463.5V460.3H465.5V460H467.5V458.8H469.5V458.5H471.5V459.1H473.5V460.9H475.5V460.3H477.5V460.5H479.5V461.3H481.5V459.7H483.5V460.6H485.5V460.1H487.5V460H489.5V459.9H491.5V460.2H493.5V459.7H495.5V459.3H497.5V459.9H499.5V459.7H501.5V459.8H503.5V459.5H505.5V459.8H507.5V460.1H509.5V459.6H511.5V460.3H513.5V460H515.5V460.2H517.5V460.1H519.5V460H521.5V460.5H523.5V460.8H525.5V461.5H527.5V459.8H529.5V460.7H531.5V459.6H533.5V459.9H535.5V460.7H537.5V460.8H539.5V461.4H541.5V460.7H543.5V460.3H545.5V460.6H547.5V462.1H549.5V461.4H551.5V460.5H553.5V461.6H555.5V461H557.5V463H559.5V460.9H561.5V462.1H563.5V461.9H565.5V460.3H567.5V461.2H569.5V461.8H571.5V461.5H573.5V461.6H575.5V462H577.5V461.3H581.5V461.6H583.5V462.1H585.5V461.2H587.5V462.6H589.5V461.8H591.5V462.1H593.5V462.9H595.5V463.9H597.5V462.6H599.5V461.4H601.5V462.3H603.5V462.2H607.5V462.3H609.5V460.8H611.5V461.9H613.5V461.1H615.5V460.9H617.5V460.4H619.5V459.8H621.5V460.5H623.5V461.9H627.5V460.3H629.5V460.5H631.5V460H633.5V460.2H635.5V467.6H637.5V475.1H639.5V477.6H641.5V478.2H643.5V472H645.5V469.9H647.5V472.6H649.5V481.1H651.5V483.9H653.5V480.8H655.5V484.1H657.5V489.4H659.5V483.7H661.5V488.8H663.5V487.5H665.5V486.2H667.5V487.5H669.5V480.1H671.5V487.1H673.5V490.1H675.5V487.9H677.5V482.5H679.5V488.5H681.5V491.9H683.5V485.8H685.5V479.4H687.5V485.9H689.5V479.4H691.5V484.6H693.5V483.7H695.5V477.9H697.5V482.6H699.5V479.5H701.5V477.3H703.5V480.3H705.5V477.9H707.5V475.3H709.5V475.4H711.5V476.4H713.5V476.9H715.5V476.5H717.5V477.3H719.5V478.1H721.5V476.9H723.5V480.2H725.5V478.6H727.5V479.3H729.5V478.8H731.5V477.9H733.5V478.5H735.5V479.8H737.5V476.8H739.5V477.4H741.5V479H743.5V478H745.5V478.3H747.5V478H749.5V478.9H751.5V476.1H753.5V478.5H755.5V478.2H759.5V481.5H761.5V479.9H765.5V476.2H767.5V478.5H769.5V481.7H771.5V475.5H773.5V477.1H775.5V476.8H777.5V478.7H779.5V476.8H781.5V478.1H783.5V479.4H785.5V478.7H787.5V480.8H789.5V478.9H791.5V479.1H793.5V481.2H795.5V475.1H797.5V476.9H799.5V480.1H801.5V480.3H803.5V480.7H805.5V479.7H807.5V478.9H809.5V479.4H811.5V482.5H813.5V480.4H815.5V474.7H817.5V477.7H819.5V476.4H821.5V478.8H823.5V478.2H825.5V480.5H827.5V478.2H829.5V478.5H831.5V476.8H833.5V476.1H835.5V475.6H837.5V475.9H839.5V474H841.5V472H843.5V473.9H845.5V472.1H847.5V471H849.5V469.5H851.5V469H853.5V469.3H855.5V466.9H857.5V470.5H859.5V469.4H861.5V467.9H863.5V469.5H865.5V468.9H867.5V469.2H869.5V467.2H871.5V468.8H873.5V470H875.5V470.9H877.5V472.4H879.5V472.2H881.5V469.5H883.5V467.7H885.5V470H887.5V469.9H889.5V470.4H891.5V469.6H893.5V469.3H895.5V468H897.5V469.5H899.5V470.1H901.5V472.5H903.5V474.9H905.5V475.2H907.5V478H909.5V477.7H911.5V478.9H913.5V478.8H915.5V476.3H917.5V476.1H919.5V477.9H921.5V476.5H923.5V477.3H925.5V476.7H927.5V475.3H929.5V476.7H931.5V478.9H933.5V479.3H935.5V479.9H937.5V476.5H939.5V476H941.5V475.6H943.5V478.3H945.5V475.1H947.5V480.5H949.5V478.6H951.5V480.7H953.5V479.2H955.5V481.7H957.5V482.1H959.5V481.1H961.5V480.8H963.5V480.2H965.5V477.3H967.5V478.2H969.5V477.9H971.5V476.9H973.5V479.1H975.5V478.8H977.5V479.7H979.5V479.2H981.5V477.6H983.5V481.6H985.5V479.2H987.5V480.4H989.5V478.4H991.5V478.5H993.5V477.4H995.5V476.8H997.5V477.8H999.5V477.1H1001.5V476.6H1003.5V478.3H1005.5V475H1007.5V476.3H1009.5V475.2H1011.5V476.1H1013.5V478H1015.5V478.5H1017.5V477.3H1019.5V481.6H1021.5V482.5H1023.5V476.8H1025.5V480.8H1027.5V477H1029.5V477.8H1031.5V478.4H1033.5V477.2H1035.5V481.4H1037.5V480.7H1039.5V479.8H1041.5V480.3H1043.5V478.6H1045.5V478.8H1047.5V479.6H1049.5V476.1H1051.5V478.2H1053.5V479.3H1055.5V480.2H1057.5V482H1059.5V480.3H1063.5V481.1H1065.5V479.9H1069.5V482H1071.5V483.3H1073.5V481.4H1075.5V480.5H1077.5V481.7H1079.5V477.7H1081.5V481.5H1083.5V478.2H1085.5V483.6H1087.5V480.2H1089.5V479.9H1091.5V478.3H1093.5V477H1095.5V482.5H1097.5V485.5H1099.5V481.5H1101.5V484.2H1103.5V485.1H1105.5V479.8H1107.5V484.8H1109.5V485.4H1111.5V485.5H1113.5V485.4H1115.5V486.7H1117.5V479.9H1119.5V482.6H1121.5V487.4H1123.5V484.9H1125.5V492.3H1127.5V486.3H1129.5V478.7H1131.5V483.3H1133.5V483.7H1135.5V489.9H1137.5V487.9H1139.5V494.1H1141.5V489.8H1143.5V491.7H1145.5V490.3H1147.5V492.8H1149.5V497.4H1151.5V497.6H1153.5V496.5H1155.5V495.2H1157.5V497.5H1159.5V496.6H1161.5V495.2H1163.5V498.5H1165.5V495.9H1167.5V495.5H1170.5V444.5Z" fill="#2c728e"/>
<path d="M163.5 444.5V459.6H165.5V463.3H167.5V462.9H169.5V459.6H171.5V460.6H173.5V461H175.5V463.3H177.5V461.4H179.5V462.7H181.5V456.9H183.5V464.1H185.5V461.4H187.5V461.3H189.5V460.8H191.5V459.2H193.5V462H195.5V459.9H197.5V459H199.5V460.4H201.5V463.9H203.5V460.6H205.5V456.8H207.5V457.7H209.5V455.5H211.5V454.3H213.5V456.4H215.5V457.1H217.5V456.5H219.5V455.5H221.5V456.9H223.5V457.3H225.5V455.2H227.5V455.7H229.5V457.4H231.5V458.7H233.5V458H237.5V457.9H239.5V456H241.5V455.6H243.5V457.1H245.5V457.2H247.5V459.3H249.5V457.6H251.5V457.8H253.5V457.1H255.5V456.1H257.5V457.7H259.5V458.5H261.5V457.2H263.5V459H265.5V458.2H267.5V457.6H269.5V457.7H271.5V458.8H273.5V456.4H275.5V458.3H277.5V457.3H279.5V454.3H281.5V456.5H283.5V456.4H285.5V457.3H287.5V455.8H289.5V456.2H291.5V456.9H293.5V456.1H295.5V457.7H297.5V457.8H299.5V458.6H301.5V458.2H303.5V459H305.5V458.3H307.5V457.2H309.5V457.4H311.5V458.6H313.5V458.7H315.5V457H317.5V458.9H319.5V458.3H321.5V457.7H323.5V457.6H325.5V460.1H327.5V458.3H329.5V458.8H331.5V460.1H333.5V456.8H335.5V458.9H337.5V457.2H339.5V458.1H341.5V459.2H343.5V461.3H345.5V458.8H347.5V460H349.5V460.2H351.5V461.1H353.5V460H355.5V459.6H357.5V460.2H359.5V459.9H361.5V459.2H363.5V458.7H365.5V460.1H367.5V460.6H369.5V460.5H371.5V460.4H373.5V458.7H375.5V459.7H377.5V461.1H379.5V460H381.5V459.1H383.5V461.5H385.5V461.2H387.5V462.7H389.5V459.8H391.5V458.3H393.5V457.6H395.5V460.1H397.5V461.7H399.5V458.2H401.5V458.6H403.5V459H405.5V458.9H407.5V459H409.5V459.4H411.5V459.1H413.5V460.6H415.5V459.3H417.5V460H419.5V458.6H421.5V459.8H423.5V458.1H425.5V458.6H427.5V460.1H429.5V458.8H431.5V459.9H433.5V459.8H435.5V460.2H437.5V459.7H439.5V460H441.5V460.1H443.5V459.6H445.5V459.5H449.5V458.6H451.5V458.4H453.5V458H455.5V458.7H457.5V459.5H459.5V459H461.5V460.3H463.5V459.8H465.5V459.6H467.5V458.4H469.5V458.1H471.5V458.7H473.5V460.4H475.5V459.8H477.5V460H479.5V460.7H481.5V459.2H483.5V460H485.5V459.5H489.5V459.4H491.5V459.7H493.5V459.2H495.5V458.8H497.5V459.4H499.5V459.2H501.5V459.3H503.5V459H505.5V459.3H507.5V459.5H509.5V459.1H511.5V459.8H513.5V459.4H515.5V459.7H517.5V459.6H519.5V459.4H521.5V459.9H523.5V460.2H525.5V460.8H527.5V459.2H529.5V460.1H531.5V459.1H533.5V459.3H535.5V460.1H539.5V460.7H541.5V460.1H543.5V459.7H545.5V460H547.5V461.4H549.5V460.7H551.5V459.9H553.5V461H555.5V460.3H557.5V462.2H559.5V460.3H561.5V461.4H563.5V461.2H565.5V459.8H567.5V460.6H569.5V461.1H571.5V460.8H573.5V460.9H575.5V461.3H577.5V460.6H579.5V460.7H581.5V460.9H583.5V461.4H585.5V460.5H587.5V461.8H589.5V461.1H591.5V461.4H593.5V462.2H595.5V463H597.5V461.8H599.5V460.8H601.5V461.5H603.5V461.4H607.5V461.5H609.5V460.2H611.5V461.2H613.5V460.4H615.5V460.2H617.5V459.8H619.5V459.2H621.5V459.9H623.5V461.1H627.5V459.6H629.5V459.8H631.5V459.4H633.5V459.7H635.5V466.7H637.5V473.9H639.5V476.5H643.5V470.1H645.5V468H647.5V470.6H649.5V478.2H651.5V480.7H653.5V477.9H655.5V480.8H657.5V485.6H659.5V480.6H661.5V485H663.5V483.7H665.5V482.5H667.5V484H669.5V477.6H671.5V483.6H673.5V486.3H675.5V484.4H677.5V479.5H679.5V484.7H681.5V488H683.5V482.9H685.5V477.1H687.5V482.7H689.5V477.1H691.5V481.9H693.5V480.9H695.5V475.7H697.5V480.1H699.5V477.3H701.5V475.4H703.5V478.2H705.5V476.1H707.5V473.8H711.5V474.7H713.5V475.2H715.5V474.9H717.5V475.6H719.5V476.2H721.5V475.2H723.5V478.3H725.5V476.9H727.5V477.4H729.5V477H731.5V476.3H733.5V476.9H735.5V478H737.5V475.3H739.5V475.9H741.5V477.3H743.5V476.3H745.5V476.7H747.5V476.5H749.5V477.3H751.5V474.7H753.5V476.8H755.5V476.7H759.5V479.6H761.5V478.2H765.5V474.8H767.5V476.8H769.5V479.7H771.5V474.2H773.5V475.7H775.5V475.5H777.5V477.3H779.5V475.6H781.5V476.6H783.5V477.9H785.5V477.3H787.5V479.1H789.5V477.4H791.5V477.6H793.5V479.5H795.5V474.1H797.5V475.7H799.5V478.7H801.5V478.8H803.5V479.2H805.5V478.3H807.5V477.5H809.5V477.9H811.5V480.7H813.5V478.9H815.5V473.7H817.5V476.4H819.5V475.3H821.5V477.4H823.5V476.7H825.5V478.9H827.5V476.7H829.5V476.9H831.5V475.4H833.5V474.7H835.5V474.2H837.5V474.6H839.5V472.8H841.5V470.9H843.5V472.7H845.5V471H847.5V470H849.5V468.7H851.5V468.2H853.5V468.4H855.5V466.2H857.5V469.5H859.5V468.6H861.5V467.2H863.5V468.6H865.5V468.1H867.5V468.3H869.5V466.5H871.5V467.9H873.5V469.1H875.5V469.9H877.5V471.3H879.5V471.2H881.5V468.6H883.5V467H885.5V469.1H887.5V469H889.5V469.5H891.5V468.7H893.5V468.4H895.5V467.2H897.5V468.6H899.5V469.2H901.5V471.5H903.5V473.7H905.5V473.9H907.5V476.5H909.5V476.3H911.5V477.4H915.5V475.1H917.5V474.8H919.5V476.5H921.5V475.3H923.5V476H925.5V475.4H927.5V474.1H929.5V475.4H931.5V477.5H933.5V477.9H935.5V478.4H937.5V475.3H939.5V474.8H941.5V474.4H943.5V477H945.5V474H947.5V479H949.5V477.2H951.5V479.2H953.5V477.8H955.5V480.1H957.5V480.5H959.5V479.5H961.5V479.3H963.5V478.8H965.5V476H967.5V476.9H969.5V476.6H971.5V475.8H973.5V477.8H975.5V477.6H977.5V478.3H979.5V477.9H981.5V476.4H983.5V480.1H985.5V477.9H987.5V479H989.5V477.1H991.5V477.2H993.5V476.2H995.5V475.7H997.5V476.7H999.5V476H1001.5V475.5H1003.5V477.1H1005.5V474.1H1007.5V475.3H1009.5V474.2H1011.5V475H1013.5V476.9H1015.5V477.3H1017.5V476.2H1019.5V480.3H1021.5V481.1H1023.5V475.8H1025.5V479.5H1027.5V476H1029.5V476.7H1031.5V477.2H1033.5V476.1H1035.5V480.1H1037.5V479.4H1039.5V478.6H1041.5V479H1043.5V477.4H1045.5V477.6H1047.5V478.4H1049.5V475.1H1051.5V477H1053.5V478.1H1055.5V478.9H1057.5V480.5H1059.5V478.9H1061.5V479H1063.5V479.7H1065.5V478.6H1069.5V480.5H1071.5V481.7H1073.5V479.9H1075.5V479H1077.5V480.1H1079.5V476.4H1081.5V479.8H1083.5V476.8H1085.5V481.8H1087.5V478.6H1089.5V478.3H1091.5V476.9H1093.5V475.6H1095.5V480.6H1097.5V483.4H1099.5V479.7H1101.5V482.2H1103.5V482.9H1105.5V477.9H1107.5V482.5H1109.5V483.2H1113.5V483.1H1115.5V484.2H1117.5V478.2H1119.5V480.6H1121.5V484.7H1123.5V482.5H1125.5V489H1127.5V483.7H1129.5V477.1H1131.5V481H1133.5V481.4H1135.5V486.7H1137.5V485.1H1139.5V490.6H1141.5V487H1143.5V488.5H1145.5V487.2H1147.5V489.4H1149.5V493H1151.5V493.1H1153.5V492.4H1155.5V491.4H1157.5V493H1159.5V491.9H1161.5V491.2H1163.5V494.1H1165.5V491.3H1167.5V490.8H1170.5V444.5Z" fill="#29798e"/>
<path d="M163.5 444.5V458.7H165.5V461.8H167.5V461.3H169.5V458.5H171.5V459.4H173.5V459.7H175.5V461.6H177.5V460.3H179.5V461.6H181.5V456.3H183.5V462.8H185.5V460.4H187.5V460.1H189.5V459.6H191.5V458.5H193.5V461.1H195.5V459.1H197.5V458.2H199.5V459.4H201.5V462.4H203.5V459.2H205.5V456.1H207.5V456.9H209.5V454.9H211.5V453.7H213.5V455.5H215.5V456.1H217.5V455.5H219.5V454.3H221.5V455.8H223.5V456H225.5V454.1H227.5V454.8H229.5V456.1H231.5V457.4H233.5V457H237.5V456.7H239.5V455H241.5V454.9H243.5V456.3H247.5V458.1H249.5V456.8H251.5V456.9H253.5V456.5H255.5V455.5H257.5V456.8H259.5V457.6H261.5V456.3H263.5V457.6H265.5V457.2H267.5V456.8H269.5V456.9H271.5V457.8H273.5V455.7H275.5V457.1H277.5V456.4H279.5V453.8H281.5V455.8H283.5V455.9H285.5V456.8H287.5V455.4H289.5V455.9H291.5V456.6H293.5V455.8H295.5V457.3H297.5V457.4H299.5V458.2H301.5V457.8H303.5V458.6H305.5V458H307.5V456.9H309.5V457.1H311.5V458.2H313.5V458.3H315.5V456.7H317.5V458.5H319.5V457.9H321.5V457.4H323.5V457.3H325.5V459.7H327.5V458H329.5V458.5H331.5V459.7H333.5V456.6H335.5V458.5H337.5V457H339.5V457.9H341.5V458.9H343.5V460.9H345.5V458.5H347.5V459.6H349.5V459.9H351.5V460.7H353.5V459.7H355.5V459.3H357.5V459.8H359.5V459.5H361.5V458.9H363.5V458.4H365.5V459.7H367.5V460.2H369.5V460.1H371.5V460H373.5V458.5H375.5V459.4H377.5V460.7H379.5V459.6H381.5V458.8H383.5V461H385.5V460.7H387.5V462.2H389.5V459.5H391.5V458H393.5V457.4H395.5V459.7H397.5V461.2H399.5V457.9H401.5V458.3H403.5V458.7H405.5V458.6H407.5V458.7H409.5V459H411.5V458.8H413.5V460.2H415.5V459H417.5V459.6H419.5V458.3H421.5V459.4H423.5V457.8H425.5V458.2H427.5V459.7H429.5V458.5H431.5V459.5H433.5V459.4H435.5V459.8H437.5V459.3H439.5V459.5H441.5V459.6H443.5V459.1H449.5V458.3H451.5V458.1H453.5V457.7H455.5V458.4H457.5V459H459.5V458.6H461.5V459.8H463.5V459.4H465.5V459.1H467.5V458.1H469.5V457.7H471.5V458.3H473.5V459.8H475.5V459.3H477.5V459.5H479.5V460.1H481.5V458.8H483.5V459.5H485.5V459H491.5V459.2H493.5V458.7H495.5V458.3H497.5V458.8H499.5V458.7H501.5V458.8H503.5V458.5H505.5V458.7H507.5V459H509.5V458.6H511.5V459.2H513.5V458.9H515.5V459.1H517.5V459H519.5V458.9H521.5V459.3H523.5V459.6H525.5V460.1H527.5V458.7H529.5V459.5H531.5V458.6H533.5V458.8H535.5V459.5H539.5V460.1H541.5V459.5H543.5V459.2H545.5V459.4H547.5V460.7H549.5V460.1H551.5V459.3H553.5V460.3H555.5V459.7H557.5V461.4H559.5V459.7H561.5V460.7H563.5V460.5H565.5V459.2H567.5V459.9H569.5V460.4H571.5V460.1H573.5V460.2H575.5V460.5H577.5V460H581.5V460.3H583.5V460.6H585.5V459.9H587.5V461H589.5V460.4H591.5V460.7H593.5V461.4H595.5V462.2H597.5V461H599.5V460.1H601.5V460.7H603.5V460.6H607.5V460.7H609.5V459.5H611.5V460.4H613.5V459.7H615.5V459.5H617.5V459.1H619.5V458.6H621.5V459.2H623.5V460.2H627.5V458.9H629.5V459.1H631.5V458.7H633.5V459.1H635.5V465.8H637.5V472.8H639.5V475.5H641.5V474.9H643.5V468.1H645.5V466.2H647.5V468.7H649.5V475.3H651.5V477.5H653.5V475H655.5V477.5H657.5V481.8H659.5V477.5H661.5V481.2H663.5V479.9H665.5V478.7H667.5V480.4H669.5V475.1H671.5V480.1H673.5V482.5H675.5V480.9H677.5V476.6H679.5V481H681.5V484H683.5V479.9H685.5V474.7H687.5V479.5H689.5V474.9H691.5V479.2H693.5V478.1H695.5V473.6H697.5V477.6H699.5V475.1H701.5V473.5H703.5V476.1H705.5V474.3H707.5V472.2H709.5V472.3H711.5V473.1H713.5V473.5H715.5V473.3H717.5V473.9H719.5V474.4H721.5V473.6H723.5V476.5H725.5V475.2H727.5V475.6H729.5V475.2H731.5V474.7H733.5V475.2H735.5V476.1H737.5V473.7H739.5V474.3H741.5V475.6H743.5V474.7H745.5V475.1H747.5V475H749.5V475.6H751.5V473.3H753.5V475.2H755.5V475.1H759.5V477.8H761.5V476.5H763.5V476.6H765.5V473.5H767.5V475.2H769.5V477.7H771.5V472.9H773.5V474.3H775.5V474.2H777.5V475.8H779.5V474.3H781.5V475.2H783.5V476.4H785.5V475.9H787.5V477.5H789.5V475.9H791.5V476H793.5V477.8H795.5V473H797.5V474.5H799.5V477.2H801.5V477.3H803.5V477.7H805.5V476.8H807.5V476.1H809.5V476.5H811.5V479H813.5V477.3H815.5V472.7H817.5V475.2H819.5V474.2H821.5V475.9H823.5V475.3H825.5V477.4H827.5V475.3H831.5V474H833.5V473.3H835.5V472.8H837.5V473.2H839.5V471.5H841.5V469.8H843.5V471.5H845.5V470H847.5V469H849.5V467.8H851.5V467.4H853.5V467.6H855.5V465.5H857.5V468.6H859.5V467.7H861.5V466.4H863.5V467.7H865.5V467.2H867.5V467.5H869.5V465.8H871.5V467.1H873.5V468.2H875.5V469H877.5V470.3H879.5V470.1H881.5V467.8H883.5V466.3H885.5V468.2H887.5V468.1H889.5V468.6H891.5V467.8H893.5V467.6H895.5V466.4H897.5V467.8H899.5V468.3H901.5V470.4H903.5V472.4H905.5V472.6H907.5V475.1H909.5V474.9H911.5V475.9H913.5V476H915.5V473.9H917.5V473.6H919.5V475.1H921.5V474.1H923.5V474.7H925.5V474.1H927.5V472.9H929.5V474.2H931.5V476.1H933.5V476.4H935.5V476.9H937.5V474.1H939.5V473.6H941.5V473.3H943.5V475.6H945.5V472.9H947.5V477.6H949.5V475.9H951.5V477.8H953.5V476.4H955.5V478.6H957.5V478.9H959.5V478H961.5V477.9H963.5V477.3H965.5V474.7H967.5V475.6H969.5V475.4H971.5V474.6H973.5V476.5H975.5V476.3H977.5V476.9H979.5V476.5H981.5V475.1H983.5V478.5H985.5V476.6H987.5V477.6H989.5V475.8H991.5V475.9H993.5V475.1H995.5V474.6H997.5V475.5H999.5V474.9H1001.5V474.4H1003.5V475.8H1005.5V473.1H1007.5V474.3H1009.5V473.3H1011.5V474H1013.5V475.8H1015.5V476.1H1017.5V475.1H1019.5V479H1021.5V479.7H1023.5V474.7H1025.5V478.3H1027.5V475H1029.5V475.6H1031.5V476H1033.5V475H1035.5V478.8H1037.5V478.1H1039.5V477.3H1041.5V477.7H1043.5V476.2H1045.5V476.4H1047.5V477.1H1049.5V474H1051.5V475.8H1053.5V476.8H1055.5V477.6H1057.5V479.1H1059.5V477.6H1063.5V478.2H1065.5V477.3H1069.5V479H1071.5V480H1073.5V478.4H1075.5V477.5H1077.5V478.5H1079.5V475.1H1081.5V478.2H1083.5V475.5H1085.5V479.9H1087.5V477H1089.5V476.8H1091.5V475.5H1093.5V474.2H1095.5V478.7H1097.5V481.3H1099.5V477.8H1101.5V480.2H1103.5V480.7H1105.5V476.1H1107.5V480.2H1109.5V480.9H1111.5V481H1113.5V480.8H1115.5V481.6H1117.5V476.4H1119.5V478.5H1121.5V482H1123.5V480.1H1125.5V485.6H1127.5V481.1H1129.5V475.4H1131.5V478.7H1133.5V479.1H1135.5V483.5H1137.5V482.3H1139.5V487.1H1141.5V484.1H1143.5V485.4H1145.5V484.1H1147.5V485.9H1149.5V488.7H1151.5V488.5H1153.5V488.3H1155.5V487.6H1157.5V488.5H1159.5V487.1H1161.5V487.2H1163.5V489.6H1165.5V486.7H1167.5V486H1170.5V444.5Z" fill="#277f8e"/>
<path d="M163.5 444.5V457.7H165.5V460.3H167.5V459.8H169.5V457.3H171.5V458.1H173.5V458.5H175.5V460H177.5V459.2H179.5V460.4H181.5V455.7H183.5V461.5H185.5V459.3H187.5V459H189.5V458.4H191.5V457.8H193.5V460.2H195.5V458.3H197.5V457.4H199.5V458.5H201.5V460.8H203.5V457.7H205.5V455.3H207.5V456.1H209.5V454.2H211.5V453.2H213.5V454.6H215.5V455.1H217.5V454.4H219.5V453H221.5V454.6H225.5V452.8H227.5V453.8H229.5V454.8H231.5V456.2H233.5V456H235.5V455.9H237.5V455.5H239.5V453.9H241.5V454.2H243.5V455.6H245.5V455.4H247.5V457H249.5V455.9H251.5V456H253.5V455.8H255.5V454.9H257.5V455.8H259.5V456.7H261.5V455.5H263.5V456.2H265.5V456.1H267.5V456H271.5V456.7H273.5V454.9H275.5V456H277.5V455.4H279.5V453.2H281.5V455.1H283.5V455.4H285.5V456.2H287.5V455.1H289.5V455.6H291.5V456.2H293.5V455.5H295.5V456.9H297.5V457H299.5V457.8H301.5V457.5H303.5V458.2H305.5V457.6H307.5V456.5H309.5V456.7H311.5V457.8H313.5V457.9H315.5V456.3H317.5V458.1H319.5V457.5H321.5V457H325.5V459.2H327.5V457.7H329.5V458.2H331.5V459.4H333.5V456.4H335.5V458.2H337.5V456.7H339.5V457.6H341.5V458.6H343.5V460.4H345.5V458.2H347.5V459.3H349.5V459.5H351.5V460.3H353.5V459.3H355.5V458.9H357.5V459.4H359.5V459.2H361.5V458.6H363.5V458.1H365.5V459.4H367.5V459.9H369.5V459.7H373.5V458.2H375.5V459.1H377.5V460.3H379.5V459.3H381.5V458.5H383.5V460.6H385.5V460.3H387.5V461.7H389.5V459.1H391.5V457.8H393.5V457.2H395.5V459.4H397.5V460.8H399.5V457.6H401.5V458H403.5V458.4H405.5V458.3H407.5V458.4H409.5V458.7H411.5V458.5H413.5V459.8H415.5V458.6H417.5V459.2H419.5V458H421.5V459H423.5V457.5H425.5V457.9H427.5V459.3H429.5V458.1H431.5V459.1H433.5V459H435.5V459.4H437.5V458.9H439.5V459.1H441.5V459.2H443.5V458.7H447.5V458.6H449.5V457.9H451.5V457.7H453.5V457.3H455.5V458H457.5V458.6H459.5V458.2H461.5V459.3H463.5V458.9H465.5V458.7H467.5V457.7H469.5V457.4H471.5V457.9H473.5V459.3H475.5V458.8H477.5V459H479.5V459.6H481.5V458.3H483.5V459H485.5V458.5H491.5V458.7H493.5V458.2H495.5V457.9H497.5V458.3H499.5V458.2H501.5V458.3H503.5V458.1H505.5V458.2H507.5V458.5H509.5V458.1H511.5V458.7H513.5V458.4H515.5V458.6H517.5V458.5H519.5V458.3H521.5V458.7H523.5V459H525.5V459.4H527.5V458.1H529.5V458.9H531.5V458.1H533.5V458.2H535.5V458.9H539.5V459.4H541.5V458.9H543.5V458.6H545.5V458.8H547.5V459.9H549.5V459.4H551.5V458.8H553.5V459.6H555.5V459.1H557.5V460.6H559.5V459.1H561.5V460H563.5V459.8H565.5V458.6H567.5V459.3H569.5V459.7H571.5V459.4H575.5V459.8H577.5V459.3H581.5V459.6H583.5V459.9H585.5V459.2H587.5V460.2H589.5V459.7H591.5V459.9H593.5V460.6H595.5V461.3H597.5V460.2H599.5V459.4H601.5V459.9H603.5V459.8H607.5V459.9H609.5V458.9H611.5V459.6H613.5V458.9H617.5V458.5H619.5V458H621.5V458.5H623.5V459.4H627.5V458.3H629.5V458.4H631.5V458.1H633.5V458.5H635.5V465H637.5V471.6H639.5V474.5H641.5V473.2H643.5V466.2H645.5V464.4H647.5V466.7H649.5V472.4H651.5V474.2H653.5V472.2H655.5V474.1H657.5V478H659.5V474.4H661.5V477.5H663.5V476.1H665.5V475H667.5V476.9H669.5V472.6H671.5V476.6H673.5V478.7H675.5V477.4H677.5V473.6H679.5V477.3H681.5V480.1H683.5V476.9H685.5V472.4H687.5V476.3H689.5V472.7H691.5V476.5H693.5V475.4H695.5V471.5H697.5V475.1H699.5V472.9H701.5V471.6H703.5V474H705.5V472.5H707.5V470.7H709.5V470.8H711.5V471.5H713.5V471.8H715.5V471.7H717.5V472.2H719.5V472.5H721.5V472H723.5V474.6H725.5V473.5H727.5V473.8H729.5V473.3H731.5V473H733.5V473.6H735.5V474.2H737.5V472.2H739.5V472.7H741.5V473.8H743.5V473H745.5V473.5H747.5V473.4H749.5V474H751.5V471.9H753.5V473.5H757.5V473.6H759.5V475.9H761.5V474.9H765.5V472.2H767.5V473.5H769.5V475.7H771.5V471.6H773.5V472.8H775.5V472.9H777.5V474.4H779.5V473H781.5V473.7H783.5V474.9H785.5V474.6H787.5V475.8H789.5V474.4H791.5V474.5H793.5V476.2H795.5V471.9H797.5V473.3H799.5V475.7H801.5V475.8H803.5V476.2H805.5V475.4H807.5V474.7H809.5V475H811.5V477.3H813.5V475.8H815.5V471.7H817.5V473.9H819.5V473H821.5V474.5H823.5V473.9H825.5V475.8H827.5V473.8H831.5V472.6H833.5V471.9H835.5V471.4H837.5V471.8H839.5V470.3H841.5V468.8H843.5V470.3H845.5V468.9H847.5V468H849.5V466.9H851.5V466.5H853.5V466.7H855.5V464.8H857.5V467.7H859.5V466.8H861.5V465.7H863.5V466.8H865.5V466.4H867.5V466.7H869.5V465.1H871.5V466.3H873.5V467.3H875.5V468H877.5V469.2H879.5V469.1H881.5V466.9H883.5V465.6H885.5V467.3H887.5V467.2H889.5V467.6H891.5V467H893.5V466.7H895.5V465.7H897.5V466.9H899.5V467.4H901.5V469.3H903.5V471.2H905.5V471.4H907.5V473.7H909.5V473.6H911.5V474.5H913.5V474.6H915.5V472.7H917.5V472.4H919.5V473.8H921.5V472.8H923.5V473.4H925.5V472.8H927.5V471.7H929.5V472.9H931.5V474.7H933.5V475H935.5V475.4H937.5V472.8H939.5V472.4H941.5V472.1H943.5V474.3H945.5V471.8H947.5V476.1H949.5V474.6H951.5V476.3H953.5V475H955.5V477H957.5V477.3H959.5V476.5H961.5V476.4H963.5V475.9H965.5V473.4H967.5V474.2H971.5V473.5H973.5V475.2H975.5V475H977.5V475.6H979.5V475.2H981.5V473.9H983.5V477H985.5V475.3H987.5V476.2H989.5V474.5H991.5V474.6H993.5V473.9H995.5V473.5H997.5V474.4H999.5V473.9H1001.5V473.3H1003.5V474.6H1005.5V472.1H1007.5V473.3H1009.5V472.3H1011.5V472.9H1013.5V474.6H1015.5V475H1017.5V474H1019.5V477.6H1021.5V478.4H1023.5V473.7H1025.5V477H1027.5V473.9H1029.5V474.5H1031.5V474.8H1033.5V473.9H1035.5V477.5H1037.5V476.8H1039.5V476.1H1041.5V476.5H1043.5V475H1045.5V475.2H1047.5V475.8H1049.5V473H1051.5V474.7H1053.5V475.6H1055.5V476.3H1057.5V477.6H1059.5V476.2H1063.5V476.8H1065.5V476H1067.5V475.9H1069.5V477.4H1071.5V478.4H1073.5V476.8H1075.5V476H1077.5V476.9H1079.5V473.8H1081.5V476.6H1083.5V474.1H1085.5V478.1H1087.5V475.3H1089.5V475.2H1091.5V474.1H1093.5V472.8H1095.5V476.9H1097.5V479.2H1099.5V476H1101.5V478.1H1103.5V478.5H1105.5V474.3H1107.5V477.9H1109.5V478.7H1111.5V478.8H1113.5V478.5H1115.5V479.1H1117.5V474.6H1119.5V476.4H1121.5V479.4H1123.5V477.7H1125.5V482.2H1127.5V478.5H1129.5V473.7H1131.5V476.3H1133.5V476.8H1135.5V480.2H1137.5V479.4H1139.5V483.5H1141.5V481.2H1143.5V482.2H1145.5V480.8H1147.5V482.2H1149.5V484.1H1151.5V483.7H1153.5V484H1155.5V483.6H1157.5V483.8H1159.5V482H1161.5V483H1163.5V484.9H1165.5V481.7H1167.5V481H1170.5V444.5Z" fill="#25848e"/>
<path d="M163.5 444.5V456.7H165.5V458.8H167.5V458.2H169.5V456.1H171.5V456.9H173.5V457.2H175.5V458.3H177.5V458.1H179.5V459.2H181.5V455.1H183.5V460.2H185.5V458.3H187.5V457.8H189.5V457.2H191.5V457.1H193.5V459.3H195.5V457.4H197.5V456.6H199.5V457.5H201.5V459.3H203.5V456.2H205.5V454.5H207.5V455.3H209.5V453.6H211.5V452.5H213.5V453.7H215.5V454.1H217.5V453.2H219.5V451.7H221.5V453.3H223.5V453.2H225.5V451.6H227.5V452.7H229.5V453.4H231.5V454.8H233.5V454.9H235.5V454.7H237.5V454.2H239.5V452.8H241.5V453.5H243.5V454.8H245.5V454.5H247.5V455.7H249.5V455.1H255.5V454.3H257.5V454.9H259.5V455.8H261.5V454.7H263.5V454.6H265.5V455H267.5V455.3H269.5V455.1H271.5V455.6H273.5V454.2H275.5V454.8H277.5V454.4H279.5V452.6H281.5V454.4H283.5V454.8H285.5V455.7H287.5V454.8H289.5V455.2H291.5V455.9H293.5V455.2H295.5V456.6H297.5V456.7H299.5V457.4H301.5V457.1H303.5V457.8H305.5V457.2H307.5V456.2H309.5V456.4H311.5V457.4H313.5V457.5H315.5V456H317.5V457.7H319.5V457.2H321.5V456.7H323.5V456.6H325.5V458.8H327.5V457.3H329.5V457.8H331.5V459H333.5V456.1H335.5V457.9H337.5V456.5H339.5V457.3H341.5V458.2H343.5V460H345.5V457.9H347.5V458.9H349.5V459.1H351.5V459.9H353.5V459H355.5V458.6H357.5V459.1H359.5V458.8H361.5V458.2H363.5V457.8H365.5V459H367.5V459.5H369.5V459.3H373.5V457.9H375.5V458.8H377.5V459.9H379.5V459H381.5V458.2H383.5V460.2H385.5V459.9H387.5V461.2H389.5V458.8H391.5V457.5H393.5V456.9H395.5V459H397.5V460.3H399.5V457.4H401.5V457.7H403.5V458.1H405.5V457.9H407.5V458.1H409.5V458.3H411.5V458.1H413.5V459.3H415.5V458.3H417.5V458.8H419.5V457.6H421.5V458.6H423.5V457.2H425.5V457.6H427.5V458.8H429.5V457.8H431.5V458.7H433.5V458.5H435.5V458.9H437.5V458.5H439.5V458.6H441.5V458.7H443.5V458.3H447.5V458.2H449.5V457.5H451.5V457.4H453.5V457H455.5V457.6H457.5V458.1H459.5V457.7H461.5V458.9H463.5V458.4H465.5V458.2H467.5V457.3H469.5V457H471.5V457.5H473.5V458.7H475.5V458.3H477.5V458.5H479.5V459H481.5V457.9H483.5V458.4H485.5V458H491.5V458.2H493.5V457.7H495.5V457.4H497.5V457.8H499.5V457.7H501.5V457.8H503.5V457.6H505.5V457.7H507.5V457.9H509.5V457.6H511.5V458.1H513.5V457.9H515.5V458.1H517.5V457.9H519.5V457.8H521.5V458.1H523.5V458.4H525.5V458.7H527.5V457.5H529.5V458.3H531.5V457.5H533.5V457.7H535.5V458.3H537.5V458.2H539.5V458.7H541.5V458.3H543.5V458H545.5V458.1H547.5V459.2H549.5V458.8H551.5V458.2H553.5V458.9H555.5V458.4H557.5V459.8H559.5V458.5H561.5V459.3H563.5V459.1H565.5V458.1H567.5V458.6H569.5V459H571.5V458.7H575.5V459.1H577.5V458.6H579.5V458.7H581.5V458.9H583.5V459.1H585.5V458.5H587.5V459.4H589.5V459H591.5V459.2H593.5V459.9H595.5V460.4H597.5V459.4H599.5V458.7H601.5V459.1H605.5V459H607.5V459.1H609.5V458.2H611.5V458.8H613.5V458.2H617.5V457.8H619.5V457.4H621.5V457.9H623.5V458.6H627.5V457.6H631.5V457.4H633.5V457.9H635.5V464.1H637.5V470.4H639.5V473.5H641.5V471.5H643.5V464.1H645.5V462.5H647.5V464.7H649.5V469.3H651.5V470.9H653.5V469.2H655.5V470.6H657.5V473.9H659.5V471.1H661.5V473.5H663.5V472H665.5V471.1H667.5V473.1H669.5V470H671.5V472.9H673.5V474.7H675.5V473.7H677.5V470.5H679.5V473.3H681.5V475.9H683.5V473.9H685.5V470H687.5V472.9H689.5V470.3H691.5V473.7H693.5V472.5H695.5V469.2H697.5V472.5H699.5V470.6H701.5V469.6H703.5V471.7H705.5V470.6H707.5V469.1H709.5V469.2H711.5V469.8H713.5V470.1H717.5V470.4H719.5V470.6H721.5V470.4H723.5V472.7H725.5V471.8H727.5V471.9H729.5V471.4H733.5V471.9H735.5V472.3H737.5V470.6H739.5V471.1H741.5V472.1H743.5V471.3H745.5V471.8H747.5V471.9H749.5V472.3H751.5V470.4H753.5V471.7H755.5V471.9H757.5V472.1H759.5V474.1H761.5V473.2H763.5V473.3H765.5V470.9H767.5V471.8H769.5V473.6H771.5V470.3H773.5V471.4H775.5V471.5H777.5V472.9H779.5V471.7H781.5V472.3H783.5V473.4H785.5V473.2H787.5V474.2H789.5V472.9H791.5V473H793.5V474.5H795.5V470.8H797.5V472H799.5V474.3H803.5V474.7H805.5V473.9H807.5V473.2H809.5V473.6H811.5V475.5H813.5V474.2H815.5V470.7H817.5V472.7H819.5V471.9H821.5V473.1H823.5V472.5H825.5V474.2H827.5V472.4H829.5V472.2H831.5V471.2H833.5V470.5H835.5V470.1H837.5V470.5H839.5V469.1H841.5V467.7H843.5V469.2H845.5V467.8H847.5V467H849.5V466.1H851.5V465.7H853.5V465.8H855.5V464.2H857.5V466.7H859.5V466H861.5V464.9H863.5V465.9H865.5V465.5H867.5V465.8H869.5V464.5H871.5V465.5H873.5V466.4H875.5V467.1H877.5V468.2H879.5V468H881.5V466.1H883.5V464.8H885.5V466.4H887.5V466.3H889.5V466.7H891.5V466.1H893.5V465.9H895.5V464.9H897.5V466H899.5V466.5H901.5V468.3H903.5V469.9H905.5V470.1H907.5V472.2H911.5V473H913.5V473.2H915.5V471.5H917.5V471.1H919.5V472.4H921.5V471.6H923.5V472.1H925.5V471.5H927.5V470.5H929.5V471.6H931.5V473.4H933.5V473.5H935.5V473.9H937.5V471.6H939.5V471.2H941.5V471H943.5V472.9H945.5V470.7H947.5V474.6H949.5V473.2H951.5V474.8H953.5V473.6H955.5V475.4H957.5V475.7H959.5V475H961.5V474.9H963.5V474.5H965.5V472.1H967.5V472.9H971.5V472.3H973.5V473.9H975.5V473.8H977.5V474.2H979.5V473.8H981.5V472.6H983.5V475.4H985.5V474H987.5V474.8H989.5V473.2H991.5V473.3H993.5V472.7H995.5V472.4H997.5V473.3H999.5V472.8H1001.5V472.3H1003.5V473.4H1005.5V471.1H1007.5V472.2H1009.5V471.3H1011.5V471.9H1013.5V473.5H1015.5V473.8H1017.5V473H1019.5V476.3H1021.5V477H1023.5V472.7H1025.5V475.7H1027.5V472.9H1029.5V473.4H1031.5V473.6H1033.5V472.8H1035.5V476.1H1037.5V475.6H1039.5V474.8H1041.5V475.2H1043.5V473.8H1045.5V474H1047.5V474.5H1049.5V472H1051.5V473.5H1053.5V474.3H1055.5V475H1057.5V476.2H1059.5V474.9H1061.5V474.8H1063.5V475.3H1065.5V474.7H1067.5V474.6H1069.5V475.9H1071.5V476.7H1073.5V475.3H1075.5V474.6H1077.5V475.3H1079.5V472.5H1081.5V474.9H1083.5V472.7H1085.5V476.3H1087.5V473.7H1091.5V472.7H1093.5V471.4H1095.5V475H1097.5V477.1H1099.5V474.2H1101.5V476.1H1103.5V476.4H1105.5V472.5H1107.5V475.5H1109.5V476.4H1111.5V476.5H1113.5V476.2H1115.5V476.5H1117.5V472.8H1119.5V474.3H1121.5V476.6H1123.5V475.2H1125.5V478.6H1127.5V475.8H1129.5V472H1131.5V473.8H1133.5V474.3H1135.5V476.8H1137.5V476.3H1139.5V479.7H1141.5V478.1H1143.5V478.8H1145.5V477.5H1147.5V478.5H1149.5V479.3H1151.5V478.8H1153.5V479.6H1155.5V479.4H1157.5V478.9H1159.5V477H1161.5V478.7H1163.5V480.1H1165.5V474.7H1167.5V469.7H1170.5V444.5Z" fill="#238a8d"/>
<path d="M163.5 444.5V455.6H165.5V457.1H167.5V456.5H169.5V454.8H171.5V455.5H173.5V455.9H175.5V456.6H177.5V456.9H179.5V457.9H181.5V454.5H183.5V458.9H185.5V457.2H187.5V456.6H189.5V455.9H191.5V456.4H193.5V458.4H195.5V456.6H197.5V455.8H199.5V456.5H201.5V457.6H203.5V454.6H205.5V453.7H207.5V454.5H209.5V452.9H211.5V451.9H213.5V452.7H215.5V453H217.5V452.1H219.5V450.9H221.5V452.1H223.5V451.8H225.5V450.8H227.5V451.7H229.5V452H231.5V453.5H233.5V453.8H235.5V453.5H237.5V452.9H239.5V451.7H241.5V452.7H243.5V454H245.5V453.5H247.5V454.5H249.5V454.1H253.5V454.4H255.5V453.6H257.5V453.9H259.5V454.8H261.5V453.7H263.5V453.1H265.5V453.8H267.5V454.4H269.5V454.1H271.5V454.5H273.5V453.4H275.5V453.5H277.5V453.4H279.5V451.9H281.5V453.7H283.5V454.3H285.5V455.2H287.5V454.5H289.5V454.9H291.5V455.6H293.5V454.9H295.5V456.2H297.5V456.3H299.5V456.9H301.5V456.7H303.5V457.4H305.5V456.8H307.5V455.9H309.5V456.1H311.5V457H313.5V457.1H315.5V455.7H317.5V457.3H319.5V456.8H321.5V456.3H325.5V458.4H327.5V457H329.5V457.5H331.5V458.6H333.5V455.9H335.5V457.6H337.5V456.3H339.5V457H341.5V457.9H343.5V459.6H345.5V457.6H347.5V458.6H349.5V458.8H351.5V459.5H353.5V458.6H355.5V458.3H357.5V458.7H359.5V458.5H361.5V457.9H363.5V457.5H365.5V458.7H367.5V459.1H369.5V459H371.5V458.9H373.5V457.6H375.5V458.4H377.5V459.5H379.5V458.6H381.5V457.9H383.5V459.8H385.5V459.5H387.5V460.7H389.5V458.4H391.5V457.2H393.5V456.7H395.5V458.6H397.5V459.8H399.5V457.1H401.5V457.4H403.5V457.8H405.5V457.6H407.5V457.7H409.5V458H411.5V457.8H413.5V458.9H415.5V457.9H417.5V458.4H419.5V457.3H421.5V458.2H423.5V456.9H425.5V457.3H427.5V458.4H429.5V457.5H431.5V458.3H433.5V458.1H435.5V458.5H437.5V458.1H439.5V458.2H441.5V458.3H443.5V457.9H447.5V457.8H449.5V457.2H451.5V457H453.5V456.7H455.5V457.3H457.5V457.7H459.5V457.3H461.5V458.4H463.5V458H465.5V457.8H467.5V456.9H469.5V456.7H471.5V457.1H473.5V458.2H475.5V457.8H477.5V458H479.5V458.5H481.5V457.4H483.5V457.9H485.5V457.5H487.5V457.6H489.5V457.5H491.5V457.6H493.5V457.2H495.5V456.9H497.5V457.3H499.5V457.2H501.5V457.3H503.5V457.1H505.5V457.2H507.5V457.4H509.5V457.1H511.5V457.5H513.5V457.3H515.5V457.5H517.5V457.4H519.5V457.2H521.5V457.6H523.5V457.7H525.5V458H527.5V457H529.5V457.6H531.5V457H533.5V457.2H535.5V457.7H537.5V457.6H539.5V458H541.5V457.7H543.5V457.5H547.5V458.4H549.5V458.1H551.5V457.6H553.5V458.2H555.5V457.8H557.5V459H559.5V457.8H561.5V458.6H563.5V458.4H565.5V457.5H567.5V458H569.5V458.3H571.5V458H575.5V458.3H577.5V457.9H579.5V458H581.5V458.1H583.5V458.3H585.5V457.9H587.5V458.6H589.5V458.2H591.5V458.4H593.5V459.1H595.5V459.5H597.5V458.5H599.5V458H601.5V458.3H603.5V458.2H609.5V457.6H611.5V457.9H613.5V457.4H617.5V457.1H619.5V456.8H621.5V457.2H623.5V457.7H625.5V457.8H627.5V456.8H629.5V456.9H631.5V456.7H633.5V457.2H635.5V463.1H637.5V469.1H639.5V472.4H641.5V469.7H643.5V462H645.5V460.5H647.5V462.6H649.5V466.1H651.5V467.4H653.5V466.1H655.5V467H657.5V469.8H659.5V467.8H661.5V469.4H663.5V467.9H665.5V467H667.5V469.3H669.5V467.3H671.5V469.1H673.5V470.6H675.5V469.9H677.5V467.3H679.5V469.2H681.5V471.6H683.5V470.7H685.5V467.5H687.5V469.5H689.5V467.9H691.5V470.8H693.5V469.4H695.5V466.9H697.5V469.8H699.5V468.3H701.5V467.6H703.5V469.5H705.5V468.7H707.5V467.5H711.5V468H713.5V468.3H715.5V468.4H717.5V468.6H723.5V470.7H725.5V469.9H729.5V469.5H731.5V469.6H733.5V470.2H735.5V470.3H737.5V468.9H739.5V469.4H741.5V470.2H743.5V469.6H745.5V470.1H747.5V470.3H749.5V470.5H751.5V468.9H753.5V469.9H755.5V470.2H757.5V470.5H759.5V472.1H761.5V471.4H763.5V471.5H765.5V469.4H767.5V470.1H769.5V471.5H771.5V468.9H773.5V469.9H775.5V470.1H777.5V471.4H779.5V470.4H781.5V470.7H783.5V471.8H785.5V471.7H787.5V472.4H789.5V471.4H791.5V471.3H793.5V472.7H795.5V469.7H797.5V470.8H799.5V472.8H803.5V473.1H805.5V472.4H807.5V471.8H809.5V472.1H811.5V473.7H813.5V472.6H815.5V469.6H817.5V471.4H819.5V470.7H821.5V471.6H823.5V471H825.5V472.7H827.5V470.9H829.5V470.6H831.5V469.7H833.5V469.1H835.5V468.7H837.5V469.1H839.5V467.8H841.5V466.6H843.5V468H845.5V466.7H847.5V466H849.5V465.2H851.5V464.9H853.5V465H855.5V463.5H857.5V465.8H859.5V465.1H861.5V464.2H863.5V465.1H865.5V464.7H867.5V465H869.5V463.8H871.5V464.7H873.5V465.5H875.5V466.1H877.5V467.1H879.5V467H881.5V465.3H883.5V464.1H885.5V465.5H887.5V465.4H889.5V465.8H891.5V465.3H893.5V465H895.5V464.2H897.5V465.2H899.5V465.6H901.5V467.2H903.5V468.7H905.5V468.8H907.5V470.8H911.5V471.5H913.5V471.8H915.5V470.3H917.5V469.9H919.5V471H921.5V470.3H923.5V470.8H925.5V470.2H927.5V469.3H929.5V470.4H931.5V472H933.5V472.1H935.5V472.4H937.5V470.4H939.5V470.1H941.5V469.8H943.5V471.5H945.5V469.6H947.5V473.1H949.5V471.9H951.5V473.3H953.5V472.2H955.5V473.8H957.5V474.1H959.5V473.4H961.5V473.5H963.5V473H965.5V470.9H967.5V471.6H969.5V471.7H971.5V471.2H973.5V472.6H975.5V472.5H977.5V472.9H979.5V472.5H981.5V471.3H983.5V473.9H985.5V472.7H987.5V473.4H989.5V471.9H991.5V472H993.5V471.5H995.5V471.3H997.5V472.2H999.5V471.8H1001.5V471.2H1003.5V472.1H1005.5V470.1H1007.5V471.2H1009.5V470.4H1011.5V470.9H1013.5V472.3H1015.5V472.7H1017.5V471.9H1019.5V475H1021.5V475.7H1023.5V471.7H1025.5V474.4H1027.5V471.9H1029.5V472.3H1031.5V472.4H1033.5V471.7H1035.5V474.8H1037.5V474.3H1039.5V473.6H1041.5V473.9H1043.5V472.6H1045.5V472.8H1047.5V473.3H1049.5V470.9H1051.5V472.3H1053.5V473.1H1055.5V473.7H1057.5V474.7H1059.5V473.6H1061.5V473.4H1063.5V473.9H1065.5V473.4H1067.5V473.3H1069.5V474.4H1071.5V475.1H1073.5V473.8H1075.5V473.1H1077.5V473.7H1079.5V471.2H1081.5V473.3H1083.5V471.3H1085.5V474.5H1087.5V472.1H1091.5V471.3H1093.5V469.9H1095.5V473.1H1097.5V475H1099.5V472.4H1101.5V474H1103.5V474.1H1105.5V470.5H1107.5V473H1109.5V474H1111.5V474.2H1113.5V473.7H1115.5V473.8H1117.5V470.9H1119.5V472H1121.5V473.7H1123.5V472.6H1125.5V475H1127.5V473H1129.5V470.1H1131.5V471.3H1133.5V471.8H1135.5V473.3H1137.5V473.2H1139.5V475.9H1141.5V475H1143.5V475.4H1145.5V474.1H1147.5V474.7H1149.5V473.3H1151.5V469.1H1153.5V474H1157.5V466H1159.5V456.4H1161.5V464.5H1163.5V467.4H1165.5V452.8H1167.5V447.5H1170.5V444.5Z" fill="#21918c"/>
<path d="M163.5 444.5V454.6H165.5V455.5H167.5V454.8H169.5V453.5H171.5V454.2H173.5V454.5H175.5V454.8H177.5V455.8H179.5V456.6H181.5V453.8H183.5V457.5H185.5V456H187.5V455.4H189.5V454.6H191.5V455.7H193.5V457.5H195.5V455.7H197.5V455H199.5V455.5H201.5V455.9H203.5V453H205.5V452.8H207.5V453.6H209.5V452.2H211.5V451.3H213.5V451.8H215.5V451.9H217.5V451.2H219.5V450.3H221.5V451.2H223.5V451H225.5V450.2H227.5V450.9H229.5V451.1H231.5V452.1H233.5V452.6H235.5V452.3H237.5V451.6H239.5V451H241.5V452H243.5V453.2H245.5V452.6H247.5V453.2H251.5V453.1H253.5V453.7H255.5V453H257.5V452.9H259.5V453.8H261.5V452.8H263.5V451.7H265.5V452.6H267.5V453.5H269.5V453.2H271.5V453.4H273.5V452.5H275.5V452.3H279.5V451.3H281.5V452.9H283.5V453.7H285.5V454.7H287.5V454.1H289.5V454.6H291.5V455.2H293.5V454.6H295.5V455.8H297.5V455.9H299.5V456.5H301.5V456.3H303.5V457H305.5V456.4H307.5V455.5H309.5V455.7H311.5V456.6H313.5V456.7H315.5V455.4H317.5V456.9H319.5V456.4H321.5V456H325.5V457.9H327.5V456.6H329.5V457.2H331.5V458.2H333.5V455.7H335.5V457.3H337.5V456H339.5V456.8H341.5V457.6H343.5V459.2H345.5V457.3H347.5V458.2H349.5V458.4H351.5V459.1H353.5V458.3H355.5V457.9H357.5V458.4H359.5V458.1H361.5V457.6H363.5V457.3H365.5V458.3H367.5V458.7H369.5V458.6H373.5V457.4H375.5V458.1H377.5V459.1H379.5V458.3H381.5V457.6H383.5V459.3H385.5V459.1H387.5V460.2H389.5V458.1H391.5V456.9H393.5V456.5H395.5V458.3H397.5V459.4H399.5V456.8H401.5V457.1H403.5V457.4H405.5V457.3H407.5V457.4H409.5V457.6H411.5V457.5H413.5V458.5H415.5V457.6H417.5V458H419.5V457H421.5V457.8H423.5V456.6H425.5V456.9H427.5V458H429.5V457.1H431.5V457.9H433.5V457.7H435.5V458.1H437.5V457.7H439.5V457.8H443.5V457.4H445.5V457.5H447.5V457.4H449.5V456.8H451.5V456.7H453.5V456.4H455.5V456.9H457.5V457.3H459.5V456.9H461.5V457.9H463.5V457.5H465.5V457.3H467.5V456.6H469.5V456.3H471.5V456.7H473.5V457.6H475.5V457.3H477.5V457.5H479.5V457.9H481.5V456.9H483.5V457.3H485.5V457H487.5V457.1H489.5V457H491.5V457.1H493.5V456.7H495.5V456.4H497.5V456.8H499.5V456.7H501.5V456.8H503.5V456.6H507.5V456.8H509.5V456.6H511.5V456.9H513.5V456.8H515.5V456.9H517.5V456.8H519.5V456.6H521.5V456.9H523.5V457.1H525.5V457.2H527.5V456.4H529.5V457H531.5V456.4H533.5V456.6H535.5V457.1H537.5V456.9H539.5V457.2H541.5V457.1H543.5V456.8H547.5V457.6H549.5V457.4H551.5V457H553.5V457.5H555.5V457.1H557.5V458.1H559.5V457.2H561.5V457.9H563.5V457.7H565.5V456.9H567.5V457.3H569.5V457.5H571.5V457.3H573.5V457.2H575.5V457.5H577.5V457.2H581.5V457.4H583.5V457.5H585.5V457.1H587.5V457.7H589.5V457.4H591.5V457.7H593.5V458.3H595.5V458.5H597.5V457.6H599.5V457.2H601.5V457.4H605.5V457.3H609.5V456.9H611.5V457.1H613.5V456.6H615.5V456.7H617.5V456.4H619.5V456.1H621.5V456.4H623.5V456.8H625.5V456.9H627.5V456.1H631.5V456H633.5V456.6H635.5V462.2H637.5V467.9H639.5V471.3H641.5V467.9H643.5V459.9H645.5V458.6H647.5V460.4H649.5V463H651.5V463.9H653.5V463H655.5V463.4H657.5V465.6H659.5V464.4H661.5V465.4H663.5V463.7H665.5V463H667.5V465.4H669.5V464.5H671.5V465.3H673.5V466.5H675.5V466.1H677.5V464.1H679.5V465.2H681.5V467.3H683.5V467.5H685.5V464.9H687.5V466H689.5V465.5H691.5V467.9H693.5V466.4H695.5V464.5H697.5V467.1H699.5V465.9H701.5V465.5H703.5V467.2H705.5V466.7H707.5V465.8H711.5V466.2H713.5V466.5H715.5V466.7H719.5V466.6H721.5V466.9H723.5V468.7H725.5V468.1H727.5V467.9H729.5V467.5H731.5V467.9H733.5V468.4H735.5V468.3H737.5V467.2H739.5V467.7H741.5V468.3H743.5V467.8H745.5V468.3H747.5V468.6H749.5V468.7H751.5V467.3H753.5V468.1H755.5V468.5H757.5V468.8H759.5V470.1H761.5V469.6H763.5V469.8H765.5V468H767.5V468.3H769.5V469.3H771.5V467.5H773.5V468.4H775.5V468.7H777.5V469.8H779.5V469H781.5V469.1H783.5V470.2H787.5V470.6H789.5V469.8H791.5V469.7H793.5V470.8H795.5V468.5H797.5V469.5H799.5V471.2H803.5V471.5H805.5V470.9H807.5V470.2H809.5V470.5H811.5V471.8H813.5V470.9H815.5V468.5H817.5V470H819.5V469.5H821.5V470H823.5V469.5H825.5V471H827.5V469.3H829.5V468.9H831.5V468.2H833.5V467.6H835.5V467.2H837.5V467.6H839.5V466.5H841.5V465.5H843.5V466.7H845.5V465.5H847.5V464.9H849.5V464.3H851.5V464H853.5V464.1H855.5V462.8H857.5V464.8H859.5V464.2H861.5V463.4H863.5V464.1H865.5V463.8H867.5V464.1H869.5V463.1H871.5V463.8H873.5V464.5H875.5V465.2H877.5V466H879.5V465.9H881.5V464.4H883.5V463.4H885.5V464.6H887.5V464.5H889.5V464.8H891.5V464.4H893.5V464.1H895.5V463.4H897.5V464.3H899.5V464.6H901.5V466.1H903.5V467.4H905.5V467.5H907.5V469.3H909.5V469.4H911.5V470H913.5V470.3H915.5V469.1H917.5V468.6H919.5V469.6H921.5V469.1H923.5V469.5H925.5V468.8H927.5V468H929.5V469.1H931.5V470.6H935.5V470.8H937.5V469.2H939.5V468.9H941.5V468.7H943.5V470.1H945.5V468.5H947.5V471.6H949.5V470.5H951.5V471.8H953.5V470.7H955.5V472.2H957.5V472.4H959.5V471.9H961.5V472H963.5V471.6H965.5V469.5H967.5V470.3H969.5V470.5H971.5V470.1H973.5V471.4H975.5V471.2H977.5V471.5H979.5V471.1H981.5V470.1H983.5V472.3H985.5V471.4H987.5V472H989.5V470.6H991.5V470.7H993.5V470.4H995.5V470.2H997.5V471.1H999.5V470.7H1001.5V470.1H1003.5V470.9H1005.5V469.1H1007.5V470.2H1009.5V469.4H1011.5V469.8H1013.5V471.2H1015.5V471.5H1017.5V470.8H1019.5V473.7H1021.5V474.3H1023.5V470.6H1025.5V473.1H1027.5V470.8H1029.5V471.2H1033.5V470.6H1035.5V473.5H1037.5V473H1039.5V472.3H1041.5V472.6H1043.5V471.4H1045.5V471.6H1047.5V472H1049.5V469.9H1051.5V471.1H1053.5V471.9H1055.5V472.4H1057.5V473.3H1059.5V472.2H1061.5V472H1063.5V472.4H1065.5V472.1H1067.5V472H1069.5V472.9H1071.5V473.4H1073.5V472.3H1075.5V471.6H1077.5V472.1H1079.5V469.9H1081.5V471.6H1083.5V469.8H1085.5V472.5H1087.5V470.3H1089.5V470.4H1091.5V469.8H1093.5V468.4H1095.5V471.1H1097.5V472.7H1099.5V470.4H1101.5V471.8H1105.5V468.5H1107.5V470.5H1109.5V471.6H1111.5V471.7H1113.5V471.2H1115.5V471.1H1117.5V469H1119.5V469.8H1121.5V470.8H1123.5V470H1125.5V471.3H1127.5V470.2H1129.5V468.3H1131.5V468.8H1133.5V469.3H1135.5V468.2H1139.5V472.1H1141.5V471.9H1143.5V469.3H1145.5V459.4H1147.5V458H1149.5V452H1151.5V449.5H1153.5V452.3H1155.5V452.9H1157.5V445.1H1159.5V444.5ZM1161.5 444.5V444.5H1163.5V445.4H1165.5V444.5Z" fill="#1f968b"/>
<path d="M163.5 444.5V453.5H165.5V453.9H167.5V453.2H169.5V452.2H171.5V452.9H173.5V453.2H175.5V453.1H177.5V454.6H179.5V455.3H181.5V453.2H183.5V456.1H185.5V454.9H187.5V454.1H189.5V453.3H191.5V454.9H193.5V456.6H195.5V454.8H197.5V454.1H199.5V454.5H201.5V454.3H203.5V451.5H205.5V452H207.5V452.8H209.5V451.5H211.5V450.7H213.5V451.1H215.5V451.2H217.5V450.6H219.5V449.6H221.5V450.6H223.5V450.4H225.5V449.6H227.5V450.4H229.5V450.5H231.5V451.3H233.5V451.6H235.5V451.4H237.5V451H239.5V450.4H241.5V451.2H243.5V452.4H245.5V451.6H247.5V451.9H249.5V452.3H251.5V452.2H253.5V453H255.5V452.3H257.5V451.9H259.5V452.8H261.5V451.9H263.5V451.1H265.5V451.6H267.5V452.7H269.5V452.2H273.5V451.7H275.5V451.4H279.5V450.7H281.5V452.2H283.5V453.2H285.5V454.1H287.5V453.8H289.5V454.3H291.5V454.9H293.5V454.3H295.5V455.5H299.5V456.1H301.5V456H303.5V456.6H305.5V456.1H307.5V455.2H309.5V455.4H311.5V456.2H313.5V456.3H315.5V455.1H317.5V456.5H319.5V456.1H321.5V455.7H325.5V457.5H327.5V456.3H329.5V456.8H331.5V457.9H333.5V455.5H335.5V457H337.5V455.8H339.5V456.5H341.5V457.3H343.5V458.8H345.5V457H347.5V457.8H349.5V458H351.5V458.7H353.5V457.9H355.5V457.6H357.5V458H359.5V457.8H361.5V457.3H363.5V457H365.5V458H367.5V458.4H369.5V458.2H373.5V457.1H375.5V457.8H377.5V458.7H379.5V457.9H381.5V457.3H383.5V458.9H385.5V458.7H387.5V459.7H389.5V457.7H391.5V456.7H393.5V456.2H395.5V457.9H397.5V458.9H399.5V456.5H401.5V456.8H403.5V457.1H405.5V457H407.5V457.1H409.5V457.3H411.5V457.1H413.5V458.1H415.5V457.2H417.5V457.6H419.5V456.7H421.5V457.4H423.5V456.3H425.5V456.6H427.5V457.6H429.5V456.8H431.5V457.4H433.5V457.3H435.5V457.7H437.5V457.3H443.5V457H445.5V457.1H447.5V457H449.5V456.5H451.5V456.3H453.5V456.1H455.5V456.5H457.5V456.8H459.5V456.5H461.5V457.3H463.5V457H465.5V456.9H467.5V456.2H469.5V455.9H471.5V456.2H473.5V457.1H475.5V456.8H477.5V456.9H479.5V457.3H481.5V456.4H483.5V456.7H485.5V456.4H487.5V456.5H493.5V456.2H495.5V455.9H497.5V456.3H499.5V456.2H503.5V456H505.5V456.1H507.5V456.2H509.5V456.1H511.5V456.3H513.5V456.2H515.5V456.3H517.5V456.2H519.5V456H521.5V456.3H523.5V456.4H527.5V455.8H529.5V456.3H531.5V455.9H533.5V456H535.5V456.4H537.5V456.2H539.5V456.5H541.5V456.4H543.5V456.2H545.5V456.1H547.5V456.8H549.5V456.7H551.5V456.4H553.5V456.8H555.5V456.4H557.5V457.3H559.5V456.5H561.5V457.2H563.5V457H565.5V456.3H567.5V456.6H569.5V456.7H571.5V456.5H573.5V456.4H575.5V456.7H577.5V456.5H581.5V456.6H583.5V456.7H585.5V456.4H587.5V456.8H589.5V456.6H591.5V456.9H593.5V457.5H597.5V456.8H599.5V456.5H601.5V456.6H603.5V456.5H607.5V456.4H609.5V456.1H611.5V456.2H613.5V455.8H615.5V456H617.5V455.7H619.5V455.4H621.5V455.7H623.5V456H627.5V455.4H629.5V455.3H633.5V456H635.5V461.3H637.5V466.6H639.5V470.1H641.5V466.2H643.5V457.1H645.5V456.2H647.5V458.3H649.5V459.8H651.5V460.2H653.5V459H655.5V458.2H657.5V461.5H659.5V461H661.5V460.7H663.5V456.3H665.5V454.4H667.5V461.1H669.5V461.8H671.5V460.5H673.5V462.2H675.5V462.3H677.5V458.9H679.5V458.5H681.5V462.7H683.5V464.2H685.5V462.4H687.5V461.4H689.5V463H691.5V465H693.5V462.7H695.5V458.2H697.5V464.4H699.5V461.9H701.5V461.4H703.5V464.9H705.5V464.7H707.5V464.2H711.5V464.4H713.5V464.7H715.5V464.9H719.5V463.9H721.5V465.1H723.5V466.7H725.5V466.2H727.5V465.9H729.5V465.5H731.5V466.1H733.5V466.6H735.5V466.3H737.5V465.6H739.5V466H741.5V466.4H743.5V466H745.5V466.6H747.5V467H749.5V466.9H751.5V465.8H753.5V466.3H755.5V466.7H757.5V467.2H759.5V468.1H761.5V467.8H763.5V468H765.5V466.6H767.5V466.5H769.5V467.1H771.5V466.1H773.5V466.8H775.5V467.2H777.5V468.2H779.5V467.6H781.5V467.5H783.5V468.5H785.5V468.7H787.5V468.8H789.5V468.2H791.5V468H793.5V469H795.5V467.3H797.5V468.2H799.5V469.6H803.5V469.8H805.5V469.3H807.5V468.7H809.5V469H811.5V469.9H813.5V469.3H815.5V467.4H817.5V468.7H819.5V468.2H821.5V468.4H823.5V468H825.5V469.3H827.5V467.8H829.5V467.2H831.5V466.7H833.5V466.1H835.5V465.7H837.5V466.1H839.5V465.2H841.5V464.3H843.5V465.4H845.5V464.4H847.5V463.8H849.5V463.4H851.5V463.1H855.5V462.1H857.5V463.8H859.5V463.3H861.5V462.6H863.5V463.2H865.5V462.9H867.5V463.2H869.5V462.3H871.5V462.9H873.5V463.5H875.5V464.1H877.5V464.9H879.5V464.8H881.5V463.5H883.5V462.6H885.5V463.6H887.5V463.5H889.5V463.8H891.5V463.4H893.5V463.1H895.5V462.5H897.5V463.3H899.5V463.7H901.5V465H903.5V466H905.5V466.1H907.5V467.8H909.5V467.9H911.5V468.4H913.5V468.8H915.5V467.8H917.5V467.3H919.5V468.1H921.5V467.7H923.5V468.1H925.5V467.4H927.5V466.7H929.5V467.7H931.5V469.1H933.5V469H935.5V469.2H937.5V467.9H939.5V467.6H941.5V467.4H943.5V468.7H945.5V467.3H947.5V470H949.5V469.1H951.5V470.2H953.5V469.2H955.5V470.5H957.5V470.7H959.5V470.2H961.5V470.4H963.5V470H965.5V468.2H967.5V468.8H969.5V469.2H971.5V468.8H973.5V470H975.5V469.9H977.5V470H979.5V469.7H981.5V468.7H983.5V470.6H985.5V470H987.5V470.5H989.5V469.2H991.5V469.3H993.5V469.1H997.5V470H999.5V469.7H1001.5V469H1003.5V469.5H1005.5V468H1007.5V469.1H1009.5V468.4H1011.5V468.7H1013.5V470H1015.5V470.3H1017.5V469.7H1019.5V472.3H1021.5V472.9H1023.5V469.6H1025.5V471.8H1027.5V469.8H1029.5V470H1033.5V469.5H1035.5V472.2H1037.5V471.7H1039.5V471H1041.5V471.2H1043.5V470.2H1045.5V470.3H1047.5V470.6H1049.5V468.8H1051.5V469.9H1053.5V470.6H1055.5V471.1H1057.5V471.8H1059.5V470.8H1061.5V470.5H1063.5V470.8H1067.5V470.6H1069.5V471.2H1071.5V471.6H1073.5V470.6H1075.5V470H1077.5V470.4H1079.5V468.4H1081.5V469.8H1083.5V468.3H1085.5V470.6H1087.5V468.6H1089.5V468.7H1091.5V468.2H1093.5V466.9H1095.5V469H1097.5V470.4H1099.5V468.5H1101.5V469.6H1103.5V469.4H1105.5V466.5H1107.5V468H1109.5V469.1H1111.5V469.3H1113.5V468.8H1115.5V468.3H1117.5V467.1H1119.5V467.5H1121.5V467.8H1123.5V467.4H1125.5V464.8H1127.5V464.7H1129.5V461.5H1131.5V456H1133.5V454.4H1135.5V451.6H1137.5V449.7H1139.5V454.6H1141.5V455.6H1143.5V451.4H1145.5V444.5Z" fill="#1e9c89"/>
<path d="M163.5 444.5V452.5H165.5V452.4H167.5V451.7H169.5V450.9H171.5V451.6H173.5V451.9H175.5V451.6H177.5V453.4H179.5V454H181.5V452.6H183.5V454.7H185.5V453.7H187.5V452.9H189.5V452.1H191.5V454.2H193.5V455.6H195.5V453.9H197.5V453.3H199.5V453.5H201.5V452.7H203.5V450H205.5V451.2H207.5V451.9H209.5V450.9H211.5V450.2H213.5V450.5H215.5V450.6H217.5V450H219.5V449H221.5V450H223.5V449.8H225.5V448.9H227.5V449.8H229.5V449.9H231.5V450.7H233.5V451H235.5V450.8H237.5V450.4H239.5V449.8H241.5V450.7H243.5V451.5H245.5V451H247.5V451.3H249.5V451.4H251.5V451.3H253.5V452.2H255.5V451.6H257.5V451.2H259.5V451.8H261.5V451.2H263.5V450.4H265.5V451H267.5V451.8H269.5V451.4H273.5V451.1H275.5V450.8H279.5V450.2H281.5V451.4H283.5V452.6H285.5V453.6H287.5V453.5H289.5V454H291.5V454.5H293.5V454H295.5V455.1H297.5V455.2H299.5V455.7H301.5V455.6H303.5V456.2H305.5V455.7H307.5V454.9H309.5V455H311.5V455.8H313.5V455.9H315.5V454.8H317.5V456.1H319.5V455.7H321.5V455.3H323.5V455.4H325.5V457.1H327.5V456H329.5V456.5H331.5V457.5H333.5V455.3H335.5V456.7H337.5V455.6H339.5V456.2H341.5V456.9H343.5V458.4H345.5V456.7H347.5V457.5H349.5V457.6H351.5V458.2H353.5V457.6H355.5V457.3H357.5V457.6H359.5V457.5H361.5V457H363.5V456.7H365.5V457.6H367.5V458H369.5V457.8H371.5V457.9H373.5V456.8H375.5V457.4H377.5V458.3H379.5V457.6H381.5V457H383.5V458.5H385.5V458.3H387.5V459.2H389.5V457.4H391.5V456.4H393.5V456H395.5V457.5H397.5V458.4H399.5V456.3H401.5V456.6H403.5V456.8H405.5V456.7H407.5V456.8H409.5V456.9H411.5V456.8H413.5V457.6H415.5V456.8H417.5V457.2H419.5V456.4H421.5V457H423.5V456H425.5V456.3H427.5V457.1H429.5V456.4H431.5V457H433.5V456.8H435.5V457.2H437.5V456.9H439.5V456.8H443.5V456.5H445.5V456.6H449.5V456.1H451.5V455.9H453.5V455.7H455.5V456.1H457.5V456.3H459.5V456.1H461.5V456.8H463.5V456.5H465.5V456.4H467.5V455.7H469.5V455.5H471.5V455.8H473.5V456.5H475.5V456.3H477.5V456.4H479.5V456.7H481.5V455.9H483.5V456.1H485.5V455.8H487.5V456H493.5V455.7H495.5V455.4H497.5V455.7H503.5V455.5H507.5V455.7H509.5V455.5H511.5V455.7H515.5V455.8H517.5V455.6H519.5V455.4H521.5V455.7H527.5V455.2H529.5V455.7H531.5V455.3H533.5V455.4H535.5V455.8H537.5V455.6H539.5V455.7H541.5V455.8H543.5V455.6H545.5V455.4H547.5V456H551.5V455.8H553.5V456H555.5V455.7H557.5V456.4H559.5V455.9H561.5V456.4H563.5V456.2H565.5V455.6H567.5V455.9H569.5V456H571.5V455.8H573.5V455.7H575.5V455.9H577.5V455.7H579.5V455.8H581.5V455.9H585.5V455.7H587.5V456H589.5V455.8H591.5V456.1H593.5V456.6H597.5V455.9H599.5V455.7H605.5V455.6H607.5V455.5H609.5V455.4H613.5V454.9H615.5V455.2H617.5V454.9H619.5V454.8H621.5V455H623.5V455.1H627.5V454.7H629.5V454.3H631.5V454.6H633.5V454.4H635.5V458.9H637.5V464.3H639.5V469H641.5V460.4H643.5V451.4H645.5V450.9H647.5V452.5H649.5V451.3H651.5V450H653.5V449.8H655.5V448.7H657.5V450.4H661.5V450.1H663.5V446.9H665.5V446.6H667.5V450.2H669.5V453.4H671.5V450.1H673.5V450.4H677.5V448.6H679.5V447.5H681.5V450.5H683.5V457.6H685.5V452.5H687.5V450.2H689.5V453.4H691.5V458.1H693.5V450.5H695.5V447.2H697.5V452.6H699.5V450.3H701.5V449.9H703.5V452.2H705.5V453.4H707.5V451.5H709.5V451.8H711.5V452.3H713.5V453H715.5V455.3H717.5V453.8H719.5V451.3H721.5V455.3H723.5V462.7H725.5V461.2H727.5V457H729.5V455.8H731.5V460.9H733.5V464.1H735.5V458.7H737.5V457.9H739.5V460H741.5V460.2H743.5V458.7H745.5V462H747.5V465.3H749.5V463.4H751.5V458.9H753.5V458.6H755.5V462.8H757.5V465.5H759.5V466.1H761.5V466H763.5V466.2H765.5V465.1H767.5V459.1H769.5V458.9H771.5V462.5H773.5V465.3H775.5V465.8H777.5V466.7H779.5V466.2H781.5V465.9H783.5V466.9H785.5V467.2H787.5V467.1H789.5V466.6H791.5V466.4H793.5V467.2H795.5V466.2H797.5V466.9H799.5V468H803.5V468.2H805.5V467.7H807.5V467.1H809.5V467.4H811.5V468.1H813.5V467.6H815.5V466.3H817.5V467.3H819.5V467H821.5V466.9H823.5V466.4H825.5V467.6H827.5V466.2H829.5V465.5H831.5V465.2H833.5V464.6H835.5V464.2H837.5V464.6H839.5V463.8H841.5V463.1H843.5V464.1H845.5V463.2H847.5V462.7H849.5V462.4H851.5V462.2H855.5V461.4H857.5V462.7H859.5V462.3H861.5V461.8H863.5V462.2H865.5V462H867.5V462.3H869.5V461.6H871.5V462H873.5V462.5H875.5V463.1H877.5V463.7H879.5V463.6H881.5V462.6H883.5V461.8H885.5V462.6H887.5V462.5H889.5V462.8H891.5V462.5H893.5V462.2H895.5V461.7H897.5V462.4H899.5V462.7H901.5V463.9H903.5V464.7H905.5V464.8H907.5V466.2H909.5V466.4H911.5V466.8H913.5V467.3H915.5V466.5H917.5V465.9H919.5V466.6H921.5V466.4H923.5V466.7H925.5V466H927.5V465.4H929.5V466.3H931.5V467.6H933.5V467.5H935.5V467.6H937.5V466.6H939.5V466.3H941.5V466.2H943.5V467.2H945.5V466.1H947.5V468.4H949.5V467.7H951.5V468.6H953.5V467.7H955.5V468.8H957.5V469H959.5V468.6H961.5V468.9H963.5V468.5H965.5V466.8H967.5V467.4H969.5V467.8H971.5V467.6H973.5V468.6H975.5V468.5H977.5V468.6H979.5V468.2H981.5V467.3H983.5V468.9H985.5V468.5H987.5V469H989.5V467.8H991.5V467.9H993.5V467.8H995.5V467.9H997.5V468.8H999.5V468.5H1001.5V467.8H1003.5V468.2H1005.5V467H1007.5V468H1009.5V467.3H1011.5V467.6H1013.5V468.8H1015.5V469.1H1017.5V468.6H1019.5V470.9H1021.5V471.4H1023.5V468.5H1025.5V470.4H1027.5V468.7H1029.5V468.8H1031.5V468.7H1033.5V468.3H1035.5V470.7H1037.5V470.3H1039.5V469.7H1041.5V469.8H1043.5V468.9H1045.5V469H1047.5V469.3H1049.5V467.7H1051.5V468.6H1053.5V469.2H1055.5V469.7H1057.5V470.2H1059.5V469.3H1061.5V469H1063.5V469.3H1067.5V469.1H1069.5V469.6H1071.5V469.9H1073.5V469H1075.5V468.4H1077.5V468.6H1079.5V467H1081.5V468H1083.5V466.8H1085.5V468.6H1087.5V466.8H1089.5V467H1091.5V466.7H1093.5V465.4H1095.5V467H1097.5V468.2H1099.5V466.5H1101.5V467.4H1103.5V467.1H1105.5V464.6H1107.5V465.5H1109.5V466.7H1111.5V466.9H1113.5V466.3H1115.5V462.5H1117.5V461.7H1119.5V459H1121.5V455H1123.5V453H1125.5V448.9H1127.5V449H1129.5V445.6H1131.5V444.5Z" fill="#1fa187"/>
<path d="M163.5 444.5V451.2H165.5V451H167.5V450.3H169.5V449.6H171.5V450.3H173.5V450.6H175.5V450.2H177.5V452.2H179.5V452.7H181.5V451.9H183.5V453.3H185.5V452.6H187.5V451.6H189.5V450.8H191.5V453.4H193.5V454.6H195.5V453H197.5V452.4H199.5V452.5H201.5V451.3H203.5V448.4H205.5V450.3H207.5V451.3H209.5V450.4H211.5V449.7H213.5V450H217.5V449.4H219.5V448.4H221.5V449.4H223.5V449.2H225.5V448.3H227.5V449.2H229.5V449.3H231.5V450.1H233.5V450.4H235.5V450.2H237.5V449.8H239.5V449.2H241.5V450.2H243.5V451H245.5V450.4H247.5V450.7H249.5V450.9H251.5V450.8H253.5V451.5H255.5V451.1H257.5V450.6H259.5V451.2H261.5V450.7H263.5V449.8H265.5V450.4H267.5V451.2H269.5V450.9H271.5V450.8H273.5V450.6H275.5V450.2H277.5V450.3H279.5V449.6H281.5V450.7H283.5V452H285.5V453H287.5V453.1H289.5V453.6H291.5V454.2H293.5V453.7H295.5V454.7H297.5V454.8H299.5V455.3H301.5V455.2H303.5V455.8H305.5V455.3H307.5V454.5H309.5V454.7H311.5V455.4H313.5V455.5H315.5V454.4H317.5V455.7H319.5V455.3H321.5V455H323.5V455.1H325.5V456.6H327.5V455.6H329.5V456.2H331.5V457.1H333.5V455.1H335.5V456.3H337.5V455.3H339.5V455.9H341.5V456.6H343.5V457.9H345.5V456.4H347.5V457.1H349.5V457.3H351.5V457.8H353.5V457.2H355.5V456.9H357.5V457.3H359.5V457.1H361.5V456.6H363.5V456.4H365.5V457.3H367.5V457.6H369.5V457.4H371.5V457.5H373.5V456.5H375.5V457.1H377.5V457.9H379.5V457.2H381.5V456.7H383.5V458H385.5V457.8H387.5V458.7H389.5V457H391.5V456.1H393.5V455.8H395.5V457.1H397.5V457.9H399.5V456H401.5V456.2H403.5V456.4H405.5V456.3H407.5V456.4H409.5V456.5H411.5V456.4H413.5V457.2H415.5V456.5H417.5V456.7H419.5V456H421.5V456.6H423.5V455.7H425.5V455.9H427.5V456.7H429.5V456H431.5V456.5H433.5V456.4H435.5V456.7H437.5V456.4H443.5V456.1H445.5V456.2H447.5V456.1H449.5V455.7H451.5V455.5H453.5V455.4H455.5V455.7H457.5V455.9H459.5V455.6H461.5V456.3H463.5V456H465.5V455.9H467.5V455.3H469.5V455.2H471.5V455.3H473.5V455.9H475.5V455.7H477.5V455.9H479.5V456.1H481.5V455.4H483.5V455.6H485.5V455.3H487.5V455.5H489.5V455.4H493.5V455.1H495.5V454.9H497.5V455.2H499.5V455.1H503.5V455H507.5V455.1H509.5V455H511.5V455.1H515.5V455.2H517.5V455H519.5V454.8H521.5V455H523.5V455.1H525.5V454.9H527.5V454.6H529.5V455H531.5V454.7H533.5V454.8H535.5V455.1H537.5V454.9H539.5V455H541.5V455.2H543.5V455H545.5V454.8H547.5V455.2H549.5V455.4H551.5V455.2H553.5V455.3H555.5V455H557.5V455.5H559.5V455.2H561.5V455.7H563.5V455.5H565.5V455H567.5V455.2H571.5V455.1H573.5V454.3H575.5V455.1H577.5V454.8H579.5V454.9H581.5V455H583.5V454.4H585.5V454.3H587.5V454.1H589.5V453.9H591.5V454.9H593.5V455.8H595.5V455.3H597.5V452.9H599.5V453.1H601.5V452.4H603.5V452.5H605.5V452.4H607.5V452.1H609.5V453.1H611.5V451.9H613.5V450.9H615.5V452.3H617.5V451.4H619.5V451.2H621.5V452H623.5V451.3H625.5V451.8H627.5V450.9H629.5V450.6H631.5V450.9H633.5V450.3H635.5V452.1H637.5V454.7H639.5V457.5H641.5V451H643.5V445.2H645.5V444.5ZM683.5 444.5V446H685.5V444.5ZM691.5 444.5V445.9H693.5V444.5ZM723.5 444.5V450.4H725.5V448.5H727.5V444.5ZM731.5 444.5V447.8H733.5V451.6H735.5V444.9H737.5V445.2H739.5V445.4H741.5V445.6H743.5V445.8H745.5V447.9H747.5V453.3H749.5V449.2H751.5V446.8H755.5V449.8H757.5V452.8H759.5V452.3H761.5V453.8H763.5V456.1H765.5V452.7H767.5V447.2H769.5V447.1H771.5V449.1H773.5V453H775.5V456.9H777.5V462H779.5V461.6H781.5V456.9H783.5V462.8H785.5V465.6H787.5V461.4H789.5V460.8H791.5V459.1H793.5V462.1H795.5V465H797.5V465.6H799.5V466.4H801.5V466.3H803.5V466.6H805.5V466.1H807.5V465.6H809.5V465.8H811.5V466.2H813.5V465.9H815.5V465.2H817.5V466H819.5V465.8H821.5V465.3H823.5V464.9H825.5V465.9H827.5V464.6H829.5V463.8H831.5V463.6H833.5V463H835.5V462.7H837.5V463.1H839.5V462.5H841.5V462H843.5V462.8H845.5V462H847.5V461.6H849.5V461.5H851.5V461.3H855.5V460.6H857.5V461.7H859.5V461.4H861.5V461H863.5V461.3H865.5V461.1H867.5V461.4H869.5V460.8H871.5V461.2H873.5V461.5H875.5V462.1H877.5V462.6H879.5V462.5H881.5V461.7H883.5V461H885.5V461.7H887.5V461.6H889.5V461.8H891.5V461.6H893.5V461.3H895.5V460.9H897.5V461.4H899.5V461.7H901.5V462.7H903.5V463.4H907.5V464.7H909.5V464.9H911.5V465.2H913.5V465.7H915.5V465.1H917.5V464.6H919.5V465.2H921.5V465H923.5V465.3H925.5V464.5H927.5V464.1H929.5V464.9H931.5V466.1H933.5V465.9H935.5V466H937.5V465.3H939.5V465H941.5V464.9H943.5V465.7H945.5V464.9H947.5V466.8H949.5V466.2H951.5V467H953.5V466.2H955.5V467H957.5V467.2H959.5V466.9H961.5V467.3H963.5V466.9H965.5V465.4H967.5V466H969.5V466.5H971.5V466.4H973.5V467.2H975.5V467.1H979.5V466.8H981.5V466H983.5V467.2H985.5V467.1H987.5V467.5H989.5V466.4H991.5V466.5H993.5V466.6H995.5V466.8H997.5V467.6H999.5V467.4H1001.5V466.7H1003.5V466.8H1005.5V465.9H1007.5V466.9H1009.5V466.3H1011.5V466.5H1013.5V467.5H1015.5V467.8H1017.5V467.4H1019.5V469.4H1021.5V470H1023.5V467.4H1025.5V469H1027.5V467.6H1031.5V467.4H1033.5V467.1H1035.5V469.3H1037.5V468.9H1039.5V468.3H1041.5V468.4H1043.5V467.6H1047.5V467.9H1049.5V466.6H1051.5V467.3H1053.5V467.9H1055.5V468.3H1057.5V468.6H1059.5V467.9H1061.5V467.5H1063.5V467.7H1065.5V467.9H1067.5V467.7H1069.5V467.9H1071.5V468.1H1073.5V467.3H1075.5V466.8H1077.5V466.9H1079.5V465.6H1081.5V466.3H1083.5V465.3H1085.5V466.6H1087.5V465.1H1089.5V465.3H1091.5V465.2H1093.5V463.9H1095.5V465H1097.5V465.9H1099.5V464.6H1101.5V465.2H1103.5V464.7H1105.5V453.7H1107.5V453.8H1109.5V458.6H1111.5V459.1H1113.5V453.5H1115.5V448.7H1117.5V446H1119.5V444.7H1121.5V444.5Z" fill="#22a785"/>
<path d="M163.5 444.5V450H165.5V449.7H167.5V448.9H169.5V448.2H171.5V449H173.5V449.3H175.5V448.7H177.5V451H179.5V451.5H181.5V450.8H183.5V452H185.5V451.4H187.5V450.3H189.5V449.5H191.5V452.6H193.5V453.7H195.5V452H197.5V451.3H201.5V449.9H203.5V447.3H205.5V449.5H207.5V450.7H209.5V449.9H211.5V449.2H213.5V449.4H215.5V449.5H217.5V448.8H219.5V447.8H221.5V448.8H223.5V448.5H225.5V447.7H227.5V448.6H229.5V448.7H231.5V449.5H233.5V449.9H235.5V449.6H237.5V449.2H239.5V448.6H241.5V449.7H243.5V450.5H245.5V449.9H247.5V450.1H249.5V450.4H251.5V450.3H253.5V451H255.5V450.6H257.5V450.1H259.5V450.7H261.5V450.1H263.5V449.1H265.5V449.8H267.5V450.7H269.5V450.3H273.5V450H275.5V449.6H277.5V449.7H279.5V449.1H281.5V450.1H283.5V451.4H285.5V452.5H287.5V452.8H289.5V453.3H291.5V453.9H293.5V453.4H295.5V454.4H299.5V454.9H301.5V454.8H303.5V455.4H305.5V454.9H307.5V454.2H309.5V454.3H311.5V455H313.5V455.1H315.5V454.1H317.5V455.3H319.5V454.9H321.5V454.6H323.5V454.8H325.5V456.2H327.5V455.3H329.5V455.8H331.5V456.7H333.5V454.8H335.5V456H337.5V455.1H339.5V455.6H341.5V456.2H343.5V457.5H345.5V456.1H347.5V456.7H349.5V456.9H351.5V457.4H353.5V456.8H355.5V456.5H357.5V456.9H359.5V456.7H361.5V456.3H363.5V456.1H365.5V456.9H367.5V457.2H369.5V457H371.5V457.1H373.5V456.2H375.5V456.7H377.5V457.5H379.5V456.9H381.5V456.4H383.5V457.6H385.5V457.4H387.5V458.2H389.5V456.6H391.5V455.8H393.5V455.5H395.5V456.7H397.5V457.4H399.5V455.7H401.5V455.9H403.5V456.1H405.5V456H407.5V456.1H411.5V456H413.5V456.7H415.5V456.1H417.5V456.3H419.5V455.7H421.5V456.2H423.5V455.3H425.5V455.6H427.5V456.2H429.5V455.6H431.5V456.1H433.5V455.9H435.5V456.3H437.5V456H439.5V455.9H443.5V455.6H445.5V455.8H447.5V455.7H449.5V455.3H451.5V455.2H453.5V455H455.5V455.3H457.5V455.4H459.5V455.2H461.5V455.7H463.5V455.5H465.5V455.4H467.5V454.9H469.5V454.8H471.5V454.9H473.5V455.3H475.5V455.2H477.5V455.3H479.5V455.5H481.5V454.9H483.5V455H485.5V454.7H487.5V454.9H491.5V454.8H493.5V454.6H495.5V454.4H497.5V454.6H503.5V454.4H507.5V454.5H509.5V454.4H511.5V454.5H515.5V454.6H517.5V454.4H519.5V454.2H521.5V454.4H525.5V453.7H527.5V453.4H529.5V454.3H531.5V454.1H533.5V454.2H535.5V454.5H537.5V453.5H539.5V453.2H541.5V454.5H543.5V454.4H545.5V452.4H547.5V453.3H549.5V454.7H551.5V454.6H553.5V453.7H555.5V452.8H557.5V453.3H559.5V453.7H561.5V454.9H563.5V453.8H565.5V452.9H567.5V452.6H569.5V451.9H571.5V451.4H573.5V450.4H575.5V451H577.5V450.8H579.5V450.7H583.5V450.2H585.5V450.1H587.5V449.9H589.5V449.7H591.5V450.6H593.5V453H595.5V451H597.5V448.8H599.5V448.7H601.5V448.3H603.5V448.4H605.5V448.2H607.5V448.1H609.5V449H611.5V447.9H613.5V446.3H615.5V448.2H617.5V445.9H619.5V445.7H621.5V448H623.5V445.3H625.5V447.8H627.5V445H629.5V444.8H631.5V445H633.5V444.5ZM639.5 444.5V445H641.5V444.5ZM777.5 444.5V448.7H779.5V448.3H781.5V444.9H783.5V449H785.5V454.2H787.5V445.8H789.5V446.8H791.5V446.6H793.5V448.9H795.5V452.4H797.5V455.9H799.5V458.8H801.5V457.6H803.5V458.7H805.5V456H807.5V453.4H809.5V454.2H811.5V453.7H813.5V454H815.5V455.9H817.5V458.2H819.5V459.7H821.5V455H823.5V455.8H825.5V463.7H827.5V459.8H829.5V455.7H831.5V460H833.5V459.2H837.5V461.7H839.5V461.2H841.5V460.8H843.5V461.5H845.5V460.8H847.5V460.5H851.5V460.4H855.5V459.9H857.5V460.7H859.5V460.5H861.5V460.2H863.5V460.3H865.5V460.2H867.5V460.5H869.5V460.1H871.5V460.3H873.5V460.5H875.5V461H877.5V461.4H879.5V461.3H881.5V460.8H883.5V460.2H885.5V460.7H887.5V460.6H889.5V460.8H891.5V460.6H893.5V460.3H895.5V460.1H897.5V460.5H899.5V460.7H901.5V461.6H903.5V462H907.5V463.1H909.5V463.4H911.5V463.7H913.5V464.2H915.5V463.8H917.5V463.3H919.5V463.7H923.5V463.9H925.5V463.1H927.5V462.8H929.5V463.5H931.5V464.6H933.5V464.3H935.5V464.4H937.5V463.9H939.5V463.7H943.5V464.3H945.5V463.7H947.5V465.2H949.5V464.8H951.5V465.4H953.5V464.7H955.5V465.3H957.5V465.5H959.5V465.3H961.5V465.7H963.5V465.4H965.5V464H967.5V464.5H969.5V465.2H971.5V465.1H973.5V465.8H977.5V465.6H979.5V465.3H981.5V464.6H983.5V465.6H985.5V465.7H987.5V466H989.5V464.9H991.5V465.1H993.5V465.3H995.5V465.6H997.5V466.4H999.5V466.2H1001.5V465.5H1005.5V464.8H1007.5V465.8H1009.5V465.2H1011.5V465.3H1013.5V466.3H1015.5V466.6H1017.5V466.3H1019.5V468H1021.5V468.5H1023.5V466.2H1025.5V467.6H1027.5V466.5H1029.5V466.4H1031.5V466.1H1033.5V465.9H1035.5V467.9H1037.5V467.5H1039.5V467H1043.5V466.3H1047.5V466.5H1049.5V465.4H1051.5V466.1H1053.5V466.5H1055.5V466.9H1057.5V467.1H1059.5V466.4H1061.5V466H1063.5V466.1H1065.5V466.5H1067.5V466.3H1073.5V465.7H1075.5V465.2H1079.5V464.2H1081.5V464.5H1083.5V463.8H1085.5V464.7H1087.5V463.3H1089.5V463.7H1093.5V459.4H1095.5V459.8H1097.5V462H1099.5V457.5H1101.5V457.3H1103.5V451.7H1105.5V446.3H1107.5V445.4H1109.5V444.8H1111.5V445.2H1113.5V444.5Z" fill="#27ad81"/>
<path d="M163.5 444.5V448.8H165.5V448.4H167.5V447.4H169.5V446.9H171.5V447.7H173.5V448H175.5V447.2H177.5V449.8H179.5V450.3H181.5V449.8H183.5V450.8H185.5V450.2H187.5V449H189.5V448.2H191.5V451.8H193.5V452.7H195.5V450.9H197.5V450.2H199.5V450.1H201.5V448.5H203.5V446.6H205.5V448.7H207.5V450.2H209.5V449.5H211.5V448.7H213.5V448.9H217.5V448.3H219.5V447.6H221.5V448.2H223.5V447.9H225.5V447.5H227.5V448.1H229.5V448H231.5V448.9H233.5V449.3H235.5V449.1H237.5V448.6H239.5V448H241.5V449.2H243.5V450H245.5V449.4H247.5V449.5H249.5V449.8H251.5V449.7H253.5V450.5H255.5V450.1H257.5V449.5H259.5V450.1H261.5V449.6H263.5V448.5H265.5V449.2H267.5V450.2H269.5V449.8H271.5V449.7H273.5V449.5H275.5V448.9H277.5V449.1H279.5V448.6H281.5V449.5H283.5V450.8H285.5V451.9H287.5V452.4H289.5V453H291.5V453.5H293.5V453.1H295.5V454H299.5V454.4H303.5V454.9H305.5V454.5H307.5V453.8H309.5V453.9H311.5V454.6H315.5V453.8H317.5V454.9H319.5V454.5H321.5V454.2H323.5V454.4H325.5V455.7H327.5V454.9H329.5V455.5H331.5V456.3H333.5V454.6H335.5V455.7H337.5V454.8H339.5V455.3H341.5V455.9H343.5V457H345.5V455.8H347.5V456.3H349.5V456.5H351.5V456.9H353.5V456.4H355.5V456.2H357.5V456.5H359.5V456.3H361.5V456H363.5V455.8H365.5V456.5H367.5V456.8H369.5V456.6H371.5V456.7H373.5V455.9H375.5V456.4H377.5V457.1H379.5V456.5H381.5V456H383.5V457.1H385.5V456.9H387.5V457.6H389.5V456.2H391.5V455.5H393.5V455.3H395.5V456.4H397.5V456.9H399.5V455.4H401.5V455.6H403.5V455.8H405.5V455.7H409.5V455.8H411.5V455.7H413.5V456.3H415.5V455.7H417.5V455.8H419.5V455.4H421.5V455.7H423.5V455H425.5V455.2H427.5V455.8H429.5V455.3H431.5V455.6H433.5V455.5H435.5V455.8H437.5V455.6H439.5V455.4H443.5V455.2H445.5V455.3H449.5V454.9H451.5V454.8H453.5V454.7H455.5V454.9H459.5V454.8H461.5V455.2H463.5V455H465.5V454.9H467.5V454.5H469.5V454.4H473.5V454.7H477.5V454.8H479.5V454.9H481.5V454.4H485.5V454.2H487.5V454.4H491.5V454.3H493.5V454.1H495.5V453.9H497.5V454.1H499.5V454H503.5V453.8H505.5V453.4H507.5V453.5H509.5V453.6H511.5V453.4H513.5V453.9H517.5V452.6H519.5V451.8H521.5V452.2H523.5V451.8H525.5V450.1H527.5V449.8H529.5V451.2H531.5V450.9H535.5V451.7H537.5V449.9H539.5V449.6H541.5V451.4H543.5V450.7H545.5V448.7H547.5V449.6H549.5V451H551.5V451.2H553.5V449.7H555.5V448.9H557.5V449.2H559.5V449.8H561.5V451.2H563.5V450H565.5V449H567.5V448.6H569.5V446.9H571.5V445.6H573.5V445.3H575.5V445H577.5V444.7H579.5V444.5ZM593.5 444.5V449.1H595.5V444.7H597.5V444.5ZM799.5 444.5V445.4H801.5V444.6H803.5V445.2H805.5V444.5ZM817.5 444.5V444.6H819.5V445.4H821.5V445H823.5V445.4H825.5V451.1H827.5V447.8H829.5V446.4H831.5V449.2H833.5V449H835.5V448.9H837.5V452.8H839.5V453.2H841.5V454.8H843.5V458.8H845.5V457.5H847.5V457.6H849.5V459.6H851.5V459.5H853.5V459.4H855.5V459.2H857.5V459.7H859.5V459.5H861.5V459.4H863.5V458.4H865.5V458.5H867.5V459.6H869.5V459.3H871.5V459.4H873.5V459.1H875.5V460H877.5V460.3H879.5V460.2H881.5V459.9H883.5V459.4H885.5V459.7H887.5V459.6H889.5V459.8H891.5V459.7H893.5V458.4H897.5V459.3H899.5V459.8H901.5V460.4H903.5V459.6H905.5V457.9H907.5V461.1H909.5V461.9H911.5V462.1H913.5V462.7H915.5V462.5H917.5V461.9H919.5V462.2H921.5V462.4H923.5V462.5H925.5V461.7H927.5V461.4H929.5V462.2H931.5V463.1H933.5V462.8H935.5V462.7H937.5V462.6H939.5V462.5H941.5V462.4H943.5V462.8H945.5V462.6H947.5V463.6H949.5V463.3H951.5V463.7H953.5V463.1H955.5V463.6H957.5V463.7H959.5V463.6H961.5V464.1H963.5V463.8H965.5V462.6H967.5V463.1H969.5V463.8H971.5V463.9H973.5V464.4H977.5V464.2H979.5V463.9H981.5V463.2H983.5V463.9H985.5V464.3H987.5V464.5H989.5V463.5H991.5V463.7H993.5V464H995.5V464.4H997.5V465.2H999.5V465.1H1001.5V464.3H1003.5V464.1H1005.5V463.7H1007.5V464.7H1009.5V464.2H1013.5V465H1015.5V465.3H1017.5V465.1H1019.5V466.5H1021.5V467H1023.5V465.1H1025.5V466.2H1027.5V465.4H1029.5V465.3H1031.5V464.8H1033.5V464.7H1035.5V466.4H1037.5V466.1H1039.5V465.6H1043.5V465.1H1045.5V465H1047.5V465.1H1049.5V464.3H1051.5V464.8H1053.5V465.2H1055.5V465.5H1059.5V464.9H1061.5V464.5H1063.5V464.6H1065.5V465.1H1067.5V464.9H1069.5V464.6H1071.5V464.5H1073.5V464.1H1075.5V463.6H1077.5V463.5H1079.5V462.8H1081.5V460H1083.5V458.5H1085.5V458H1087.5V453H1089.5V454.8H1091.5V457.5H1093.5V448.6H1095.5V446.8H1097.5V449.7H1099.5V444.8H1101.5V444.7H1103.5V444.5Z" fill="#2eb37c"/>
<path d="M163.5 444.5V445.3H165.5V444.5ZM177.5 444.5V448.6H179.5V449H181.5V448.7H183.5V449.5H185.5V449H187.5V447.7H189.5V444.5ZM191.5 444.5V450.8H193.5V451.7H195.5V449.9H197.5V449.1H199.5V449H201.5V444.5ZM205.5 444.5V447.8H207.5V449.6H209.5V449H211.5V448.3H215.5V448.4H217.5V447.7H219.5V447.4H221.5V447.7H223.5V447.6H225.5V447.4H227.5V447.6H231.5V448.2H233.5V448.7H235.5V448.5H237.5V448H239.5V447.6H241.5V448.6H243.5V449.5H245.5V448.8H247.5V448.9H249.5V449.3H251.5V449.2H253.5V450H255.5V449.6H257.5V449H259.5V449.6H261.5V449.1H263.5V447.8H265.5V448.6H267.5V449.6H269.5V449.2H271.5V449.1H273.5V449H275.5V448.3H277.5V448.5H279.5V448H281.5V448.9H283.5V450.2H285.5V451.3H287.5V452H289.5V452.6H291.5V453.1H293.5V452.8H295.5V453.6H299.5V454H303.5V454.5H305.5V454.1H307.5V453.4H309.5V453.6H311.5V454.1H313.5V454.2H315.5V453.4H317.5V454.4H319.5V454.1H321.5V453.9H323.5V454.1H325.5V455.2H327.5V454.5H329.5V455.1H331.5V455.9H333.5V454.4H335.5V455.3H337.5V454.6H339.5V455H341.5V455.5H343.5V456.6H345.5V455.5H347.5V456H349.5V456.1H351.5V456.5H353.5V456.1H355.5V455.8H357.5V456.1H359.5V456H361.5V455.6H363.5V455.5H365.5V456.2H367.5V456.4H369.5V456.2H371.5V456.3H373.5V455.6H375.5V456H377.5V456.6H379.5V456.1H381.5V455.7H383.5V456.7H385.5V456.5H387.5V457.1H389.5V455.9H391.5V455.2H393.5V455H395.5V456H397.5V456.4H399.5V455.1H401.5V455.3H403.5V455.4H405.5V455.3H407.5V455.4H411.5V455.3H413.5V455.8H415.5V455.3H417.5V455.4H419.5V455H421.5V455.3H423.5V454.7H425.5V454.8H427.5V455.3H429.5V454.9H431.5V455.2H433.5V455H435.5V455.3H437.5V455.1H439.5V454.9H443.5V454.7H445.5V454.9H447.5V454.8H449.5V454.5H451.5V454.4H453.5V454.3H455.5V454.5H457.5V454.4H459.5V454.3H461.5V454.7H463.5V454.5H465.5V454.4H467.5V454.1H469.5V454H473.5V453.8H475.5V454.1H477.5V454.2H479.5V454.3H481.5V453.8H483.5V452.5H485.5V451.7H487.5V453.3H491.5V452.2H493.5V451.5H495.5V451.1H497.5V451.5H499.5V451.4H501.5V451.2H503.5V450.8H505.5V450.3H509.5V450.2H511.5V449.8H513.5V450.6H515.5V450.5H517.5V449H519.5V448.4H521.5V448.5H523.5V448.1H525.5V446.3H527.5V446.1H529.5V445.9H531.5V445.6H533.5V445.3H535.5V448H537.5V444.7H539.5V444.5ZM541.5 444.5V447.8H543.5V445H545.5V444.5ZM549.5 444.5V445.4H551.5V445.9H553.5V444.5ZM561.5 444.5V445.9H563.5V444.5ZM841.5 444.5V445H843.5V448.8H845.5V448.7H847.5V449.1H849.5V452H851.5V451.6H853.5V450.2H855.5V451.8H857.5V450.6H859.5V451.3H861.5V452.4H863.5V449.7H867.5V452.6H869.5V453H871.5V450H873.5V449.8H875.5V453.6H877.5V453.3H879.5V452.9H881.5V454.7H883.5V452.3H885.5V451.1H887.5V450.6H889.5V451.5H891.5V451.9H893.5V449.7H897.5V449.8H899.5V450.5H901.5V451.8H903.5V449.9H905.5V448H907.5V450.2H909.5V452.7H911.5V452.4H913.5V457.5H915.5V459.4H917.5V454.3H919.5V453.8H921.5V457.1H923.5V456.8H925.5V451.8H927.5V451.4H929.5V454.2H931.5V459.1H933.5V455.4H935.5V454.7H937.5V458.2H939.5V457.2H943.5V456.1H945.5V459.2H947.5V459.9H951.5V460.1H953.5V457.4H955.5V457.8H957.5V458H959.5V458.4H961.5V462.3H963.5V460.4H965.5V454.5H967.5V457.5H969.5V462.5H971.5V462.6H973.5V463H977.5V462.7H979.5V461.6H981.5V458.5H983.5V458.1H985.5V462.9H987.5V463H989.5V459.7H991.5V461.1H993.5V462.8H995.5V463.2H997.5V464H999.5V463.9H1001.5V463.2H1003.5V462.8H1005.5V462.7H1007.5V463.6H1009.5V463.1H1013.5V463.8H1015.5V464.1H1017.5V463.9H1019.5V465.1H1021.5V465.5H1023.5V464H1025.5V464.8H1027.5V464.2H1029.5V464.1H1031.5V463.5H1035.5V465H1037.5V464.7H1039.5V464.3H1041.5V464.2H1043.5V463.8H1045.5V463.7H1049.5V463.2H1051.5V463.5H1053.5V463.9H1055.5V464.1H1057.5V463.9H1059.5V463.5H1061.5V463H1065.5V463.7H1067.5V463.4H1069.5V462.2H1071.5V459.6H1073.5V458.4H1075.5V455.3H1077.5V453.2H1079.5V451.7H1081.5V448.1H1083.5V445.5H1085.5V445H1087.5V444.5ZM1091.5 444.5V445.6H1093.5V444.5Z" fill="#37b878"/>
<path d="M179.5 444.5V447.8H181.5V446.4H183.5V448.3H185.5V447.9H187.5V444.5ZM191.5 444.5V449.8H193.5V450.7H195.5V448.8H197.5V448H199.5V447.8H201.5V444.5ZM205.5 444.5V447.2H207.5V449.1H209.5V448.5H211.5V447.8H217.5V447.5H219.5V447.2H221.5V447.5H223.5V447.4H225.5V447.2H227.5V447.5H229.5V447.4H231.5V447.7H233.5V448.2H235.5V447.9H237.5V447.6H239.5V447.4H241.5V448.1H243.5V449H245.5V448.3H249.5V448.8H251.5V448.6H253.5V449.6H255.5V449.2H257.5V448.4H259.5V449.1H261.5V448.5H263.5V447.6H265.5V448.1H267.5V449.1H269.5V448.7H271.5V448.5H275.5V447.7H277.5V448H279.5V447.6H281.5V448.3H283.5V449.6H285.5V450.7H287.5V451.7H289.5V452.3H291.5V452.7H293.5V452.5H295.5V453.2H299.5V453.5H301.5V453.6H303.5V454H305.5V453.7H307.5V453.1H309.5V453.2H311.5V453.7H313.5V453.8H315.5V453.1H317.5V454H319.5V453.7H321.5V453.5H323.5V453.8H325.5V454.8H327.5V454.2H329.5V454.7H331.5V455.5H333.5V454.2H335.5V455H337.5V454.3H339.5V454.7H341.5V455.2H343.5V456.1H345.5V455.2H347.5V455.6H349.5V455.7H351.5V456H353.5V455.7H355.5V455.4H357.5V455.7H359.5V455.6H361.5V455.3H363.5V455.2H365.5V455.8H367.5V456H369.5V455.8H371.5V455.9H373.5V455.3H375.5V455.7H377.5V456.2H379.5V455.8H381.5V455.4H383.5V456.2H385.5V456H387.5V456.6H389.5V455.5H391.5V454.9H393.5V454.8H395.5V455.6H397.5V455.9H399.5V454.8H401.5V455H403.5V455.1H405.5V455H411.5V454.9H413.5V455.4H415.5V454.9H417.5V455H419.5V454.7H421.5V454.9H423.5V454.3H425.5V454.5H427.5V454.9H429.5V454.5H431.5V454.7H433.5V454.6H435.5V454.9H437.5V454.7H439.5V454.4H441.5V454.3H443.5V454.1H445.5V454.4H449.5V454.1H451.5V454H455.5V454.1H457.5V453.2H461.5V453.6H463.5V453.2H465.5V453.3H467.5V452.7H469.5V452.5H471.5V451.9H473.5V451H475.5V451.6H477.5V452H479.5V451.4H481.5V450.9H483.5V449.5H485.5V448.7H487.5V450.2H491.5V449.3H493.5V448.5H495.5V448.1H497.5V448.6H499.5V448.3H501.5V448H503.5V447.7H505.5V445.6H507.5V444.9H509.5V444.6H511.5V444.5ZM513.5 444.5V445.3H517.5V444.5ZM881.5 444.5V445.1H883.5V444.5ZM913.5 444.5V446.6H915.5V450.2H917.5V444.5ZM921.5 444.5V445.8H923.5V445.4H925.5V444.5ZM931.5 444.5V448.8H933.5V444.5ZM937.5 444.5V447.3H939.5V445.4H941.5V445.3H943.5V444.5H945.5V448.6H947.5V448.7H949.5V448.8H951.5V448.7H953.5V445.4H955.5V445.5H957.5V445.7H959.5V445.9H961.5V451H963.5V448.4H965.5V446.2H967.5V446.9H969.5V453.3H971.5V455.9H973.5V455.6H975.5V456.3H977.5V451.7H979.5V450.4H981.5V447.5H983.5V447.3H985.5V453.5H987.5V453.6H989.5V447.7H991.5V449.3H993.5V455.7H995.5V460.8H997.5V462.8H1001.5V460.3H1003.5V453.4H1005.5V458H1007.5V462.5H1009.5V462.1H1011.5V460.6H1013.5V462.6H1015.5V462.8H1019.5V463.7H1021.5V464H1023.5V462.9H1025.5V463.4H1027.5V463.1H1029.5V462.9H1031.5V460.8H1033.5V462.4H1035.5V463.6H1037.5V463.3H1039.5V462.9H1041.5V462.8H1043.5V462.5H1045.5V461.5H1047.5V460.4H1049.5V461.6H1051.5V460.7H1053.5V462.3H1055.5V462.7H1057.5V458.7H1059.5V457.2H1061.5V453.7H1063.5V452.2H1065.5V459.8H1067.5V457.4H1069.5V450.6H1071.5V446.3H1073.5V445.6H1075.5V444.5Z" fill="#40bd72"/>
<path d="M191.5 444.5V448.9H193.5V449.7H195.5V447.7H197.5V444.5ZM205.5 444.5V446.6H207.5V448.5H209.5V448H211.5V447.5H217.5V447.3H219.5V447.1H221.5V447.3H223.5V447.2H225.5V447.1H227.5V447.3H231.5V447.5H233.5V447.7H235.5V447.6H237.5V447.4H239.5V447.3H241.5V447.7H243.5V448.5H245.5V447.7H249.5V448.3H251.5V448.1H253.5V449.1H255.5V448.7H257.5V447.9H259.5V448.5H261.5V448H263.5V447.4H265.5V447.6H267.5V448.6H269.5V448.1H271.5V448H273.5V447.9H275.5V447.5H277.5V447.6H279.5V447.4H281.5V447.7H283.5V449H285.5V450.1H287.5V451.3H289.5V451.9H291.5V452.4H293.5V452.1H295.5V452.8H299.5V453.1H301.5V453.2H303.5V453.6H305.5V453.3H307.5V452.7H309.5V452.8H311.5V453.3H315.5V452.7H317.5V453.6H319.5V453.3H321.5V453.1H323.5V453.4H325.5V454.3H327.5V453.8H329.5V454.4H331.5V455.1H333.5V453.9H335.5V454.6H337.5V454.1H339.5V454.4H341.5V454.8H343.5V455.7H345.5V454.9H347.5V455.2H351.5V455.6H353.5V455.3H355.5V455.1H357.5V455.3H359.5V455.2H361.5V454.9H363.5V454.8H365.5V455.4H367.5V455.5H369.5V455.4H371.5V455.5H373.5V455H375.5V455.3H377.5V455.8H379.5V455.4H381.5V455.1H383.5V455.8H385.5V455.6H387.5V456H389.5V455.1H391.5V454.6H393.5V454.5H395.5V455.2H397.5V455.4H399.5V454.5H401.5V454.7H405.5V454.6H407.5V454.7H409.5V454.6H413.5V454.9H415.5V454.5H417.5V454H419.5V454.3H421.5V454H423.5V452.4H425.5V453.2H427.5V454H429.5V453.2H431.5V453.3H433.5V452.7H435.5V454H437.5V453.7H439.5V451.9H441.5V451.5H443.5V451.3H445.5V452.5H449.5V451.7H451.5V451.2H453.5V451.7H455.5V452H457.5V450.5H459.5V450.4H461.5V450.7H463.5V450.3H465.5V450.5H467.5V450H469.5V449.8H471.5V449.3H473.5V448.1H475.5V448.8H477.5V449.1H479.5V448.3H481.5V448H483.5V446.1H485.5V445.6H487.5V444.9H489.5V445.1H491.5V444.5ZM971.5 444.5V445H973.5V444.6H975.5V445.1H977.5V444.5ZM993.5 444.5V444.8H995.5V449.9H997.5V456.1H999.5V457.3H1001.5V448.5H1003.5V446.4H1005.5V447.5H1007.5V454.4H1009.5V451.7H1011.5V449.9H1013.5V453.2H1015.5V454.5H1017.5V455.6H1019.5V457.6H1021.5V459.9H1023.5V457.8H1025.5V456.9H1027.5V460.1H1029.5V455.9H1031.5V449.9H1033.5V451.8H1035.5V457.7H1037.5V456.4H1039.5V454H1041.5V452.2H1043.5V451.1H1045.5V449.7H1047.5V448.4H1049.5V450.6H1051.5V449.4H1053.5V451.4H1055.5V452.6H1057.5V445.7H1059.5V445H1061.5V444.5ZM1065.5 444.5V449.9H1067.5V445.9H1069.5V444.5Z" fill="#4ec36b"/>
<path d="M191.5 444.5V447.9H193.5V448.7H195.5V444.5ZM205.5 444.5V446.1H207.5V448H209.5V447.6H211.5V447.3H217.5V447.1H219.5V446.9H221.5V447.1H225.5V446.9H227.5V447.1H231.5V447.3H233.5V447.4H235.5V447.3H237.5V447.2H239.5V447.1H241.5V447.4H243.5V448H245.5V447.5H249.5V447.7H251.5V447.6H253.5V448.6H255.5V448.2H257.5V447.5H259.5V448H261.5V447.6H263.5V447.2H265.5V447.4H267.5V448.1H269.5V447.7H271.5V447.6H275.5V447.3H277.5V447.4H279.5V447.3H281.5V447.5H283.5V448.4H285.5V449.4H287.5V451H289.5V451.6H291.5V452H293.5V451.8H295.5V452.4H299.5V452.7H301.5V452.8H303.5V453.2H305.5V452.8H307.5V452.3H309.5V452.4H311.5V452.8H313.5V452.9H315.5V452.4H317.5V453.1H319.5V452.9H321.5V452.8H323.5V453.1H325.5V453.9H327.5V453.5H329.5V454H331.5V454.7H333.5V453.7H335.5V454.3H337.5V453.8H339.5V454.1H341.5V454.5H343.5V455.2H345.5V454.5H347.5V454.8H351.5V455.2H353.5V454.9H355.5V454.7H357.5V454.9H359.5V454.8H361.5V454.6H363.5V454.5H365.5V455H367.5V455.1H369.5V455H371.5V455.1H373.5V454.7H375.5V455H377.5V455.4H379.5V455H381.5V454.7H383.5V455.3H385.5V455.1H387.5V455.5H389.5V454.7H391.5V453.9H393.5V454.3H395.5V454.8H397.5V454.9H399.5V454H401.5V454.4H403.5V454H405.5V453.5H409.5V452.8H411.5V452.5H413.5V453H415.5V452H417.5V451.1H419.5V451.4H421.5V451.1H423.5V449.5H425.5V450.5H427.5V451H429.5V450.3H433.5V449.9H435.5V451.1H437.5V450.9H439.5V449.1H441.5V448.6H443.5V448.5H445.5V449.6H447.5V449.7H449.5V448.9H451.5V448.4H453.5V449H455.5V449.3H457.5V447.8H459.5V447.7H461.5V447.8H463.5V445.7H465.5V446.7H467.5V445.2H469.5V444.8H471.5V444.5ZM997.5 444.5V445.4H999.5V447.8H1001.5V444.5ZM1019.5 444.5V445.1H1021.5V448.6H1023.5V445.7H1025.5V444.9H1027.5V450H1029.5V444.5H1031.5V444.5ZM1035.5 444.5V445.8H1037.5V444.9H1039.5V444.5Z" fill="#5ac864"/>
<path d="M193.5 444.5V447.7H195.5V444.5ZM207.5 444.5V447.5H209.5V447.3H211.5V447.1H217.5V446.9H219.5V446.8H221.5V446.9H225.5V446.8H227.5V446.9H231.5V447.1H233.5V447.2H235.5V447.1H237.5V447H239.5V446.9H241.5V447.2H243.5V447.6H245.5V447.2H249.5V447.4H253.5V448.1H255.5V447.7H257.5V447.3H259.5V447.6H261.5V447.3H263.5V447H265.5V447.2H267.5V447.6H269.5V447.4H271.5V447.3H275.5V447.1H277.5V447.2H279.5V447.1H281.5V447.3H283.5V447.8H285.5V448.8H287.5V450.6H289.5V451.2H291.5V451.6H293.5V451.5H295.5V452H299.5V452.2H301.5V452.3H303.5V452.7H305.5V452.4H307.5V452H309.5V452.1H311.5V452.4H313.5V452.5H315.5V452H317.5V452.7H319.5V452.5H321.5V452.4H323.5V452.8H325.5V453.4H327.5V453.1H329.5V453.7H331.5V454.3H333.5V453.5H335.5V454H337.5V453.6H339.5V453.8H341.5V454.1H343.5V454.8H345.5V454.2H347.5V454.4H351.5V454.7H353.5V454.5H355.5V454.4H357.5V454.5H361.5V454.2H365.5V454.7H369.5V454.6H371.5V454.7H373.5V454.4H375.5V454.6H377.5V454.9H379.5V454.6H381.5V454.4H383.5V454.8H385.5V454.3H387.5V454.6H389.5V453H391.5V451.4H393.5V452.5H395.5V453.2H397.5V452.1H399.5V451.4H401.5V452H403.5V451.3H405.5V450.7H409.5V450H411.5V449.7H413.5V450.1H415.5V449H417.5V448.2H419.5V448.4H421.5V448.1H423.5V446.4H425.5V447.8H427.5V447.9H429.5V445.6H431.5V445.2H433.5V444.9H435.5V448.2H437.5V448H439.5V444.5Z" fill="#67cc5c"/>
<path d="M207.5 444.5V447.1H209.5V447H211.5V446.8H213.5V446.9H217.5V446.7H219.5V446.6H221.5V446.7H225.5V446.6H227.5V446.7H231.5V446.8H233.5V447H235.5V446.9H237.5V446.8H239.5V446.7H241.5V447H243.5V447.3H245.5V447H249.5V447.2H251.5V447.1H253.5V447.7H255.5V447.4H257.5V447.1H259.5V447.3H261.5V447.1H263.5V446.8H265.5V447H267.5V447.3H269.5V447.2H271.5V447.1H275.5V446.9H277.5V447H279.5V446.9H281.5V447.1H283.5V447.5H285.5V448.1H287.5V450.1H289.5V450.9H291.5V451.3H293.5V451.2H295.5V451.6H299.5V451.8H301.5V451.9H303.5V452.3H305.5V452H307.5V451.6H309.5V451.7H311.5V452H315.5V451.7H317.5V452.3H319.5V452.1H321.5V452H323.5V452.4H325.5V452.9H327.5V452.7H329.5V453.3H331.5V453.9H333.5V453.2H335.5V453.6H337.5V453.3H339.5V453.5H341.5V453.7H343.5V454.3H345.5V453.9H347.5V454H351.5V454.3H353.5V454.2H355.5V454H357.5V454.1H359.5V453.9H361.5V453.1H363.5V453.4H365.5V454.2H367.5V453.8H369.5V453.1H371.5V453.6H373.5V453.3H375.5V453.2H377.5V453.3H379.5V452.6H381.5V452H383.5V452.3H385.5V451.7H387.5V451.9H389.5V450.4H391.5V448.9H393.5V450H395.5V450.6H397.5V449.3H399.5V448.8H401.5V449.4H403.5V448.5H405.5V447.9H409.5V445.1H411.5V444.5ZM413.5 444.5V444.9H415.5V444.5Z" fill="#75d054"/>
<path d="M207.5 444.5V446.7H209.5V446.8H211.5V446.6H217.5V446.5H231.5V446.6H233.5V446.7H237.5V446.6H241.5V446.7H243.5V447H245.5V446.8H249.5V446.9H253.5V447.3H255.5V447.1H257.5V446.8H259.5V447H261.5V446.9H263.5V446.6H265.5V446.8H267.5V447H269.5V446.9H275.5V446.7H277.5V446.8H279.5V446.7H281.5V446.9H283.5V447.2H285.5V447.6H287.5V449.5H289.5V450.5H291.5V450.9H295.5V451.2H299.5V451.3H301.5V451.5H303.5V451.8H305.5V451.6H307.5V451.2H309.5V451.3H311.5V451.5H313.5V451.6H315.5V451.4H317.5V451.9H319.5V451.7H323.5V452.1H325.5V452.5H327.5V452.2H329.5V452.9H331.5V453.5H333.5V452.9H335.5V452.7H337.5V452.5H339.5V452.4H341.5V452.6H343.5V453.6H345.5V453.3H347.5V452.7H349.5V452.5H351.5V452.7H353.5V452.8H355.5V452.1H357.5V452.2H359.5V451.9H361.5V451.2H363.5V451.3H365.5V452.1H367.5V451.6H369.5V450.8H371.5V451.3H373.5V451.1H375.5V450.9H379.5V450.1H381.5V449.6H383.5V449.8H385.5V449H387.5V449.2H389.5V447.9H391.5V445.8H393.5V445.7H395.5V448H397.5V444.5Z" fill="#86d549"/>
<path d="M207.5 444.5V446.3H209.5V446.5H211.5V446.4H219.5V446.3H221.5V446.4H223.5V446.3H227.5V446.4H233.5V446.5H237.5V446.4H241.5V446.5H243.5V446.7H245.5V446.5H249.5V446.6H253.5V446.9H255.5V446.8H257.5V446.6H259.5V446.7H261.5V446.6H263.5V446.5H267.5V446.8H269.5V446.7H271.5V446.6H275.5V446.5H277.5V446.6H279.5V446.5H281.5V446.6H283.5V446.9H285.5V447.2H287.5V449H289.5V450H291.5V450.5H295.5V450.8H301.5V451.1H303.5V451.4H305.5V451.2H307.5V450.8H311.5V451H315.5V450.8H317.5V451.4H319.5V451.2H321.5V451H323.5V451.7H325.5V451.5H327.5V451.1H329.5V452H331.5V452.7H333.5V451.5H335.5V451.2H337.5V451.1H339.5V450.9H341.5V451H343.5V451.8H345.5V451.7H347.5V451H349.5V450.7H351.5V450.8H353.5V450.9H355.5V450.2H359.5V449.9H361.5V449.2H363.5V449.3H365.5V450.1H367.5V449.5H369.5V448.5H371.5V449H373.5V448.9H375.5V448.5H379.5V446.7H381.5V444.7H383.5V444.9H385.5V444.5Z" fill="#95d840"/>
<path d="M209.5 444.5V446.2H219.5V446.1H221.5V446.2H233.5V446.3H235.5V446.2H241.5V446.3H243.5V446.4H245.5V446.3H249.5V446.4H253.5V446.5H255.5V446.4H257.5V446.3H259.5V446.4H263.5V446.3H267.5V446.5H269.5V446.4H275.5V446.3H277.5V446.4H279.5V446.3H281.5V446.4H283.5V446.7H285.5V446.9H287.5V448.4H289.5V449.4H291.5V449.9H293.5V450H295.5V450.2H297.5V450.1H301.5V450.5H303.5V450.9H305.5V450.6H307.5V450.1H311.5V450.2H315.5V450.1H317.5V450.6H319.5V450.4H321.5V450.2H323.5V450.8H325.5V450.4H327.5V450H329.5V450.8H331.5V451.3H333.5V450.1H335.5V449.7H337.5V449.6H339.5V449.3H341.5V449.4H343.5V450.1H345.5V450H347.5V449.2H349.5V448.9H353.5V449.1H355.5V448.3H357.5V448.2H359.5V447.9H361.5V445.5H363.5V444.8H365.5V448H367.5V445H369.5V444.5Z" fill="#a5db36"/>
<path d="M209.5 444.5V444.6H211.5V444.8H213.5V445H215.5V445.1H217.5V445.3H219.5V445.5H221.5V445.6H223.5V445.8H225.5V446H241.5V446.1H267.5V446.2H275.5V446.1H277.5V446.2H283.5V446.4H285.5V446.6H287.5V447.9H289.5V448.8H291.5V449.3H295.5V449.5H297.5V449.3H299.5V449.4H301.5V449.8H303.5V450.1H305.5V449.8H307.5V449.3H309.5V449.4H315.5V449.3H317.5V449.7H319.5V449.6H321.5V449.4H323.5V450H325.5V449.4H327.5V448.9H329.5V449.6H331.5V450H333.5V448.8H335.5V448.2H339.5V447.8H343.5V448.3H345.5V448.4H347.5V445.1H349.5V444.5ZM353.5 444.5V444.5H355.5V444.5Z" fill="#b5de2b"/>
<path d="M279.5 444.5V444.9H281.5V446H283.5V446.1H285.5V446.2H287.5V447H289.5V448.2H291.5V448.6H293.5V448.7H295.5V448.8H297.5V448.6H301.5V449.1H303.5V449.4H305.5V449.1H307.5V448.6H309.5V448.7H313.5V448.6H317.5V448.9H319.5V448.7H321.5V448.6H323.5V449.1H325.5V448.3H327.5V447.8H329.5V448.4H331.5V448.6H333.5V444.8H335.5V444.5Z" fill="#c8e020"/>
<path d="M287.5 444.5V445.9H289.5V447H291.5V447.9H293.5V448H295.5V448.1H297.5V447.9H301.5V448.3H303.5V448.7H305.5V448.3H307.5V447.9H313.5V447.8H315.5V447.9H317.5V448.1H319.5V447.9H321.5V447.8H323.5V448.2H325.5V444.5Z" fill="#d8e219"/>
<path d="M301.5 444.5V445.3H303.5V447.9H305.5V445H307.5V444.5Z" fill="#e7e419"/>
<path d="M163.5 632.5v5M289.5 632.5v5M415.5 632.5v5M541.5 632.5v5M667.5 632.5v5M793.5 632.5v5M919.5 632.5v5M1045.5 632.5v5" stroke="#000" stroke-width="1.11" fill="none"/>
<path d="M163.5 444.5h-5.3M163.5 491.5h-5.3M163.5 538.5h-5.3M163.5 585.5h-5.3M163.5 632.5h-5.3" stroke="#000" stroke-width="1.11" fill="none"/>
<rect x="163.5" y="444.5" width="1007.0" height="188.0" fill="none" stroke="#000" stroke-width="1.11"/>
<text x="153.80" y="449.55" text-anchor="end">0</text>
<text x="153.00" y="496.65" text-anchor="end">−5</text>
<text x="152.50" y="542.65" text-anchor="end">−10</text>
<text x="152.50" y="589.65" text-anchor="end">−15</text>
<text x="152.50" y="636.65" text-anchor="end">−20</text>
<text transform="translate(113.5 539.4) rotate(-90)" text-anchor="middle">depth (m)</text>
<text x="162.2" y="651.9" text-anchor="middle">05-07 00</text>
<text x="288.2" y="651.9" text-anchor="middle">05-07 03</text>
<text x="414.2" y="651.9" text-anchor="middle">05-07 06</text>
<text x="540.2" y="651.9" text-anchor="middle">05-07 09</text>
<text x="666.2" y="651.9" text-anchor="middle">05-07 12</text>
<text x="792.2" y="651.9" text-anchor="middle">05-07 15</text>
<text x="918.2" y="651.9" text-anchor="middle">05-07 18</text>
<text x="1044.2" y="651.9" text-anchor="middle">05-07 21</text>
<text x="666.5" y="671.6" text-anchor="middle">time (UTC)</text>
<rect x="265.5" y="672.5" width="803.0" height="40.0" fill="#fff"/>
<rect x="265" y="672.5" width="19" height="40.0" fill="#450559"/>
<rect x="284" y="672.5" width="20" height="40.0" fill="#470e61"/>
<rect x="304" y="672.5" width="19" height="40.0" fill="#481769"/>
<rect x="323" y="672.5" width="20" height="40.0" fill="#481f70"/>
<rect x="343" y="672.5" width="19" height="40.0" fill="#482878"/>
<rect x="362" y="672.5" width="20" height="40.0" fill="#472f7d"/>
<rect x="382" y="672.5" width="20" height="40.0" fill="#453781"/>
<rect x="402" y="672.5" width="19" height="40.0" fill="#433e85"/>
<rect x="421" y="672.5" width="20" height="40.0" fill="#404688"/>
<rect x="441" y="672.5" width="19" height="40.0" fill="#3d4d8a"/>
<rect x="460" y="672.5" width="20" height="40.0" fill="#3a538b"/>
<rect x="480" y="672.5" width="20" height="40.0" fill="#375a8c"/>
<rect x="500" y="672.5" width="19" height="40.0" fill="#34618d"/>
<rect x="519" y="672.5" width="20" height="40.0" fill="#31678e"/>
<rect x="539" y="672.5" width="19" height="40.0" fill="#2e6d8e"/>
<rect x="558" y="672.5" width="20" height="40.0" fill="#2c728e"/>
<rect x="578" y="672.5" width="19" height="40.0" fill="#29798e"/>
<rect x="597" y="672.5" width="20" height="40.0" fill="#277f8e"/>
<rect x="617" y="672.5" width="20" height="40.0" fill="#25848e"/>
<rect x="637" y="672.5" width="19" height="40.0" fill="#238a8d"/>
<rect x="656" y="672.5" width="20" height="40.0" fill="#21918c"/>
<rect x="676" y="672.5" width="19" height="40.0" fill="#1f968b"/>
<rect x="695" y="672.5" width="20" height="40.0" fill="#1e9c89"/>
<rect x="715" y="672.5" width="20" height="40.0" fill="#1fa187"/>
<rect x="735" y="672.5" width="19" height="40.0" fill="#22a785"/>
<rect x="754" y="672.5" width="20" height="40.0" fill="#27ad81"/>
<rect x="774" y="672.5" width="19" height="40.0" fill="#2eb37c"/>
<rect x="793" y="672.5" width="20" height="40.0" fill="#37b878"/>
<rect x="813" y="672.5" width="20" height="40.0" fill="#40bd72"/>
<rect x="833" y="672.5" width="19" height="40.0" fill="#4ec36b"/>
<rect x="852" y="672.5" width="20" height="40.0" fill="#5ac864"/>
<rect x="872" y="672.5" width="19" height="40.0" fill="#67cc5c"/>
<rect x="891" y="672.5" width="20" height="40.0" fill="#75d054"/>
<rect x="911" y="672.5" width="19" height="40.0" fill="#86d549"/>
<rect x="930" y="672.5" width="20" height="40.0" fill="#95d840"/>
<rect x="950" y="672.5" width="20" height="40.0" fill="#a5db36"/>
<rect x="970" y="672.5" width="19" height="40.0" fill="#b5de2b"/>
<rect x="989" y="672.5" width="20" height="40.0" fill="#c8e020"/>
<rect x="1009" y="672.5" width="19" height="40.0" fill="#d8e219"/>
<rect x="1028" y="672.5" width="20" height="40.0" fill="#e7e419"/>
<rect x="1048" y="672.5" width="21" height="40.0" fill="#f6e620"/>
<rect x="265.5" y="672.5" width="803.0" height="40.0" fill="none" stroke="#000" stroke-width="1.11"/>
<text x="264.0" y="733.1" text-anchor="middle">8.6</text>
<text x="362.2" y="733.1" text-anchor="middle">9.6</text>
<text x="461.2" y="733.1" text-anchor="middle">10.6</text>
<text x="558.2" y="733.1" text-anchor="middle">11.6</text>
<text x="656.9" y="733.1" text-anchor="middle">12.6</text>
<text x="754.4" y="733.1" text-anchor="middle">13.6</text>
<text x="852.2" y="733.1" text-anchor="middle">14.6</text>
<text x="950.2" y="733.1" text-anchor="middle">15.6</text>
<text x="1047.5" y="733.1" text-anchor="middle">16.6</text>
<path d="M265.5 712.5v5M362.5 712.5v5M460.5 712.5v5M558.5 712.5v5M656.5 712.5v5M754.5 712.5v5M852.5 712.5v5M950.5 712.5v5M1048.5 712.5v5" stroke="#000" stroke-width="1.11" fill="none"/>
<text x="666.8" y="751.5" text-anchor="middle">degC</text>
</svg></body></html>
